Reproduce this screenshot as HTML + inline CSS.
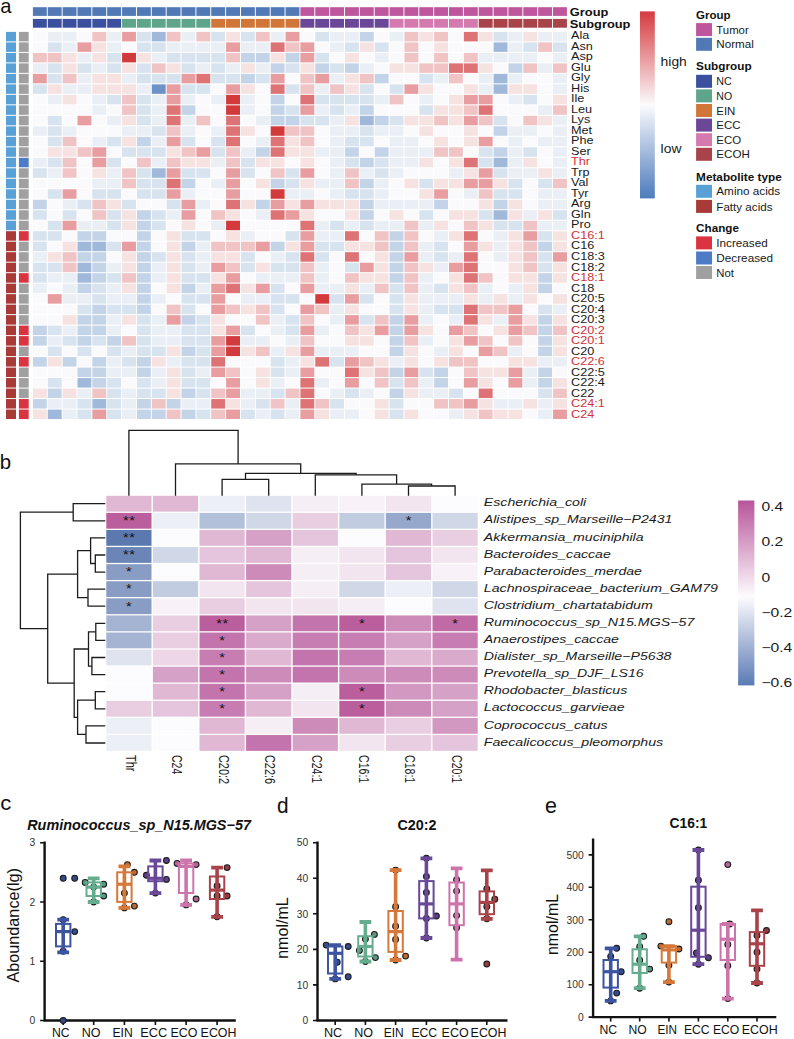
<!DOCTYPE html>
<html><head><meta charset="utf-8"><style>
html,body{margin:0;padding:0;background:#fff;}
svg{display:block;}
text{font-family:"Liberation Sans", sans-serif;}
</style></head><body>
<svg width="794" height="1039" viewBox="0 0 794 1039">
<rect width="794" height="1039" fill="#ffffff"/>
<text transform="translate(0.30,12.50) scale(0.96,1)" font-size="21.0" font-weight="normal" font-style="normal" fill="#111" text-anchor="start">a</text>
<rect x="32.90" y="7.20" width="13.90" height="8.70" fill="#5079b6" />
<rect x="32.90" y="18.90" width="13.90" height="8.80" fill="#3a4f9e" />
<rect x="47.76" y="7.20" width="13.90" height="8.70" fill="#5079b6" />
<rect x="47.76" y="18.90" width="13.90" height="8.80" fill="#3a4f9e" />
<rect x="62.62" y="7.20" width="13.90" height="8.70" fill="#5079b6" />
<rect x="62.62" y="18.90" width="13.90" height="8.80" fill="#3a4f9e" />
<rect x="77.48" y="7.20" width="13.90" height="8.70" fill="#5079b6" />
<rect x="77.48" y="18.90" width="13.90" height="8.80" fill="#3a4f9e" />
<rect x="92.34" y="7.20" width="13.90" height="8.70" fill="#5079b6" />
<rect x="92.34" y="18.90" width="13.90" height="8.80" fill="#3a4f9e" />
<rect x="107.21" y="7.20" width="13.90" height="8.70" fill="#5079b6" />
<rect x="107.21" y="18.90" width="13.90" height="8.80" fill="#3a4f9e" />
<rect x="122.07" y="7.20" width="13.90" height="8.70" fill="#5079b6" />
<rect x="122.07" y="18.90" width="13.90" height="8.80" fill="#5ea58c" />
<rect x="136.93" y="7.20" width="13.90" height="8.70" fill="#5079b6" />
<rect x="136.93" y="18.90" width="13.90" height="8.80" fill="#5ea58c" />
<rect x="151.79" y="7.20" width="13.90" height="8.70" fill="#5079b6" />
<rect x="151.79" y="18.90" width="13.90" height="8.80" fill="#5ea58c" />
<rect x="166.65" y="7.20" width="13.90" height="8.70" fill="#5079b6" />
<rect x="166.65" y="18.90" width="13.90" height="8.80" fill="#5ea58c" />
<rect x="181.51" y="7.20" width="13.90" height="8.70" fill="#5079b6" />
<rect x="181.51" y="18.90" width="13.90" height="8.80" fill="#5ea58c" />
<rect x="196.37" y="7.20" width="13.90" height="8.70" fill="#5079b6" />
<rect x="196.37" y="18.90" width="13.90" height="8.80" fill="#5ea58c" />
<rect x="211.23" y="7.20" width="13.90" height="8.70" fill="#5079b6" />
<rect x="211.23" y="18.90" width="13.90" height="8.80" fill="#d27538" />
<rect x="226.09" y="7.20" width="13.90" height="8.70" fill="#5079b6" />
<rect x="226.09" y="18.90" width="13.90" height="8.80" fill="#d27538" />
<rect x="240.95" y="7.20" width="13.90" height="8.70" fill="#5079b6" />
<rect x="240.95" y="18.90" width="13.90" height="8.80" fill="#d27538" />
<rect x="255.82" y="7.20" width="13.90" height="8.70" fill="#5079b6" />
<rect x="255.82" y="18.90" width="13.90" height="8.80" fill="#d27538" />
<rect x="270.68" y="7.20" width="13.90" height="8.70" fill="#5079b6" />
<rect x="270.68" y="18.90" width="13.90" height="8.80" fill="#d27538" />
<rect x="285.54" y="7.20" width="13.90" height="8.70" fill="#5079b6" />
<rect x="285.54" y="18.90" width="13.90" height="8.80" fill="#d27538" />
<rect x="300.40" y="7.20" width="13.90" height="8.70" fill="#bd569c" />
<rect x="300.40" y="18.90" width="13.90" height="8.80" fill="#6a4797" />
<rect x="315.26" y="7.20" width="13.90" height="8.70" fill="#bd569c" />
<rect x="315.26" y="18.90" width="13.90" height="8.80" fill="#6a4797" />
<rect x="330.12" y="7.20" width="13.90" height="8.70" fill="#bd569c" />
<rect x="330.12" y="18.90" width="13.90" height="8.80" fill="#6a4797" />
<rect x="344.98" y="7.20" width="13.90" height="8.70" fill="#bd569c" />
<rect x="344.98" y="18.90" width="13.90" height="8.80" fill="#6a4797" />
<rect x="359.84" y="7.20" width="13.90" height="8.70" fill="#bd569c" />
<rect x="359.84" y="18.90" width="13.90" height="8.80" fill="#6a4797" />
<rect x="374.70" y="7.20" width="13.90" height="8.70" fill="#bd569c" />
<rect x="374.70" y="18.90" width="13.90" height="8.80" fill="#6a4797" />
<rect x="389.56" y="7.20" width="13.90" height="8.70" fill="#bd569c" />
<rect x="389.56" y="18.90" width="13.90" height="8.80" fill="#d47aae" />
<rect x="404.43" y="7.20" width="13.90" height="8.70" fill="#bd569c" />
<rect x="404.43" y="18.90" width="13.90" height="8.80" fill="#d47aae" />
<rect x="419.29" y="7.20" width="13.90" height="8.70" fill="#bd569c" />
<rect x="419.29" y="18.90" width="13.90" height="8.80" fill="#d47aae" />
<rect x="434.15" y="7.20" width="13.90" height="8.70" fill="#bd569c" />
<rect x="434.15" y="18.90" width="13.90" height="8.80" fill="#d47aae" />
<rect x="449.01" y="7.20" width="13.90" height="8.70" fill="#bd569c" />
<rect x="449.01" y="18.90" width="13.90" height="8.80" fill="#d47aae" />
<rect x="463.87" y="7.20" width="13.90" height="8.70" fill="#bd569c" />
<rect x="463.87" y="18.90" width="13.90" height="8.80" fill="#d47aae" />
<rect x="478.73" y="7.20" width="13.90" height="8.70" fill="#bd569c" />
<rect x="478.73" y="18.90" width="13.90" height="8.80" fill="#a8434a" />
<rect x="493.59" y="7.20" width="13.90" height="8.70" fill="#bd569c" />
<rect x="493.59" y="18.90" width="13.90" height="8.80" fill="#a8434a" />
<rect x="508.45" y="7.20" width="13.90" height="8.70" fill="#bd569c" />
<rect x="508.45" y="18.90" width="13.90" height="8.80" fill="#a8434a" />
<rect x="523.31" y="7.20" width="13.90" height="8.70" fill="#bd569c" />
<rect x="523.31" y="18.90" width="13.90" height="8.80" fill="#a8434a" />
<rect x="538.17" y="7.20" width="13.90" height="8.70" fill="#bd569c" />
<rect x="538.17" y="18.90" width="13.90" height="8.80" fill="#a8434a" />
<rect x="553.03" y="7.20" width="13.90" height="8.70" fill="#bd569c" />
<rect x="553.03" y="18.90" width="13.90" height="8.80" fill="#a8434a" />
<rect x="32.90" y="31.90" width="13.90" height="9.50" fill="#fafafc" />
<rect x="47.76" y="31.90" width="13.90" height="9.50" fill="#eaeff6" />
<rect x="62.62" y="31.90" width="13.90" height="9.50" fill="#eaeff6" />
<rect x="77.48" y="31.90" width="13.90" height="9.50" fill="#fafafc" />
<rect x="92.34" y="31.90" width="13.90" height="9.50" fill="#f0c4c5" />
<rect x="107.21" y="31.90" width="13.90" height="9.50" fill="#eaeff6" />
<rect x="122.07" y="31.90" width="13.90" height="9.50" fill="#e89ea0" />
<rect x="136.93" y="31.90" width="13.90" height="9.50" fill="#d8e3f0" />
<rect x="151.79" y="31.90" width="13.90" height="9.50" fill="#a0b9db" />
<rect x="166.65" y="31.90" width="13.90" height="9.50" fill="#f0c4c5" />
<rect x="181.51" y="31.90" width="13.90" height="9.50" fill="#eaeff6" />
<rect x="196.37" y="31.90" width="13.90" height="9.50" fill="#f0c4c5" />
<rect x="211.23" y="31.90" width="13.90" height="9.50" fill="#d8e3f0" />
<rect x="226.09" y="31.90" width="13.90" height="9.50" fill="#f7e2e2" />
<rect x="240.95" y="31.90" width="13.90" height="9.50" fill="#d8e3f0" />
<rect x="255.82" y="31.90" width="13.90" height="9.50" fill="#f0c4c5" />
<rect x="270.68" y="31.90" width="13.90" height="9.50" fill="#eaeff6" />
<rect x="285.54" y="31.90" width="13.90" height="9.50" fill="#e89ea0" />
<rect x="300.40" y="31.90" width="13.90" height="9.50" fill="#fafafc" />
<rect x="315.26" y="31.90" width="13.90" height="9.50" fill="#d8e3f0" />
<rect x="330.12" y="31.90" width="13.90" height="9.50" fill="#eaeff6" />
<rect x="344.98" y="31.90" width="13.90" height="9.50" fill="#eaeff6" />
<rect x="359.84" y="31.90" width="13.90" height="9.50" fill="#c4d4e8" />
<rect x="374.70" y="31.90" width="13.90" height="9.50" fill="#fafafc" />
<rect x="389.56" y="31.90" width="13.90" height="9.50" fill="#eaeff6" />
<rect x="404.43" y="31.90" width="13.90" height="9.50" fill="#f0c4c5" />
<rect x="419.29" y="31.90" width="13.90" height="9.50" fill="#f7e2e2" />
<rect x="434.15" y="31.90" width="13.90" height="9.50" fill="#f0c4c5" />
<rect x="449.01" y="31.90" width="13.90" height="9.50" fill="#fafafc" />
<rect x="463.87" y="31.90" width="13.90" height="9.50" fill="#de7376" />
<rect x="478.73" y="31.90" width="13.90" height="9.50" fill="#f7e2e2" />
<rect x="493.59" y="31.90" width="13.90" height="9.50" fill="#d8e3f0" />
<rect x="508.45" y="31.90" width="13.90" height="9.50" fill="#eaeff6" />
<rect x="523.31" y="31.90" width="13.90" height="9.50" fill="#f7e2e2" />
<rect x="538.17" y="31.90" width="13.90" height="9.50" fill="#eaeff6" />
<rect x="553.03" y="31.90" width="13.90" height="9.50" fill="#eaeff6" />
<rect x="6.00" y="31.90" width="10.00" height="9.50" fill="#58a0d6" />
<rect x="18.90" y="31.90" width="9.80" height="9.50" fill="#a0a0a0" />
<rect x="32.90" y="42.39" width="13.90" height="9.50" fill="#fafafc" />
<rect x="47.76" y="42.39" width="13.90" height="9.50" fill="#d8e3f0" />
<rect x="62.62" y="42.39" width="13.90" height="9.50" fill="#eaeff6" />
<rect x="77.48" y="42.39" width="13.90" height="9.50" fill="#e89ea0" />
<rect x="92.34" y="42.39" width="13.90" height="9.50" fill="#f7e2e2" />
<rect x="107.21" y="42.39" width="13.90" height="9.50" fill="#eaeff6" />
<rect x="122.07" y="42.39" width="13.90" height="9.50" fill="#fafafc" />
<rect x="136.93" y="42.39" width="13.90" height="9.50" fill="#d8e3f0" />
<rect x="151.79" y="42.39" width="13.90" height="9.50" fill="#d8e3f0" />
<rect x="166.65" y="42.39" width="13.90" height="9.50" fill="#eaeff6" />
<rect x="181.51" y="42.39" width="13.90" height="9.50" fill="#eaeff6" />
<rect x="196.37" y="42.39" width="13.90" height="9.50" fill="#eaeff6" />
<rect x="211.23" y="42.39" width="13.90" height="9.50" fill="#eaeff6" />
<rect x="226.09" y="42.39" width="13.90" height="9.50" fill="#e89ea0" />
<rect x="240.95" y="42.39" width="13.90" height="9.50" fill="#eaeff6" />
<rect x="255.82" y="42.39" width="13.90" height="9.50" fill="#eaeff6" />
<rect x="270.68" y="42.39" width="13.90" height="9.50" fill="#de7376" />
<rect x="285.54" y="42.39" width="13.90" height="9.50" fill="#f0c4c5" />
<rect x="300.40" y="42.39" width="13.90" height="9.50" fill="#e89ea0" />
<rect x="315.26" y="42.39" width="13.90" height="9.50" fill="#fafafc" />
<rect x="330.12" y="42.39" width="13.90" height="9.50" fill="#eaeff6" />
<rect x="344.98" y="42.39" width="13.90" height="9.50" fill="#d8e3f0" />
<rect x="359.84" y="42.39" width="13.90" height="9.50" fill="#f7e2e2" />
<rect x="374.70" y="42.39" width="13.90" height="9.50" fill="#d8e3f0" />
<rect x="389.56" y="42.39" width="13.90" height="9.50" fill="#fafafc" />
<rect x="404.43" y="42.39" width="13.90" height="9.50" fill="#f0c4c5" />
<rect x="419.29" y="42.39" width="13.90" height="9.50" fill="#fafafc" />
<rect x="434.15" y="42.39" width="13.90" height="9.50" fill="#f7e2e2" />
<rect x="449.01" y="42.39" width="13.90" height="9.50" fill="#fafafc" />
<rect x="463.87" y="42.39" width="13.90" height="9.50" fill="#fafafc" />
<rect x="478.73" y="42.39" width="13.90" height="9.50" fill="#fafafc" />
<rect x="493.59" y="42.39" width="13.90" height="9.50" fill="#a0b9db" />
<rect x="508.45" y="42.39" width="13.90" height="9.50" fill="#eaeff6" />
<rect x="523.31" y="42.39" width="13.90" height="9.50" fill="#d8e3f0" />
<rect x="538.17" y="42.39" width="13.90" height="9.50" fill="#f0c4c5" />
<rect x="553.03" y="42.39" width="13.90" height="9.50" fill="#d8e3f0" />
<rect x="6.00" y="42.39" width="10.00" height="9.50" fill="#58a0d6" />
<rect x="18.90" y="42.39" width="9.80" height="9.50" fill="#a0a0a0" />
<rect x="32.90" y="52.88" width="13.90" height="9.50" fill="#f0c4c5" />
<rect x="47.76" y="52.88" width="13.90" height="9.50" fill="#f0c4c5" />
<rect x="62.62" y="52.88" width="13.90" height="9.50" fill="#f7e2e2" />
<rect x="77.48" y="52.88" width="13.90" height="9.50" fill="#eaeff6" />
<rect x="92.34" y="52.88" width="13.90" height="9.50" fill="#f7e2e2" />
<rect x="107.21" y="52.88" width="13.90" height="9.50" fill="#d8e3f0" />
<rect x="122.07" y="52.88" width="13.90" height="9.50" fill="#d23a3c" />
<rect x="136.93" y="52.88" width="13.90" height="9.50" fill="#f7e2e2" />
<rect x="151.79" y="52.88" width="13.90" height="9.50" fill="#eaeff6" />
<rect x="166.65" y="52.88" width="13.90" height="9.50" fill="#d8e3f0" />
<rect x="181.51" y="52.88" width="13.90" height="9.50" fill="#d8e3f0" />
<rect x="196.37" y="52.88" width="13.90" height="9.50" fill="#d8e3f0" />
<rect x="211.23" y="52.88" width="13.90" height="9.50" fill="#d8e3f0" />
<rect x="226.09" y="52.88" width="13.90" height="9.50" fill="#f0c4c5" />
<rect x="240.95" y="52.88" width="13.90" height="9.50" fill="#c4d4e8" />
<rect x="255.82" y="52.88" width="13.90" height="9.50" fill="#c4d4e8" />
<rect x="270.68" y="52.88" width="13.90" height="9.50" fill="#f7e2e2" />
<rect x="285.54" y="52.88" width="13.90" height="9.50" fill="#c4d4e8" />
<rect x="300.40" y="52.88" width="13.90" height="9.50" fill="#e89ea0" />
<rect x="315.26" y="52.88" width="13.90" height="9.50" fill="#d8e3f0" />
<rect x="330.12" y="52.88" width="13.90" height="9.50" fill="#fafafc" />
<rect x="344.98" y="52.88" width="13.90" height="9.50" fill="#f7e2e2" />
<rect x="359.84" y="52.88" width="13.90" height="9.50" fill="#fafafc" />
<rect x="374.70" y="52.88" width="13.90" height="9.50" fill="#eaeff6" />
<rect x="389.56" y="52.88" width="13.90" height="9.50" fill="#fafafc" />
<rect x="404.43" y="52.88" width="13.90" height="9.50" fill="#f0c4c5" />
<rect x="419.29" y="52.88" width="13.90" height="9.50" fill="#fafafc" />
<rect x="434.15" y="52.88" width="13.90" height="9.50" fill="#f0c4c5" />
<rect x="449.01" y="52.88" width="13.90" height="9.50" fill="#fafafc" />
<rect x="463.87" y="52.88" width="13.90" height="9.50" fill="#f0c4c5" />
<rect x="478.73" y="52.88" width="13.90" height="9.50" fill="#eaeff6" />
<rect x="493.59" y="52.88" width="13.90" height="9.50" fill="#eaeff6" />
<rect x="508.45" y="52.88" width="13.90" height="9.50" fill="#eaeff6" />
<rect x="523.31" y="52.88" width="13.90" height="9.50" fill="#eaeff6" />
<rect x="538.17" y="52.88" width="13.90" height="9.50" fill="#fafafc" />
<rect x="553.03" y="52.88" width="13.90" height="9.50" fill="#eaeff6" />
<rect x="6.00" y="52.88" width="10.00" height="9.50" fill="#58a0d6" />
<rect x="18.90" y="52.88" width="9.80" height="9.50" fill="#a0a0a0" />
<rect x="32.90" y="63.37" width="13.90" height="9.50" fill="#eaeff6" />
<rect x="47.76" y="63.37" width="13.90" height="9.50" fill="#d8e3f0" />
<rect x="62.62" y="63.37" width="13.90" height="9.50" fill="#f7e2e2" />
<rect x="77.48" y="63.37" width="13.90" height="9.50" fill="#d8e3f0" />
<rect x="92.34" y="63.37" width="13.90" height="9.50" fill="#eaeff6" />
<rect x="107.21" y="63.37" width="13.90" height="9.50" fill="#d8e3f0" />
<rect x="122.07" y="63.37" width="13.90" height="9.50" fill="#f7e2e2" />
<rect x="136.93" y="63.37" width="13.90" height="9.50" fill="#d8e3f0" />
<rect x="151.79" y="63.37" width="13.90" height="9.50" fill="#f0c4c5" />
<rect x="166.65" y="63.37" width="13.90" height="9.50" fill="#f7e2e2" />
<rect x="181.51" y="63.37" width="13.90" height="9.50" fill="#d8e3f0" />
<rect x="196.37" y="63.37" width="13.90" height="9.50" fill="#eaeff6" />
<rect x="211.23" y="63.37" width="13.90" height="9.50" fill="#d8e3f0" />
<rect x="226.09" y="63.37" width="13.90" height="9.50" fill="#eaeff6" />
<rect x="240.95" y="63.37" width="13.90" height="9.50" fill="#f7e2e2" />
<rect x="255.82" y="63.37" width="13.90" height="9.50" fill="#eaeff6" />
<rect x="270.68" y="63.37" width="13.90" height="9.50" fill="#c4d4e8" />
<rect x="285.54" y="63.37" width="13.90" height="9.50" fill="#d8e3f0" />
<rect x="300.40" y="63.37" width="13.90" height="9.50" fill="#f7e2e2" />
<rect x="315.26" y="63.37" width="13.90" height="9.50" fill="#c4d4e8" />
<rect x="330.12" y="63.37" width="13.90" height="9.50" fill="#d8e3f0" />
<rect x="344.98" y="63.37" width="13.90" height="9.50" fill="#c4d4e8" />
<rect x="359.84" y="63.37" width="13.90" height="9.50" fill="#eaeff6" />
<rect x="374.70" y="63.37" width="13.90" height="9.50" fill="#fafafc" />
<rect x="389.56" y="63.37" width="13.90" height="9.50" fill="#f7e2e2" />
<rect x="404.43" y="63.37" width="13.90" height="9.50" fill="#f7e2e2" />
<rect x="419.29" y="63.37" width="13.90" height="9.50" fill="#f0c4c5" />
<rect x="434.15" y="63.37" width="13.90" height="9.50" fill="#f0c4c5" />
<rect x="449.01" y="63.37" width="13.90" height="9.50" fill="#de7376" />
<rect x="463.87" y="63.37" width="13.90" height="9.50" fill="#de7376" />
<rect x="478.73" y="63.37" width="13.90" height="9.50" fill="#f7e2e2" />
<rect x="493.59" y="63.37" width="13.90" height="9.50" fill="#fafafc" />
<rect x="508.45" y="63.37" width="13.90" height="9.50" fill="#c4d4e8" />
<rect x="523.31" y="63.37" width="13.90" height="9.50" fill="#f0c4c5" />
<rect x="538.17" y="63.37" width="13.90" height="9.50" fill="#eaeff6" />
<rect x="553.03" y="63.37" width="13.90" height="9.50" fill="#f0c4c5" />
<rect x="6.00" y="63.37" width="10.00" height="9.50" fill="#58a0d6" />
<rect x="18.90" y="63.37" width="9.80" height="9.50" fill="#a0a0a0" />
<rect x="32.90" y="73.86" width="13.90" height="9.50" fill="#e89ea0" />
<rect x="47.76" y="73.86" width="13.90" height="9.50" fill="#d8e3f0" />
<rect x="62.62" y="73.86" width="13.90" height="9.50" fill="#f0c4c5" />
<rect x="77.48" y="73.86" width="13.90" height="9.50" fill="#eaeff6" />
<rect x="92.34" y="73.86" width="13.90" height="9.50" fill="#f7e2e2" />
<rect x="107.21" y="73.86" width="13.90" height="9.50" fill="#f7e2e2" />
<rect x="122.07" y="73.86" width="13.90" height="9.50" fill="#eaeff6" />
<rect x="136.93" y="73.86" width="13.90" height="9.50" fill="#d8e3f0" />
<rect x="151.79" y="73.86" width="13.90" height="9.50" fill="#d8e3f0" />
<rect x="166.65" y="73.86" width="13.90" height="9.50" fill="#d8e3f0" />
<rect x="181.51" y="73.86" width="13.90" height="9.50" fill="#e89ea0" />
<rect x="196.37" y="73.86" width="13.90" height="9.50" fill="#de7376" />
<rect x="211.23" y="73.86" width="13.90" height="9.50" fill="#d8e3f0" />
<rect x="226.09" y="73.86" width="13.90" height="9.50" fill="#d8e3f0" />
<rect x="240.95" y="73.86" width="13.90" height="9.50" fill="#c4d4e8" />
<rect x="255.82" y="73.86" width="13.90" height="9.50" fill="#d8e3f0" />
<rect x="270.68" y="73.86" width="13.90" height="9.50" fill="#e89ea0" />
<rect x="285.54" y="73.86" width="13.90" height="9.50" fill="#fafafc" />
<rect x="300.40" y="73.86" width="13.90" height="9.50" fill="#f0c4c5" />
<rect x="315.26" y="73.86" width="13.90" height="9.50" fill="#e89ea0" />
<rect x="330.12" y="73.86" width="13.90" height="9.50" fill="#eaeff6" />
<rect x="344.98" y="73.86" width="13.90" height="9.50" fill="#f7e2e2" />
<rect x="359.84" y="73.86" width="13.90" height="9.50" fill="#f0c4c5" />
<rect x="374.70" y="73.86" width="13.90" height="9.50" fill="#c4d4e8" />
<rect x="389.56" y="73.86" width="13.90" height="9.50" fill="#fafafc" />
<rect x="404.43" y="73.86" width="13.90" height="9.50" fill="#fafafc" />
<rect x="419.29" y="73.86" width="13.90" height="9.50" fill="#d8e3f0" />
<rect x="434.15" y="73.86" width="13.90" height="9.50" fill="#eaeff6" />
<rect x="449.01" y="73.86" width="13.90" height="9.50" fill="#f0c4c5" />
<rect x="463.87" y="73.86" width="13.90" height="9.50" fill="#fafafc" />
<rect x="478.73" y="73.86" width="13.90" height="9.50" fill="#eaeff6" />
<rect x="493.59" y="73.86" width="13.90" height="9.50" fill="#a0b9db" />
<rect x="508.45" y="73.86" width="13.90" height="9.50" fill="#eaeff6" />
<rect x="523.31" y="73.86" width="13.90" height="9.50" fill="#fafafc" />
<rect x="538.17" y="73.86" width="13.90" height="9.50" fill="#fafafc" />
<rect x="553.03" y="73.86" width="13.90" height="9.50" fill="#eaeff6" />
<rect x="6.00" y="73.86" width="10.00" height="9.50" fill="#58a0d6" />
<rect x="18.90" y="73.86" width="9.80" height="9.50" fill="#a0a0a0" />
<rect x="32.90" y="84.35" width="13.90" height="9.50" fill="#d8e3f0" />
<rect x="47.76" y="84.35" width="13.90" height="9.50" fill="#f7e2e2" />
<rect x="62.62" y="84.35" width="13.90" height="9.50" fill="#eaeff6" />
<rect x="77.48" y="84.35" width="13.90" height="9.50" fill="#eaeff6" />
<rect x="92.34" y="84.35" width="13.90" height="9.50" fill="#f7e2e2" />
<rect x="107.21" y="84.35" width="13.90" height="9.50" fill="#f7e2e2" />
<rect x="122.07" y="84.35" width="13.90" height="9.50" fill="#f7e2e2" />
<rect x="136.93" y="84.35" width="13.90" height="9.50" fill="#eaeff6" />
<rect x="151.79" y="84.35" width="13.90" height="9.50" fill="#6c92c8" />
<rect x="166.65" y="84.35" width="13.90" height="9.50" fill="#e89ea0" />
<rect x="181.51" y="84.35" width="13.90" height="9.50" fill="#d8e3f0" />
<rect x="196.37" y="84.35" width="13.90" height="9.50" fill="#d8e3f0" />
<rect x="211.23" y="84.35" width="13.90" height="9.50" fill="#fafafc" />
<rect x="226.09" y="84.35" width="13.90" height="9.50" fill="#e89ea0" />
<rect x="240.95" y="84.35" width="13.90" height="9.50" fill="#f7e2e2" />
<rect x="255.82" y="84.35" width="13.90" height="9.50" fill="#fafafc" />
<rect x="270.68" y="84.35" width="13.90" height="9.50" fill="#de7376" />
<rect x="285.54" y="84.35" width="13.90" height="9.50" fill="#d8e3f0" />
<rect x="300.40" y="84.35" width="13.90" height="9.50" fill="#f0c4c5" />
<rect x="315.26" y="84.35" width="13.90" height="9.50" fill="#eaeff6" />
<rect x="330.12" y="84.35" width="13.90" height="9.50" fill="#f0c4c5" />
<rect x="344.98" y="84.35" width="13.90" height="9.50" fill="#f7e2e2" />
<rect x="359.84" y="84.35" width="13.90" height="9.50" fill="#d8e3f0" />
<rect x="374.70" y="84.35" width="13.90" height="9.50" fill="#fafafc" />
<rect x="389.56" y="84.35" width="13.90" height="9.50" fill="#d8e3f0" />
<rect x="404.43" y="84.35" width="13.90" height="9.50" fill="#e89ea0" />
<rect x="419.29" y="84.35" width="13.90" height="9.50" fill="#f7e2e2" />
<rect x="434.15" y="84.35" width="13.90" height="9.50" fill="#fafafc" />
<rect x="449.01" y="84.35" width="13.90" height="9.50" fill="#fafafc" />
<rect x="463.87" y="84.35" width="13.90" height="9.50" fill="#f7e2e2" />
<rect x="478.73" y="84.35" width="13.90" height="9.50" fill="#eaeff6" />
<rect x="493.59" y="84.35" width="13.90" height="9.50" fill="#a0b9db" />
<rect x="508.45" y="84.35" width="13.90" height="9.50" fill="#f7e2e2" />
<rect x="523.31" y="84.35" width="13.90" height="9.50" fill="#f7e2e2" />
<rect x="538.17" y="84.35" width="13.90" height="9.50" fill="#fafafc" />
<rect x="553.03" y="84.35" width="13.90" height="9.50" fill="#eaeff6" />
<rect x="6.00" y="84.35" width="10.00" height="9.50" fill="#58a0d6" />
<rect x="18.90" y="84.35" width="9.80" height="9.50" fill="#a0a0a0" />
<rect x="32.90" y="94.84" width="13.90" height="9.50" fill="#fafafc" />
<rect x="47.76" y="94.84" width="13.90" height="9.50" fill="#eaeff6" />
<rect x="62.62" y="94.84" width="13.90" height="9.50" fill="#f7e2e2" />
<rect x="77.48" y="94.84" width="13.90" height="9.50" fill="#fafafc" />
<rect x="92.34" y="94.84" width="13.90" height="9.50" fill="#eaeff6" />
<rect x="107.21" y="94.84" width="13.90" height="9.50" fill="#d8e3f0" />
<rect x="122.07" y="94.84" width="13.90" height="9.50" fill="#f0c4c5" />
<rect x="136.93" y="94.84" width="13.90" height="9.50" fill="#d8e3f0" />
<rect x="151.79" y="94.84" width="13.90" height="9.50" fill="#eaeff6" />
<rect x="166.65" y="94.84" width="13.90" height="9.50" fill="#e89ea0" />
<rect x="181.51" y="94.84" width="13.90" height="9.50" fill="#eaeff6" />
<rect x="196.37" y="94.84" width="13.90" height="9.50" fill="#fafafc" />
<rect x="211.23" y="94.84" width="13.90" height="9.50" fill="#eaeff6" />
<rect x="226.09" y="94.84" width="13.90" height="9.50" fill="#d23a3c" />
<rect x="240.95" y="94.84" width="13.90" height="9.50" fill="#eaeff6" />
<rect x="255.82" y="94.84" width="13.90" height="9.50" fill="#fafafc" />
<rect x="270.68" y="94.84" width="13.90" height="9.50" fill="#c4d4e8" />
<rect x="285.54" y="94.84" width="13.90" height="9.50" fill="#fafafc" />
<rect x="300.40" y="94.84" width="13.90" height="9.50" fill="#de7376" />
<rect x="315.26" y="94.84" width="13.90" height="9.50" fill="#d8e3f0" />
<rect x="330.12" y="94.84" width="13.90" height="9.50" fill="#d8e3f0" />
<rect x="344.98" y="94.84" width="13.90" height="9.50" fill="#d8e3f0" />
<rect x="359.84" y="94.84" width="13.90" height="9.50" fill="#d8e3f0" />
<rect x="374.70" y="94.84" width="13.90" height="9.50" fill="#eaeff6" />
<rect x="389.56" y="94.84" width="13.90" height="9.50" fill="#f0c4c5" />
<rect x="404.43" y="94.84" width="13.90" height="9.50" fill="#fafafc" />
<rect x="419.29" y="94.84" width="13.90" height="9.50" fill="#eaeff6" />
<rect x="434.15" y="94.84" width="13.90" height="9.50" fill="#fafafc" />
<rect x="449.01" y="94.84" width="13.90" height="9.50" fill="#f7e2e2" />
<rect x="463.87" y="94.84" width="13.90" height="9.50" fill="#e89ea0" />
<rect x="478.73" y="94.84" width="13.90" height="9.50" fill="#e89ea0" />
<rect x="493.59" y="94.84" width="13.90" height="9.50" fill="#fafafc" />
<rect x="508.45" y="94.84" width="13.90" height="9.50" fill="#eaeff6" />
<rect x="523.31" y="94.84" width="13.90" height="9.50" fill="#d8e3f0" />
<rect x="538.17" y="94.84" width="13.90" height="9.50" fill="#fafafc" />
<rect x="553.03" y="94.84" width="13.90" height="9.50" fill="#f7e2e2" />
<rect x="6.00" y="94.84" width="10.00" height="9.50" fill="#58a0d6" />
<rect x="18.90" y="94.84" width="9.80" height="9.50" fill="#a0a0a0" />
<rect x="32.90" y="105.33" width="13.90" height="9.50" fill="#fafafc" />
<rect x="47.76" y="105.33" width="13.90" height="9.50" fill="#fafafc" />
<rect x="62.62" y="105.33" width="13.90" height="9.50" fill="#fafafc" />
<rect x="77.48" y="105.33" width="13.90" height="9.50" fill="#fafafc" />
<rect x="92.34" y="105.33" width="13.90" height="9.50" fill="#eaeff6" />
<rect x="107.21" y="105.33" width="13.90" height="9.50" fill="#fafafc" />
<rect x="122.07" y="105.33" width="13.90" height="9.50" fill="#f0c4c5" />
<rect x="136.93" y="105.33" width="13.90" height="9.50" fill="#d8e3f0" />
<rect x="151.79" y="105.33" width="13.90" height="9.50" fill="#eaeff6" />
<rect x="166.65" y="105.33" width="13.90" height="9.50" fill="#de7376" />
<rect x="181.51" y="105.33" width="13.90" height="9.50" fill="#c4d4e8" />
<rect x="196.37" y="105.33" width="13.90" height="9.50" fill="#fafafc" />
<rect x="211.23" y="105.33" width="13.90" height="9.50" fill="#fafafc" />
<rect x="226.09" y="105.33" width="13.90" height="9.50" fill="#d23a3c" />
<rect x="240.95" y="105.33" width="13.90" height="9.50" fill="#eaeff6" />
<rect x="255.82" y="105.33" width="13.90" height="9.50" fill="#fafafc" />
<rect x="270.68" y="105.33" width="13.90" height="9.50" fill="#c4d4e8" />
<rect x="285.54" y="105.33" width="13.90" height="9.50" fill="#d8e3f0" />
<rect x="300.40" y="105.33" width="13.90" height="9.50" fill="#e89ea0" />
<rect x="315.26" y="105.33" width="13.90" height="9.50" fill="#eaeff6" />
<rect x="330.12" y="105.33" width="13.90" height="9.50" fill="#d8e3f0" />
<rect x="344.98" y="105.33" width="13.90" height="9.50" fill="#eaeff6" />
<rect x="359.84" y="105.33" width="13.90" height="9.50" fill="#c4d4e8" />
<rect x="374.70" y="105.33" width="13.90" height="9.50" fill="#fafafc" />
<rect x="389.56" y="105.33" width="13.90" height="9.50" fill="#fafafc" />
<rect x="404.43" y="105.33" width="13.90" height="9.50" fill="#fafafc" />
<rect x="419.29" y="105.33" width="13.90" height="9.50" fill="#d8e3f0" />
<rect x="434.15" y="105.33" width="13.90" height="9.50" fill="#f7e2e2" />
<rect x="449.01" y="105.33" width="13.90" height="9.50" fill="#f7e2e2" />
<rect x="463.87" y="105.33" width="13.90" height="9.50" fill="#f0c4c5" />
<rect x="478.73" y="105.33" width="13.90" height="9.50" fill="#de7376" />
<rect x="493.59" y="105.33" width="13.90" height="9.50" fill="#fafafc" />
<rect x="508.45" y="105.33" width="13.90" height="9.50" fill="#fafafc" />
<rect x="523.31" y="105.33" width="13.90" height="9.50" fill="#fafafc" />
<rect x="538.17" y="105.33" width="13.90" height="9.50" fill="#eaeff6" />
<rect x="553.03" y="105.33" width="13.90" height="9.50" fill="#f0c4c5" />
<rect x="6.00" y="105.33" width="10.00" height="9.50" fill="#58a0d6" />
<rect x="18.90" y="105.33" width="9.80" height="9.50" fill="#a0a0a0" />
<rect x="32.90" y="115.82" width="13.90" height="9.50" fill="#fafafc" />
<rect x="47.76" y="115.82" width="13.90" height="9.50" fill="#d8e3f0" />
<rect x="62.62" y="115.82" width="13.90" height="9.50" fill="#fafafc" />
<rect x="77.48" y="115.82" width="13.90" height="9.50" fill="#e89ea0" />
<rect x="92.34" y="115.82" width="13.90" height="9.50" fill="#fafafc" />
<rect x="107.21" y="115.82" width="13.90" height="9.50" fill="#eaeff6" />
<rect x="122.07" y="115.82" width="13.90" height="9.50" fill="#f7e2e2" />
<rect x="136.93" y="115.82" width="13.90" height="9.50" fill="#d8e3f0" />
<rect x="151.79" y="115.82" width="13.90" height="9.50" fill="#eaeff6" />
<rect x="166.65" y="115.82" width="13.90" height="9.50" fill="#de7376" />
<rect x="181.51" y="115.82" width="13.90" height="9.50" fill="#eaeff6" />
<rect x="196.37" y="115.82" width="13.90" height="9.50" fill="#f0c4c5" />
<rect x="211.23" y="115.82" width="13.90" height="9.50" fill="#fafafc" />
<rect x="226.09" y="115.82" width="13.90" height="9.50" fill="#de7376" />
<rect x="240.95" y="115.82" width="13.90" height="9.50" fill="#fafafc" />
<rect x="255.82" y="115.82" width="13.90" height="9.50" fill="#eaeff6" />
<rect x="270.68" y="115.82" width="13.90" height="9.50" fill="#c4d4e8" />
<rect x="285.54" y="115.82" width="13.90" height="9.50" fill="#c4d4e8" />
<rect x="300.40" y="115.82" width="13.90" height="9.50" fill="#d8e3f0" />
<rect x="315.26" y="115.82" width="13.90" height="9.50" fill="#d8e3f0" />
<rect x="330.12" y="115.82" width="13.90" height="9.50" fill="#eaeff6" />
<rect x="344.98" y="115.82" width="13.90" height="9.50" fill="#f7e2e2" />
<rect x="359.84" y="115.82" width="13.90" height="9.50" fill="#a0b9db" />
<rect x="374.70" y="115.82" width="13.90" height="9.50" fill="#c4d4e8" />
<rect x="389.56" y="115.82" width="13.90" height="9.50" fill="#d8e3f0" />
<rect x="404.43" y="115.82" width="13.90" height="9.50" fill="#f7e2e2" />
<rect x="419.29" y="115.82" width="13.90" height="9.50" fill="#f7e2e2" />
<rect x="434.15" y="115.82" width="13.90" height="9.50" fill="#f0c4c5" />
<rect x="449.01" y="115.82" width="13.90" height="9.50" fill="#f7e2e2" />
<rect x="463.87" y="115.82" width="13.90" height="9.50" fill="#e89ea0" />
<rect x="478.73" y="115.82" width="13.90" height="9.50" fill="#f0c4c5" />
<rect x="493.59" y="115.82" width="13.90" height="9.50" fill="#d8e3f0" />
<rect x="508.45" y="115.82" width="13.90" height="9.50" fill="#fafafc" />
<rect x="523.31" y="115.82" width="13.90" height="9.50" fill="#f0c4c5" />
<rect x="538.17" y="115.82" width="13.90" height="9.50" fill="#f7e2e2" />
<rect x="553.03" y="115.82" width="13.90" height="9.50" fill="#eaeff6" />
<rect x="6.00" y="115.82" width="10.00" height="9.50" fill="#58a0d6" />
<rect x="18.90" y="115.82" width="9.80" height="9.50" fill="#a0a0a0" />
<rect x="32.90" y="126.31" width="13.90" height="9.50" fill="#eaeff6" />
<rect x="47.76" y="126.31" width="13.90" height="9.50" fill="#d8e3f0" />
<rect x="62.62" y="126.31" width="13.90" height="9.50" fill="#eaeff6" />
<rect x="77.48" y="126.31" width="13.90" height="9.50" fill="#fafafc" />
<rect x="92.34" y="126.31" width="13.90" height="9.50" fill="#fafafc" />
<rect x="107.21" y="126.31" width="13.90" height="9.50" fill="#fafafc" />
<rect x="122.07" y="126.31" width="13.90" height="9.50" fill="#eaeff6" />
<rect x="136.93" y="126.31" width="13.90" height="9.50" fill="#eaeff6" />
<rect x="151.79" y="126.31" width="13.90" height="9.50" fill="#d8e3f0" />
<rect x="166.65" y="126.31" width="13.90" height="9.50" fill="#f0c4c5" />
<rect x="181.51" y="126.31" width="13.90" height="9.50" fill="#eaeff6" />
<rect x="196.37" y="126.31" width="13.90" height="9.50" fill="#fafafc" />
<rect x="211.23" y="126.31" width="13.90" height="9.50" fill="#eaeff6" />
<rect x="226.09" y="126.31" width="13.90" height="9.50" fill="#de7376" />
<rect x="240.95" y="126.31" width="13.90" height="9.50" fill="#f7e2e2" />
<rect x="255.82" y="126.31" width="13.90" height="9.50" fill="#fafafc" />
<rect x="270.68" y="126.31" width="13.90" height="9.50" fill="#d23a3c" />
<rect x="285.54" y="126.31" width="13.90" height="9.50" fill="#f0c4c5" />
<rect x="300.40" y="126.31" width="13.90" height="9.50" fill="#f0c4c5" />
<rect x="315.26" y="126.31" width="13.90" height="9.50" fill="#fafafc" />
<rect x="330.12" y="126.31" width="13.90" height="9.50" fill="#eaeff6" />
<rect x="344.98" y="126.31" width="13.90" height="9.50" fill="#eaeff6" />
<rect x="359.84" y="126.31" width="13.90" height="9.50" fill="#d8e3f0" />
<rect x="374.70" y="126.31" width="13.90" height="9.50" fill="#eaeff6" />
<rect x="389.56" y="126.31" width="13.90" height="9.50" fill="#eaeff6" />
<rect x="404.43" y="126.31" width="13.90" height="9.50" fill="#fafafc" />
<rect x="419.29" y="126.31" width="13.90" height="9.50" fill="#f7e2e2" />
<rect x="434.15" y="126.31" width="13.90" height="9.50" fill="#fafafc" />
<rect x="449.01" y="126.31" width="13.90" height="9.50" fill="#fafafc" />
<rect x="463.87" y="126.31" width="13.90" height="9.50" fill="#f7e2e2" />
<rect x="478.73" y="126.31" width="13.90" height="9.50" fill="#fafafc" />
<rect x="493.59" y="126.31" width="13.90" height="9.50" fill="#c4d4e8" />
<rect x="508.45" y="126.31" width="13.90" height="9.50" fill="#eaeff6" />
<rect x="523.31" y="126.31" width="13.90" height="9.50" fill="#eaeff6" />
<rect x="538.17" y="126.31" width="13.90" height="9.50" fill="#fafafc" />
<rect x="553.03" y="126.31" width="13.90" height="9.50" fill="#eaeff6" />
<rect x="6.00" y="126.31" width="10.00" height="9.50" fill="#58a0d6" />
<rect x="18.90" y="126.31" width="9.80" height="9.50" fill="#a0a0a0" />
<rect x="32.90" y="136.80" width="13.90" height="9.50" fill="#fafafc" />
<rect x="47.76" y="136.80" width="13.90" height="9.50" fill="#d8e3f0" />
<rect x="62.62" y="136.80" width="13.90" height="9.50" fill="#f0c4c5" />
<rect x="77.48" y="136.80" width="13.90" height="9.50" fill="#fafafc" />
<rect x="92.34" y="136.80" width="13.90" height="9.50" fill="#eaeff6" />
<rect x="107.21" y="136.80" width="13.90" height="9.50" fill="#d8e3f0" />
<rect x="122.07" y="136.80" width="13.90" height="9.50" fill="#f7e2e2" />
<rect x="136.93" y="136.80" width="13.90" height="9.50" fill="#c4d4e8" />
<rect x="151.79" y="136.80" width="13.90" height="9.50" fill="#eaeff6" />
<rect x="166.65" y="136.80" width="13.90" height="9.50" fill="#e89ea0" />
<rect x="181.51" y="136.80" width="13.90" height="9.50" fill="#d8e3f0" />
<rect x="196.37" y="136.80" width="13.90" height="9.50" fill="#fafafc" />
<rect x="211.23" y="136.80" width="13.90" height="9.50" fill="#d8e3f0" />
<rect x="226.09" y="136.80" width="13.90" height="9.50" fill="#de7376" />
<rect x="240.95" y="136.80" width="13.90" height="9.50" fill="#fafafc" />
<rect x="255.82" y="136.80" width="13.90" height="9.50" fill="#eaeff6" />
<rect x="270.68" y="136.80" width="13.90" height="9.50" fill="#de7376" />
<rect x="285.54" y="136.80" width="13.90" height="9.50" fill="#f7e2e2" />
<rect x="300.40" y="136.80" width="13.90" height="9.50" fill="#f0c4c5" />
<rect x="315.26" y="136.80" width="13.90" height="9.50" fill="#fafafc" />
<rect x="330.12" y="136.80" width="13.90" height="9.50" fill="#eaeff6" />
<rect x="344.98" y="136.80" width="13.90" height="9.50" fill="#d8e3f0" />
<rect x="359.84" y="136.80" width="13.90" height="9.50" fill="#d8e3f0" />
<rect x="374.70" y="136.80" width="13.90" height="9.50" fill="#fafafc" />
<rect x="389.56" y="136.80" width="13.90" height="9.50" fill="#eaeff6" />
<rect x="404.43" y="136.80" width="13.90" height="9.50" fill="#eaeff6" />
<rect x="419.29" y="136.80" width="13.90" height="9.50" fill="#fafafc" />
<rect x="434.15" y="136.80" width="13.90" height="9.50" fill="#f7e2e2" />
<rect x="449.01" y="136.80" width="13.90" height="9.50" fill="#fafafc" />
<rect x="463.87" y="136.80" width="13.90" height="9.50" fill="#f7e2e2" />
<rect x="478.73" y="136.80" width="13.90" height="9.50" fill="#e89ea0" />
<rect x="493.59" y="136.80" width="13.90" height="9.50" fill="#fafafc" />
<rect x="508.45" y="136.80" width="13.90" height="9.50" fill="#eaeff6" />
<rect x="523.31" y="136.80" width="13.90" height="9.50" fill="#fafafc" />
<rect x="538.17" y="136.80" width="13.90" height="9.50" fill="#eaeff6" />
<rect x="553.03" y="136.80" width="13.90" height="9.50" fill="#eaeff6" />
<rect x="6.00" y="136.80" width="10.00" height="9.50" fill="#58a0d6" />
<rect x="18.90" y="136.80" width="9.80" height="9.50" fill="#a0a0a0" />
<rect x="32.90" y="147.29" width="13.90" height="9.50" fill="#fafafc" />
<rect x="47.76" y="147.29" width="13.90" height="9.50" fill="#f7e2e2" />
<rect x="62.62" y="147.29" width="13.90" height="9.50" fill="#f7e2e2" />
<rect x="77.48" y="147.29" width="13.90" height="9.50" fill="#f0c4c5" />
<rect x="92.34" y="147.29" width="13.90" height="9.50" fill="#e89ea0" />
<rect x="107.21" y="147.29" width="13.90" height="9.50" fill="#fafafc" />
<rect x="122.07" y="147.29" width="13.90" height="9.50" fill="#d8e3f0" />
<rect x="136.93" y="147.29" width="13.90" height="9.50" fill="#d8e3f0" />
<rect x="151.79" y="147.29" width="13.90" height="9.50" fill="#d8e3f0" />
<rect x="166.65" y="147.29" width="13.90" height="9.50" fill="#f7e2e2" />
<rect x="181.51" y="147.29" width="13.90" height="9.50" fill="#f0c4c5" />
<rect x="196.37" y="147.29" width="13.90" height="9.50" fill="#e89ea0" />
<rect x="211.23" y="147.29" width="13.90" height="9.50" fill="#d8e3f0" />
<rect x="226.09" y="147.29" width="13.90" height="9.50" fill="#f0c4c5" />
<rect x="240.95" y="147.29" width="13.90" height="9.50" fill="#eaeff6" />
<rect x="255.82" y="147.29" width="13.90" height="9.50" fill="#c4d4e8" />
<rect x="270.68" y="147.29" width="13.90" height="9.50" fill="#de7376" />
<rect x="285.54" y="147.29" width="13.90" height="9.50" fill="#f7e2e2" />
<rect x="300.40" y="147.29" width="13.90" height="9.50" fill="#f7e2e2" />
<rect x="315.26" y="147.29" width="13.90" height="9.50" fill="#eaeff6" />
<rect x="330.12" y="147.29" width="13.90" height="9.50" fill="#eaeff6" />
<rect x="344.98" y="147.29" width="13.90" height="9.50" fill="#c4d4e8" />
<rect x="359.84" y="147.29" width="13.90" height="9.50" fill="#fafafc" />
<rect x="374.70" y="147.29" width="13.90" height="9.50" fill="#c4d4e8" />
<rect x="389.56" y="147.29" width="13.90" height="9.50" fill="#eaeff6" />
<rect x="404.43" y="147.29" width="13.90" height="9.50" fill="#eaeff6" />
<rect x="419.29" y="147.29" width="13.90" height="9.50" fill="#eaeff6" />
<rect x="434.15" y="147.29" width="13.90" height="9.50" fill="#f0c4c5" />
<rect x="449.01" y="147.29" width="13.90" height="9.50" fill="#f0c4c5" />
<rect x="463.87" y="147.29" width="13.90" height="9.50" fill="#fafafc" />
<rect x="478.73" y="147.29" width="13.90" height="9.50" fill="#d8e3f0" />
<rect x="493.59" y="147.29" width="13.90" height="9.50" fill="#c4d4e8" />
<rect x="508.45" y="147.29" width="13.90" height="9.50" fill="#eaeff6" />
<rect x="523.31" y="147.29" width="13.90" height="9.50" fill="#d8e3f0" />
<rect x="538.17" y="147.29" width="13.90" height="9.50" fill="#fafafc" />
<rect x="553.03" y="147.29" width="13.90" height="9.50" fill="#eaeff6" />
<rect x="6.00" y="147.29" width="10.00" height="9.50" fill="#58a0d6" />
<rect x="18.90" y="147.29" width="9.80" height="9.50" fill="#a0a0a0" />
<rect x="32.90" y="157.78" width="13.90" height="9.50" fill="#eaeff6" />
<rect x="47.76" y="157.78" width="13.90" height="9.50" fill="#d8e3f0" />
<rect x="62.62" y="157.78" width="13.90" height="9.50" fill="#f0c4c5" />
<rect x="77.48" y="157.78" width="13.90" height="9.50" fill="#fafafc" />
<rect x="92.34" y="157.78" width="13.90" height="9.50" fill="#e89ea0" />
<rect x="107.21" y="157.78" width="13.90" height="9.50" fill="#d8e3f0" />
<rect x="122.07" y="157.78" width="13.90" height="9.50" fill="#fafafc" />
<rect x="136.93" y="157.78" width="13.90" height="9.50" fill="#f0c4c5" />
<rect x="151.79" y="157.78" width="13.90" height="9.50" fill="#eaeff6" />
<rect x="166.65" y="157.78" width="13.90" height="9.50" fill="#f0c4c5" />
<rect x="181.51" y="157.78" width="13.90" height="9.50" fill="#f7e2e2" />
<rect x="196.37" y="157.78" width="13.90" height="9.50" fill="#f7e2e2" />
<rect x="211.23" y="157.78" width="13.90" height="9.50" fill="#eaeff6" />
<rect x="226.09" y="157.78" width="13.90" height="9.50" fill="#f0c4c5" />
<rect x="240.95" y="157.78" width="13.90" height="9.50" fill="#d8e3f0" />
<rect x="255.82" y="157.78" width="13.90" height="9.50" fill="#f7e2e2" />
<rect x="270.68" y="157.78" width="13.90" height="9.50" fill="#f7e2e2" />
<rect x="285.54" y="157.78" width="13.90" height="9.50" fill="#fafafc" />
<rect x="300.40" y="157.78" width="13.90" height="9.50" fill="#f7e2e2" />
<rect x="315.26" y="157.78" width="13.90" height="9.50" fill="#fafafc" />
<rect x="330.12" y="157.78" width="13.90" height="9.50" fill="#eaeff6" />
<rect x="344.98" y="157.78" width="13.90" height="9.50" fill="#d8e3f0" />
<rect x="359.84" y="157.78" width="13.90" height="9.50" fill="#c4d4e8" />
<rect x="374.70" y="157.78" width="13.90" height="9.50" fill="#d8e3f0" />
<rect x="389.56" y="157.78" width="13.90" height="9.50" fill="#eaeff6" />
<rect x="404.43" y="157.78" width="13.90" height="9.50" fill="#eaeff6" />
<rect x="419.29" y="157.78" width="13.90" height="9.50" fill="#f7e2e2" />
<rect x="434.15" y="157.78" width="13.90" height="9.50" fill="#fafafc" />
<rect x="449.01" y="157.78" width="13.90" height="9.50" fill="#f7e2e2" />
<rect x="463.87" y="157.78" width="13.90" height="9.50" fill="#de7376" />
<rect x="478.73" y="157.78" width="13.90" height="9.50" fill="#d8e3f0" />
<rect x="493.59" y="157.78" width="13.90" height="9.50" fill="#a0b9db" />
<rect x="508.45" y="157.78" width="13.90" height="9.50" fill="#eaeff6" />
<rect x="523.31" y="157.78" width="13.90" height="9.50" fill="#f7e2e2" />
<rect x="538.17" y="157.78" width="13.90" height="9.50" fill="#fafafc" />
<rect x="553.03" y="157.78" width="13.90" height="9.50" fill="#eaeff6" />
<rect x="6.00" y="157.78" width="10.00" height="9.50" fill="#58a0d6" />
<rect x="18.90" y="157.78" width="9.80" height="9.50" fill="#4e7bc6" />
<rect x="32.90" y="168.27" width="13.90" height="9.50" fill="#d8e3f0" />
<rect x="47.76" y="168.27" width="13.90" height="9.50" fill="#eaeff6" />
<rect x="62.62" y="168.27" width="13.90" height="9.50" fill="#f0c4c5" />
<rect x="77.48" y="168.27" width="13.90" height="9.50" fill="#fafafc" />
<rect x="92.34" y="168.27" width="13.90" height="9.50" fill="#f7e2e2" />
<rect x="107.21" y="168.27" width="13.90" height="9.50" fill="#eaeff6" />
<rect x="122.07" y="168.27" width="13.90" height="9.50" fill="#f0c4c5" />
<rect x="136.93" y="168.27" width="13.90" height="9.50" fill="#d8e3f0" />
<rect x="151.79" y="168.27" width="13.90" height="9.50" fill="#a0b9db" />
<rect x="166.65" y="168.27" width="13.90" height="9.50" fill="#e89ea0" />
<rect x="181.51" y="168.27" width="13.90" height="9.50" fill="#d8e3f0" />
<rect x="196.37" y="168.27" width="13.90" height="9.50" fill="#d8e3f0" />
<rect x="211.23" y="168.27" width="13.90" height="9.50" fill="#fafafc" />
<rect x="226.09" y="168.27" width="13.90" height="9.50" fill="#e89ea0" />
<rect x="240.95" y="168.27" width="13.90" height="9.50" fill="#d8e3f0" />
<rect x="255.82" y="168.27" width="13.90" height="9.50" fill="#fafafc" />
<rect x="270.68" y="168.27" width="13.90" height="9.50" fill="#f0c4c5" />
<rect x="285.54" y="168.27" width="13.90" height="9.50" fill="#d8e3f0" />
<rect x="300.40" y="168.27" width="13.90" height="9.50" fill="#e89ea0" />
<rect x="315.26" y="168.27" width="13.90" height="9.50" fill="#fafafc" />
<rect x="330.12" y="168.27" width="13.90" height="9.50" fill="#eaeff6" />
<rect x="344.98" y="168.27" width="13.90" height="9.50" fill="#f0c4c5" />
<rect x="359.84" y="168.27" width="13.90" height="9.50" fill="#eaeff6" />
<rect x="374.70" y="168.27" width="13.90" height="9.50" fill="#d8e3f0" />
<rect x="389.56" y="168.27" width="13.90" height="9.50" fill="#eaeff6" />
<rect x="404.43" y="168.27" width="13.90" height="9.50" fill="#fafafc" />
<rect x="419.29" y="168.27" width="13.90" height="9.50" fill="#fafafc" />
<rect x="434.15" y="168.27" width="13.90" height="9.50" fill="#fafafc" />
<rect x="449.01" y="168.27" width="13.90" height="9.50" fill="#eaeff6" />
<rect x="463.87" y="168.27" width="13.90" height="9.50" fill="#f7e2e2" />
<rect x="478.73" y="168.27" width="13.90" height="9.50" fill="#e89ea0" />
<rect x="493.59" y="168.27" width="13.90" height="9.50" fill="#d8e3f0" />
<rect x="508.45" y="168.27" width="13.90" height="9.50" fill="#eaeff6" />
<rect x="523.31" y="168.27" width="13.90" height="9.50" fill="#eaeff6" />
<rect x="538.17" y="168.27" width="13.90" height="9.50" fill="#f7e2e2" />
<rect x="553.03" y="168.27" width="13.90" height="9.50" fill="#eaeff6" />
<rect x="6.00" y="168.27" width="10.00" height="9.50" fill="#58a0d6" />
<rect x="18.90" y="168.27" width="9.80" height="9.50" fill="#a0a0a0" />
<rect x="32.90" y="178.76" width="13.90" height="9.50" fill="#fafafc" />
<rect x="47.76" y="178.76" width="13.90" height="9.50" fill="#fafafc" />
<rect x="62.62" y="178.76" width="13.90" height="9.50" fill="#fafafc" />
<rect x="77.48" y="178.76" width="13.90" height="9.50" fill="#fafafc" />
<rect x="92.34" y="178.76" width="13.90" height="9.50" fill="#eaeff6" />
<rect x="107.21" y="178.76" width="13.90" height="9.50" fill="#eaeff6" />
<rect x="122.07" y="178.76" width="13.90" height="9.50" fill="#f0c4c5" />
<rect x="136.93" y="178.76" width="13.90" height="9.50" fill="#d8e3f0" />
<rect x="151.79" y="178.76" width="13.90" height="9.50" fill="#d8e3f0" />
<rect x="166.65" y="178.76" width="13.90" height="9.50" fill="#de7376" />
<rect x="181.51" y="178.76" width="13.90" height="9.50" fill="#c4d4e8" />
<rect x="196.37" y="178.76" width="13.90" height="9.50" fill="#fafafc" />
<rect x="211.23" y="178.76" width="13.90" height="9.50" fill="#eaeff6" />
<rect x="226.09" y="178.76" width="13.90" height="9.50" fill="#e89ea0" />
<rect x="240.95" y="178.76" width="13.90" height="9.50" fill="#fafafc" />
<rect x="255.82" y="178.76" width="13.90" height="9.50" fill="#f7e2e2" />
<rect x="270.68" y="178.76" width="13.90" height="9.50" fill="#c4d4e8" />
<rect x="285.54" y="178.76" width="13.90" height="9.50" fill="#d8e3f0" />
<rect x="300.40" y="178.76" width="13.90" height="9.50" fill="#f7e2e2" />
<rect x="315.26" y="178.76" width="13.90" height="9.50" fill="#eaeff6" />
<rect x="330.12" y="178.76" width="13.90" height="9.50" fill="#eaeff6" />
<rect x="344.98" y="178.76" width="13.90" height="9.50" fill="#f0c4c5" />
<rect x="359.84" y="178.76" width="13.90" height="9.50" fill="#c4d4e8" />
<rect x="374.70" y="178.76" width="13.90" height="9.50" fill="#eaeff6" />
<rect x="389.56" y="178.76" width="13.90" height="9.50" fill="#fafafc" />
<rect x="404.43" y="178.76" width="13.90" height="9.50" fill="#f7e2e2" />
<rect x="419.29" y="178.76" width="13.90" height="9.50" fill="#d8e3f0" />
<rect x="434.15" y="178.76" width="13.90" height="9.50" fill="#f7e2e2" />
<rect x="449.01" y="178.76" width="13.90" height="9.50" fill="#f7e2e2" />
<rect x="463.87" y="178.76" width="13.90" height="9.50" fill="#e89ea0" />
<rect x="478.73" y="178.76" width="13.90" height="9.50" fill="#e89ea0" />
<rect x="493.59" y="178.76" width="13.90" height="9.50" fill="#f7e2e2" />
<rect x="508.45" y="178.76" width="13.90" height="9.50" fill="#d8e3f0" />
<rect x="523.31" y="178.76" width="13.90" height="9.50" fill="#fafafc" />
<rect x="538.17" y="178.76" width="13.90" height="9.50" fill="#d8e3f0" />
<rect x="553.03" y="178.76" width="13.90" height="9.50" fill="#f0c4c5" />
<rect x="6.00" y="178.76" width="10.00" height="9.50" fill="#58a0d6" />
<rect x="18.90" y="178.76" width="9.80" height="9.50" fill="#a0a0a0" />
<rect x="32.90" y="189.25" width="13.90" height="9.50" fill="#fafafc" />
<rect x="47.76" y="189.25" width="13.90" height="9.50" fill="#d8e3f0" />
<rect x="62.62" y="189.25" width="13.90" height="9.50" fill="#e89ea0" />
<rect x="77.48" y="189.25" width="13.90" height="9.50" fill="#fafafc" />
<rect x="92.34" y="189.25" width="13.90" height="9.50" fill="#d8e3f0" />
<rect x="107.21" y="189.25" width="13.90" height="9.50" fill="#d8e3f0" />
<rect x="122.07" y="189.25" width="13.90" height="9.50" fill="#fafafc" />
<rect x="136.93" y="189.25" width="13.90" height="9.50" fill="#d8e3f0" />
<rect x="151.79" y="189.25" width="13.90" height="9.50" fill="#d8e3f0" />
<rect x="166.65" y="189.25" width="13.90" height="9.50" fill="#e89ea0" />
<rect x="181.51" y="189.25" width="13.90" height="9.50" fill="#eaeff6" />
<rect x="196.37" y="189.25" width="13.90" height="9.50" fill="#fafafc" />
<rect x="211.23" y="189.25" width="13.90" height="9.50" fill="#fafafc" />
<rect x="226.09" y="189.25" width="13.90" height="9.50" fill="#e89ea0" />
<rect x="240.95" y="189.25" width="13.90" height="9.50" fill="#fafafc" />
<rect x="255.82" y="189.25" width="13.90" height="9.50" fill="#fafafc" />
<rect x="270.68" y="189.25" width="13.90" height="9.50" fill="#d23a3c" />
<rect x="285.54" y="189.25" width="13.90" height="9.50" fill="#eaeff6" />
<rect x="300.40" y="189.25" width="13.90" height="9.50" fill="#eaeff6" />
<rect x="315.26" y="189.25" width="13.90" height="9.50" fill="#fafafc" />
<rect x="330.12" y="189.25" width="13.90" height="9.50" fill="#eaeff6" />
<rect x="344.98" y="189.25" width="13.90" height="9.50" fill="#d8e3f0" />
<rect x="359.84" y="189.25" width="13.90" height="9.50" fill="#d8e3f0" />
<rect x="374.70" y="189.25" width="13.90" height="9.50" fill="#eaeff6" />
<rect x="389.56" y="189.25" width="13.90" height="9.50" fill="#fafafc" />
<rect x="404.43" y="189.25" width="13.90" height="9.50" fill="#fafafc" />
<rect x="419.29" y="189.25" width="13.90" height="9.50" fill="#f7e2e2" />
<rect x="434.15" y="189.25" width="13.90" height="9.50" fill="#e89ea0" />
<rect x="449.01" y="189.25" width="13.90" height="9.50" fill="#fafafc" />
<rect x="463.87" y="189.25" width="13.90" height="9.50" fill="#eaeff6" />
<rect x="478.73" y="189.25" width="13.90" height="9.50" fill="#f0c4c5" />
<rect x="493.59" y="189.25" width="13.90" height="9.50" fill="#d8e3f0" />
<rect x="508.45" y="189.25" width="13.90" height="9.50" fill="#d8e3f0" />
<rect x="523.31" y="189.25" width="13.90" height="9.50" fill="#fafafc" />
<rect x="538.17" y="189.25" width="13.90" height="9.50" fill="#eaeff6" />
<rect x="553.03" y="189.25" width="13.90" height="9.50" fill="#eaeff6" />
<rect x="6.00" y="189.25" width="10.00" height="9.50" fill="#58a0d6" />
<rect x="18.90" y="189.25" width="9.80" height="9.50" fill="#a0a0a0" />
<rect x="32.90" y="199.74" width="13.90" height="9.50" fill="#c4d4e8" />
<rect x="47.76" y="199.74" width="13.90" height="9.50" fill="#fafafc" />
<rect x="62.62" y="199.74" width="13.90" height="9.50" fill="#eaeff6" />
<rect x="77.48" y="199.74" width="13.90" height="9.50" fill="#d8e3f0" />
<rect x="92.34" y="199.74" width="13.90" height="9.50" fill="#f0c4c5" />
<rect x="107.21" y="199.74" width="13.90" height="9.50" fill="#f7e2e2" />
<rect x="122.07" y="199.74" width="13.90" height="9.50" fill="#d8e3f0" />
<rect x="136.93" y="199.74" width="13.90" height="9.50" fill="#fafafc" />
<rect x="151.79" y="199.74" width="13.90" height="9.50" fill="#fafafc" />
<rect x="166.65" y="199.74" width="13.90" height="9.50" fill="#d8e3f0" />
<rect x="181.51" y="199.74" width="13.90" height="9.50" fill="#e89ea0" />
<rect x="196.37" y="199.74" width="13.90" height="9.50" fill="#eaeff6" />
<rect x="211.23" y="199.74" width="13.90" height="9.50" fill="#fafafc" />
<rect x="226.09" y="199.74" width="13.90" height="9.50" fill="#de7376" />
<rect x="240.95" y="199.74" width="13.90" height="9.50" fill="#f7e2e2" />
<rect x="255.82" y="199.74" width="13.90" height="9.50" fill="#c4d4e8" />
<rect x="270.68" y="199.74" width="13.90" height="9.50" fill="#e89ea0" />
<rect x="285.54" y="199.74" width="13.90" height="9.50" fill="#f7e2e2" />
<rect x="300.40" y="199.74" width="13.90" height="9.50" fill="#e89ea0" />
<rect x="315.26" y="199.74" width="13.90" height="9.50" fill="#f7e2e2" />
<rect x="330.12" y="199.74" width="13.90" height="9.50" fill="#f7e2e2" />
<rect x="344.98" y="199.74" width="13.90" height="9.50" fill="#f7e2e2" />
<rect x="359.84" y="199.74" width="13.90" height="9.50" fill="#c4d4e8" />
<rect x="374.70" y="199.74" width="13.90" height="9.50" fill="#eaeff6" />
<rect x="389.56" y="199.74" width="13.90" height="9.50" fill="#eaeff6" />
<rect x="404.43" y="199.74" width="13.90" height="9.50" fill="#eaeff6" />
<rect x="419.29" y="199.74" width="13.90" height="9.50" fill="#eaeff6" />
<rect x="434.15" y="199.74" width="13.90" height="9.50" fill="#c4d4e8" />
<rect x="449.01" y="199.74" width="13.90" height="9.50" fill="#fafafc" />
<rect x="463.87" y="199.74" width="13.90" height="9.50" fill="#fafafc" />
<rect x="478.73" y="199.74" width="13.90" height="9.50" fill="#f7e2e2" />
<rect x="493.59" y="199.74" width="13.90" height="9.50" fill="#c4d4e8" />
<rect x="508.45" y="199.74" width="13.90" height="9.50" fill="#f7e2e2" />
<rect x="523.31" y="199.74" width="13.90" height="9.50" fill="#fafafc" />
<rect x="538.17" y="199.74" width="13.90" height="9.50" fill="#eaeff6" />
<rect x="553.03" y="199.74" width="13.90" height="9.50" fill="#eaeff6" />
<rect x="6.00" y="199.74" width="10.00" height="9.50" fill="#58a0d6" />
<rect x="18.90" y="199.74" width="9.80" height="9.50" fill="#a0a0a0" />
<rect x="32.90" y="210.23" width="13.90" height="9.50" fill="#d8e3f0" />
<rect x="47.76" y="210.23" width="13.90" height="9.50" fill="#fafafc" />
<rect x="62.62" y="210.23" width="13.90" height="9.50" fill="#d8e3f0" />
<rect x="77.48" y="210.23" width="13.90" height="9.50" fill="#fafafc" />
<rect x="92.34" y="210.23" width="13.90" height="9.50" fill="#f0c4c5" />
<rect x="107.21" y="210.23" width="13.90" height="9.50" fill="#d8e3f0" />
<rect x="122.07" y="210.23" width="13.90" height="9.50" fill="#f7e2e2" />
<rect x="136.93" y="210.23" width="13.90" height="9.50" fill="#c4d4e8" />
<rect x="151.79" y="210.23" width="13.90" height="9.50" fill="#d8e3f0" />
<rect x="166.65" y="210.23" width="13.90" height="9.50" fill="#eaeff6" />
<rect x="181.51" y="210.23" width="13.90" height="9.50" fill="#e89ea0" />
<rect x="196.37" y="210.23" width="13.90" height="9.50" fill="#fafafc" />
<rect x="211.23" y="210.23" width="13.90" height="9.50" fill="#f0c4c5" />
<rect x="226.09" y="210.23" width="13.90" height="9.50" fill="#f7e2e2" />
<rect x="240.95" y="210.23" width="13.90" height="9.50" fill="#fafafc" />
<rect x="255.82" y="210.23" width="13.90" height="9.50" fill="#eaeff6" />
<rect x="270.68" y="210.23" width="13.90" height="9.50" fill="#de7376" />
<rect x="285.54" y="210.23" width="13.90" height="9.50" fill="#e89ea0" />
<rect x="300.40" y="210.23" width="13.90" height="9.50" fill="#f7e2e2" />
<rect x="315.26" y="210.23" width="13.90" height="9.50" fill="#fafafc" />
<rect x="330.12" y="210.23" width="13.90" height="9.50" fill="#fafafc" />
<rect x="344.98" y="210.23" width="13.90" height="9.50" fill="#f7e2e2" />
<rect x="359.84" y="210.23" width="13.90" height="9.50" fill="#c4d4e8" />
<rect x="374.70" y="210.23" width="13.90" height="9.50" fill="#fafafc" />
<rect x="389.56" y="210.23" width="13.90" height="9.50" fill="#f7e2e2" />
<rect x="404.43" y="210.23" width="13.90" height="9.50" fill="#fafafc" />
<rect x="419.29" y="210.23" width="13.90" height="9.50" fill="#d8e3f0" />
<rect x="434.15" y="210.23" width="13.90" height="9.50" fill="#fafafc" />
<rect x="449.01" y="210.23" width="13.90" height="9.50" fill="#f7e2e2" />
<rect x="463.87" y="210.23" width="13.90" height="9.50" fill="#f7e2e2" />
<rect x="478.73" y="210.23" width="13.90" height="9.50" fill="#d8e3f0" />
<rect x="493.59" y="210.23" width="13.90" height="9.50" fill="#a0b9db" />
<rect x="508.45" y="210.23" width="13.90" height="9.50" fill="#f7e2e2" />
<rect x="523.31" y="210.23" width="13.90" height="9.50" fill="#eaeff6" />
<rect x="538.17" y="210.23" width="13.90" height="9.50" fill="#f7e2e2" />
<rect x="553.03" y="210.23" width="13.90" height="9.50" fill="#d8e3f0" />
<rect x="6.00" y="210.23" width="10.00" height="9.50" fill="#58a0d6" />
<rect x="18.90" y="210.23" width="9.80" height="9.50" fill="#a0a0a0" />
<rect x="32.90" y="220.72" width="13.90" height="9.50" fill="#fafafc" />
<rect x="47.76" y="220.72" width="13.90" height="9.50" fill="#d8e3f0" />
<rect x="62.62" y="220.72" width="13.90" height="9.50" fill="#e89ea0" />
<rect x="77.48" y="220.72" width="13.90" height="9.50" fill="#eaeff6" />
<rect x="92.34" y="220.72" width="13.90" height="9.50" fill="#eaeff6" />
<rect x="107.21" y="220.72" width="13.90" height="9.50" fill="#d8e3f0" />
<rect x="122.07" y="220.72" width="13.90" height="9.50" fill="#f7e2e2" />
<rect x="136.93" y="220.72" width="13.90" height="9.50" fill="#c4d4e8" />
<rect x="151.79" y="220.72" width="13.90" height="9.50" fill="#d8e3f0" />
<rect x="166.65" y="220.72" width="13.90" height="9.50" fill="#fafafc" />
<rect x="181.51" y="220.72" width="13.90" height="9.50" fill="#f7e2e2" />
<rect x="196.37" y="220.72" width="13.90" height="9.50" fill="#fafafc" />
<rect x="211.23" y="220.72" width="13.90" height="9.50" fill="#eaeff6" />
<rect x="226.09" y="220.72" width="13.90" height="9.50" fill="#d23a3c" />
<rect x="240.95" y="220.72" width="13.90" height="9.50" fill="#fafafc" />
<rect x="255.82" y="220.72" width="13.90" height="9.50" fill="#fafafc" />
<rect x="270.68" y="220.72" width="13.90" height="9.50" fill="#fafafc" />
<rect x="285.54" y="220.72" width="13.90" height="9.50" fill="#fafafc" />
<rect x="300.40" y="220.72" width="13.90" height="9.50" fill="#de7376" />
<rect x="315.26" y="220.72" width="13.90" height="9.50" fill="#eaeff6" />
<rect x="330.12" y="220.72" width="13.90" height="9.50" fill="#d8e3f0" />
<rect x="344.98" y="220.72" width="13.90" height="9.50" fill="#eaeff6" />
<rect x="359.84" y="220.72" width="13.90" height="9.50" fill="#d8e3f0" />
<rect x="374.70" y="220.72" width="13.90" height="9.50" fill="#eaeff6" />
<rect x="389.56" y="220.72" width="13.90" height="9.50" fill="#eaeff6" />
<rect x="404.43" y="220.72" width="13.90" height="9.50" fill="#f0c4c5" />
<rect x="419.29" y="220.72" width="13.90" height="9.50" fill="#eaeff6" />
<rect x="434.15" y="220.72" width="13.90" height="9.50" fill="#f7e2e2" />
<rect x="449.01" y="220.72" width="13.90" height="9.50" fill="#fafafc" />
<rect x="463.87" y="220.72" width="13.90" height="9.50" fill="#f0c4c5" />
<rect x="478.73" y="220.72" width="13.90" height="9.50" fill="#f7e2e2" />
<rect x="493.59" y="220.72" width="13.90" height="9.50" fill="#d8e3f0" />
<rect x="508.45" y="220.72" width="13.90" height="9.50" fill="#d8e3f0" />
<rect x="523.31" y="220.72" width="13.90" height="9.50" fill="#f0c4c5" />
<rect x="538.17" y="220.72" width="13.90" height="9.50" fill="#eaeff6" />
<rect x="553.03" y="220.72" width="13.90" height="9.50" fill="#eaeff6" />
<rect x="6.00" y="220.72" width="10.00" height="9.50" fill="#58a0d6" />
<rect x="18.90" y="220.72" width="9.80" height="9.50" fill="#a0a0a0" />
<rect x="32.90" y="231.21" width="13.90" height="9.50" fill="#d8e3f0" />
<rect x="47.76" y="231.21" width="13.90" height="9.50" fill="#d8e3f0" />
<rect x="62.62" y="231.21" width="13.90" height="9.50" fill="#fafafc" />
<rect x="77.48" y="231.21" width="13.90" height="9.50" fill="#c4d4e8" />
<rect x="92.34" y="231.21" width="13.90" height="9.50" fill="#c4d4e8" />
<rect x="107.21" y="231.21" width="13.90" height="9.50" fill="#fafafc" />
<rect x="122.07" y="231.21" width="13.90" height="9.50" fill="#fafafc" />
<rect x="136.93" y="231.21" width="13.90" height="9.50" fill="#c4d4e8" />
<rect x="151.79" y="231.21" width="13.90" height="9.50" fill="#fafafc" />
<rect x="166.65" y="231.21" width="13.90" height="9.50" fill="#f7e2e2" />
<rect x="181.51" y="231.21" width="13.90" height="9.50" fill="#d8e3f0" />
<rect x="196.37" y="231.21" width="13.90" height="9.50" fill="#d8e3f0" />
<rect x="211.23" y="231.21" width="13.90" height="9.50" fill="#fafafc" />
<rect x="226.09" y="231.21" width="13.90" height="9.50" fill="#f7e2e2" />
<rect x="240.95" y="231.21" width="13.90" height="9.50" fill="#eaeff6" />
<rect x="255.82" y="231.21" width="13.90" height="9.50" fill="#fafafc" />
<rect x="270.68" y="231.21" width="13.90" height="9.50" fill="#fafafc" />
<rect x="285.54" y="231.21" width="13.90" height="9.50" fill="#d8e3f0" />
<rect x="300.40" y="231.21" width="13.90" height="9.50" fill="#e89ea0" />
<rect x="315.26" y="231.21" width="13.90" height="9.50" fill="#eaeff6" />
<rect x="330.12" y="231.21" width="13.90" height="9.50" fill="#eaeff6" />
<rect x="344.98" y="231.21" width="13.90" height="9.50" fill="#de7376" />
<rect x="359.84" y="231.21" width="13.90" height="9.50" fill="#fafafc" />
<rect x="374.70" y="231.21" width="13.90" height="9.50" fill="#f0c4c5" />
<rect x="389.56" y="231.21" width="13.90" height="9.50" fill="#c4d4e8" />
<rect x="404.43" y="231.21" width="13.90" height="9.50" fill="#f0c4c5" />
<rect x="419.29" y="231.21" width="13.90" height="9.50" fill="#fafafc" />
<rect x="434.15" y="231.21" width="13.90" height="9.50" fill="#eaeff6" />
<rect x="449.01" y="231.21" width="13.90" height="9.50" fill="#f7e2e2" />
<rect x="463.87" y="231.21" width="13.90" height="9.50" fill="#de7376" />
<rect x="478.73" y="231.21" width="13.90" height="9.50" fill="#fafafc" />
<rect x="493.59" y="231.21" width="13.90" height="9.50" fill="#eaeff6" />
<rect x="508.45" y="231.21" width="13.90" height="9.50" fill="#f7e2e2" />
<rect x="523.31" y="231.21" width="13.90" height="9.50" fill="#e89ea0" />
<rect x="538.17" y="231.21" width="13.90" height="9.50" fill="#d8e3f0" />
<rect x="553.03" y="231.21" width="13.90" height="9.50" fill="#f7e2e2" />
<rect x="6.00" y="231.21" width="10.00" height="9.50" fill="#a83a38" />
<rect x="18.90" y="231.21" width="9.80" height="9.50" fill="#d9343f" />
<rect x="32.90" y="241.70" width="13.90" height="9.50" fill="#d8e3f0" />
<rect x="47.76" y="241.70" width="13.90" height="9.50" fill="#fafafc" />
<rect x="62.62" y="241.70" width="13.90" height="9.50" fill="#f7e2e2" />
<rect x="77.48" y="241.70" width="13.90" height="9.50" fill="#a0b9db" />
<rect x="92.34" y="241.70" width="13.90" height="9.50" fill="#a0b9db" />
<rect x="107.21" y="241.70" width="13.90" height="9.50" fill="#d8e3f0" />
<rect x="122.07" y="241.70" width="13.90" height="9.50" fill="#e89ea0" />
<rect x="136.93" y="241.70" width="13.90" height="9.50" fill="#c4d4e8" />
<rect x="151.79" y="241.70" width="13.90" height="9.50" fill="#fafafc" />
<rect x="166.65" y="241.70" width="13.90" height="9.50" fill="#f7e2e2" />
<rect x="181.51" y="241.70" width="13.90" height="9.50" fill="#c4d4e8" />
<rect x="196.37" y="241.70" width="13.90" height="9.50" fill="#eaeff6" />
<rect x="211.23" y="241.70" width="13.90" height="9.50" fill="#f0c4c5" />
<rect x="226.09" y="241.70" width="13.90" height="9.50" fill="#f0c4c5" />
<rect x="240.95" y="241.70" width="13.90" height="9.50" fill="#f0c4c5" />
<rect x="255.82" y="241.70" width="13.90" height="9.50" fill="#e89ea0" />
<rect x="270.68" y="241.70" width="13.90" height="9.50" fill="#c4d4e8" />
<rect x="285.54" y="241.70" width="13.90" height="9.50" fill="#f7e2e2" />
<rect x="300.40" y="241.70" width="13.90" height="9.50" fill="#e89ea0" />
<rect x="315.26" y="241.70" width="13.90" height="9.50" fill="#d8e3f0" />
<rect x="330.12" y="241.70" width="13.90" height="9.50" fill="#d8e3f0" />
<rect x="344.98" y="241.70" width="13.90" height="9.50" fill="#f7e2e2" />
<rect x="359.84" y="241.70" width="13.90" height="9.50" fill="#f7e2e2" />
<rect x="374.70" y="241.70" width="13.90" height="9.50" fill="#f0c4c5" />
<rect x="389.56" y="241.70" width="13.90" height="9.50" fill="#c4d4e8" />
<rect x="404.43" y="241.70" width="13.90" height="9.50" fill="#f0c4c5" />
<rect x="419.29" y="241.70" width="13.90" height="9.50" fill="#eaeff6" />
<rect x="434.15" y="241.70" width="13.90" height="9.50" fill="#d8e3f0" />
<rect x="449.01" y="241.70" width="13.90" height="9.50" fill="#fafafc" />
<rect x="463.87" y="241.70" width="13.90" height="9.50" fill="#e89ea0" />
<rect x="478.73" y="241.70" width="13.90" height="9.50" fill="#f7e2e2" />
<rect x="493.59" y="241.70" width="13.90" height="9.50" fill="#eaeff6" />
<rect x="508.45" y="241.70" width="13.90" height="9.50" fill="#f7e2e2" />
<rect x="523.31" y="241.70" width="13.90" height="9.50" fill="#f0c4c5" />
<rect x="538.17" y="241.70" width="13.90" height="9.50" fill="#c4d4e8" />
<rect x="553.03" y="241.70" width="13.90" height="9.50" fill="#f7e2e2" />
<rect x="6.00" y="241.70" width="10.00" height="9.50" fill="#a83a38" />
<rect x="18.90" y="241.70" width="9.80" height="9.50" fill="#a0a0a0" />
<rect x="32.90" y="252.19" width="13.90" height="9.50" fill="#eaeff6" />
<rect x="47.76" y="252.19" width="13.90" height="9.50" fill="#f7e2e2" />
<rect x="62.62" y="252.19" width="13.90" height="9.50" fill="#f0c4c5" />
<rect x="77.48" y="252.19" width="13.90" height="9.50" fill="#c4d4e8" />
<rect x="92.34" y="252.19" width="13.90" height="9.50" fill="#c4d4e8" />
<rect x="107.21" y="252.19" width="13.90" height="9.50" fill="#fafafc" />
<rect x="122.07" y="252.19" width="13.90" height="9.50" fill="#f7e2e2" />
<rect x="136.93" y="252.19" width="13.90" height="9.50" fill="#c4d4e8" />
<rect x="151.79" y="252.19" width="13.90" height="9.50" fill="#d8e3f0" />
<rect x="166.65" y="252.19" width="13.90" height="9.50" fill="#f7e2e2" />
<rect x="181.51" y="252.19" width="13.90" height="9.50" fill="#d8e3f0" />
<rect x="196.37" y="252.19" width="13.90" height="9.50" fill="#eaeff6" />
<rect x="211.23" y="252.19" width="13.90" height="9.50" fill="#f7e2e2" />
<rect x="226.09" y="252.19" width="13.90" height="9.50" fill="#f7e2e2" />
<rect x="240.95" y="252.19" width="13.90" height="9.50" fill="#d8e3f0" />
<rect x="255.82" y="252.19" width="13.90" height="9.50" fill="#fafafc" />
<rect x="270.68" y="252.19" width="13.90" height="9.50" fill="#eaeff6" />
<rect x="285.54" y="252.19" width="13.90" height="9.50" fill="#d8e3f0" />
<rect x="300.40" y="252.19" width="13.90" height="9.50" fill="#de7376" />
<rect x="315.26" y="252.19" width="13.90" height="9.50" fill="#d8e3f0" />
<rect x="330.12" y="252.19" width="13.90" height="9.50" fill="#fafafc" />
<rect x="344.98" y="252.19" width="13.90" height="9.50" fill="#de7376" />
<rect x="359.84" y="252.19" width="13.90" height="9.50" fill="#fafafc" />
<rect x="374.70" y="252.19" width="13.90" height="9.50" fill="#f7e2e2" />
<rect x="389.56" y="252.19" width="13.90" height="9.50" fill="#c4d4e8" />
<rect x="404.43" y="252.19" width="13.90" height="9.50" fill="#e89ea0" />
<rect x="419.29" y="252.19" width="13.90" height="9.50" fill="#eaeff6" />
<rect x="434.15" y="252.19" width="13.90" height="9.50" fill="#d8e3f0" />
<rect x="449.01" y="252.19" width="13.90" height="9.50" fill="#eaeff6" />
<rect x="463.87" y="252.19" width="13.90" height="9.50" fill="#de7376" />
<rect x="478.73" y="252.19" width="13.90" height="9.50" fill="#fafafc" />
<rect x="493.59" y="252.19" width="13.90" height="9.50" fill="#eaeff6" />
<rect x="508.45" y="252.19" width="13.90" height="9.50" fill="#f7e2e2" />
<rect x="523.31" y="252.19" width="13.90" height="9.50" fill="#f0c4c5" />
<rect x="538.17" y="252.19" width="13.90" height="9.50" fill="#d8e3f0" />
<rect x="553.03" y="252.19" width="13.90" height="9.50" fill="#e89ea0" />
<rect x="6.00" y="252.19" width="10.00" height="9.50" fill="#a83a38" />
<rect x="18.90" y="252.19" width="9.80" height="9.50" fill="#a0a0a0" />
<rect x="32.90" y="262.68" width="13.90" height="9.50" fill="#d8e3f0" />
<rect x="47.76" y="262.68" width="13.90" height="9.50" fill="#d8e3f0" />
<rect x="62.62" y="262.68" width="13.90" height="9.50" fill="#f0c4c5" />
<rect x="77.48" y="262.68" width="13.90" height="9.50" fill="#a0b9db" />
<rect x="92.34" y="262.68" width="13.90" height="9.50" fill="#c4d4e8" />
<rect x="107.21" y="262.68" width="13.90" height="9.50" fill="#eaeff6" />
<rect x="122.07" y="262.68" width="13.90" height="9.50" fill="#f7e2e2" />
<rect x="136.93" y="262.68" width="13.90" height="9.50" fill="#c4d4e8" />
<rect x="151.79" y="262.68" width="13.90" height="9.50" fill="#eaeff6" />
<rect x="166.65" y="262.68" width="13.90" height="9.50" fill="#f7e2e2" />
<rect x="181.51" y="262.68" width="13.90" height="9.50" fill="#d8e3f0" />
<rect x="196.37" y="262.68" width="13.90" height="9.50" fill="#eaeff6" />
<rect x="211.23" y="262.68" width="13.90" height="9.50" fill="#e89ea0" />
<rect x="226.09" y="262.68" width="13.90" height="9.50" fill="#f0c4c5" />
<rect x="240.95" y="262.68" width="13.90" height="9.50" fill="#d8e3f0" />
<rect x="255.82" y="262.68" width="13.90" height="9.50" fill="#f7e2e2" />
<rect x="270.68" y="262.68" width="13.90" height="9.50" fill="#d8e3f0" />
<rect x="285.54" y="262.68" width="13.90" height="9.50" fill="#d8e3f0" />
<rect x="300.40" y="262.68" width="13.90" height="9.50" fill="#f0c4c5" />
<rect x="315.26" y="262.68" width="13.90" height="9.50" fill="#eaeff6" />
<rect x="330.12" y="262.68" width="13.90" height="9.50" fill="#fafafc" />
<rect x="344.98" y="262.68" width="13.90" height="9.50" fill="#d8e3f0" />
<rect x="359.84" y="262.68" width="13.90" height="9.50" fill="#e89ea0" />
<rect x="374.70" y="262.68" width="13.90" height="9.50" fill="#f7e2e2" />
<rect x="389.56" y="262.68" width="13.90" height="9.50" fill="#c4d4e8" />
<rect x="404.43" y="262.68" width="13.90" height="9.50" fill="#f0c4c5" />
<rect x="419.29" y="262.68" width="13.90" height="9.50" fill="#f7e2e2" />
<rect x="434.15" y="262.68" width="13.90" height="9.50" fill="#eaeff6" />
<rect x="449.01" y="262.68" width="13.90" height="9.50" fill="#e89ea0" />
<rect x="463.87" y="262.68" width="13.90" height="9.50" fill="#de7376" />
<rect x="478.73" y="262.68" width="13.90" height="9.50" fill="#fafafc" />
<rect x="493.59" y="262.68" width="13.90" height="9.50" fill="#fafafc" />
<rect x="508.45" y="262.68" width="13.90" height="9.50" fill="#f7e2e2" />
<rect x="523.31" y="262.68" width="13.90" height="9.50" fill="#f0c4c5" />
<rect x="538.17" y="262.68" width="13.90" height="9.50" fill="#d8e3f0" />
<rect x="553.03" y="262.68" width="13.90" height="9.50" fill="#f7e2e2" />
<rect x="6.00" y="262.68" width="10.00" height="9.50" fill="#a83a38" />
<rect x="18.90" y="262.68" width="9.80" height="9.50" fill="#a0a0a0" />
<rect x="32.90" y="273.17" width="13.90" height="9.50" fill="#d8e3f0" />
<rect x="47.76" y="273.17" width="13.90" height="9.50" fill="#eaeff6" />
<rect x="62.62" y="273.17" width="13.90" height="9.50" fill="#eaeff6" />
<rect x="77.48" y="273.17" width="13.90" height="9.50" fill="#a0b9db" />
<rect x="92.34" y="273.17" width="13.90" height="9.50" fill="#c4d4e8" />
<rect x="107.21" y="273.17" width="13.90" height="9.50" fill="#d8e3f0" />
<rect x="122.07" y="273.17" width="13.90" height="9.50" fill="#f0c4c5" />
<rect x="136.93" y="273.17" width="13.90" height="9.50" fill="#c4d4e8" />
<rect x="151.79" y="273.17" width="13.90" height="9.50" fill="#eaeff6" />
<rect x="166.65" y="273.17" width="13.90" height="9.50" fill="#f7e2e2" />
<rect x="181.51" y="273.17" width="13.90" height="9.50" fill="#d8e3f0" />
<rect x="196.37" y="273.17" width="13.90" height="9.50" fill="#d8e3f0" />
<rect x="211.23" y="273.17" width="13.90" height="9.50" fill="#f7e2e2" />
<rect x="226.09" y="273.17" width="13.90" height="9.50" fill="#e89ea0" />
<rect x="240.95" y="273.17" width="13.90" height="9.50" fill="#fafafc" />
<rect x="255.82" y="273.17" width="13.90" height="9.50" fill="#eaeff6" />
<rect x="270.68" y="273.17" width="13.90" height="9.50" fill="#eaeff6" />
<rect x="285.54" y="273.17" width="13.90" height="9.50" fill="#eaeff6" />
<rect x="300.40" y="273.17" width="13.90" height="9.50" fill="#f0c4c5" />
<rect x="315.26" y="273.17" width="13.90" height="9.50" fill="#eaeff6" />
<rect x="330.12" y="273.17" width="13.90" height="9.50" fill="#fafafc" />
<rect x="344.98" y="273.17" width="13.90" height="9.50" fill="#f0c4c5" />
<rect x="359.84" y="273.17" width="13.90" height="9.50" fill="#f7e2e2" />
<rect x="374.70" y="273.17" width="13.90" height="9.50" fill="#f7e2e2" />
<rect x="389.56" y="273.17" width="13.90" height="9.50" fill="#c4d4e8" />
<rect x="404.43" y="273.17" width="13.90" height="9.50" fill="#f0c4c5" />
<rect x="419.29" y="273.17" width="13.90" height="9.50" fill="#eaeff6" />
<rect x="434.15" y="273.17" width="13.90" height="9.50" fill="#fafafc" />
<rect x="449.01" y="273.17" width="13.90" height="9.50" fill="#f7e2e2" />
<rect x="463.87" y="273.17" width="13.90" height="9.50" fill="#de7376" />
<rect x="478.73" y="273.17" width="13.90" height="9.50" fill="#f0c4c5" />
<rect x="493.59" y="273.17" width="13.90" height="9.50" fill="#fafafc" />
<rect x="508.45" y="273.17" width="13.90" height="9.50" fill="#f7e2e2" />
<rect x="523.31" y="273.17" width="13.90" height="9.50" fill="#f7e2e2" />
<rect x="538.17" y="273.17" width="13.90" height="9.50" fill="#c4d4e8" />
<rect x="553.03" y="273.17" width="13.90" height="9.50" fill="#f7e2e2" />
<rect x="6.00" y="273.17" width="10.00" height="9.50" fill="#a83a38" />
<rect x="18.90" y="273.17" width="9.80" height="9.50" fill="#d9343f" />
<rect x="32.90" y="283.66" width="13.90" height="9.50" fill="#eaeff6" />
<rect x="47.76" y="283.66" width="13.90" height="9.50" fill="#fafafc" />
<rect x="62.62" y="283.66" width="13.90" height="9.50" fill="#eaeff6" />
<rect x="77.48" y="283.66" width="13.90" height="9.50" fill="#c4d4e8" />
<rect x="92.34" y="283.66" width="13.90" height="9.50" fill="#d8e3f0" />
<rect x="107.21" y="283.66" width="13.90" height="9.50" fill="#eaeff6" />
<rect x="122.07" y="283.66" width="13.90" height="9.50" fill="#f7e2e2" />
<rect x="136.93" y="283.66" width="13.90" height="9.50" fill="#c4d4e8" />
<rect x="151.79" y="283.66" width="13.90" height="9.50" fill="#fafafc" />
<rect x="166.65" y="283.66" width="13.90" height="9.50" fill="#f7e2e2" />
<rect x="181.51" y="283.66" width="13.90" height="9.50" fill="#c4d4e8" />
<rect x="196.37" y="283.66" width="13.90" height="9.50" fill="#eaeff6" />
<rect x="211.23" y="283.66" width="13.90" height="9.50" fill="#e89ea0" />
<rect x="226.09" y="283.66" width="13.90" height="9.50" fill="#de7376" />
<rect x="240.95" y="283.66" width="13.90" height="9.50" fill="#f7e2e2" />
<rect x="255.82" y="283.66" width="13.90" height="9.50" fill="#e89ea0" />
<rect x="270.68" y="283.66" width="13.90" height="9.50" fill="#d8e3f0" />
<rect x="285.54" y="283.66" width="13.90" height="9.50" fill="#fafafc" />
<rect x="300.40" y="283.66" width="13.90" height="9.50" fill="#e89ea0" />
<rect x="315.26" y="283.66" width="13.90" height="9.50" fill="#eaeff6" />
<rect x="330.12" y="283.66" width="13.90" height="9.50" fill="#eaeff6" />
<rect x="344.98" y="283.66" width="13.90" height="9.50" fill="#f7e2e2" />
<rect x="359.84" y="283.66" width="13.90" height="9.50" fill="#eaeff6" />
<rect x="374.70" y="283.66" width="13.90" height="9.50" fill="#f0c4c5" />
<rect x="389.56" y="283.66" width="13.90" height="9.50" fill="#d8e3f0" />
<rect x="404.43" y="283.66" width="13.90" height="9.50" fill="#f0c4c5" />
<rect x="419.29" y="283.66" width="13.90" height="9.50" fill="#eaeff6" />
<rect x="434.15" y="283.66" width="13.90" height="9.50" fill="#d8e3f0" />
<rect x="449.01" y="283.66" width="13.90" height="9.50" fill="#f7e2e2" />
<rect x="463.87" y="283.66" width="13.90" height="9.50" fill="#f0c4c5" />
<rect x="478.73" y="283.66" width="13.90" height="9.50" fill="#eaeff6" />
<rect x="493.59" y="283.66" width="13.90" height="9.50" fill="#fafafc" />
<rect x="508.45" y="283.66" width="13.90" height="9.50" fill="#eaeff6" />
<rect x="523.31" y="283.66" width="13.90" height="9.50" fill="#f7e2e2" />
<rect x="538.17" y="283.66" width="13.90" height="9.50" fill="#c4d4e8" />
<rect x="553.03" y="283.66" width="13.90" height="9.50" fill="#fafafc" />
<rect x="6.00" y="283.66" width="10.00" height="9.50" fill="#a83a38" />
<rect x="18.90" y="283.66" width="9.80" height="9.50" fill="#a0a0a0" />
<rect x="32.90" y="294.15" width="13.90" height="9.50" fill="#fafafc" />
<rect x="47.76" y="294.15" width="13.90" height="9.50" fill="#e89ea0" />
<rect x="62.62" y="294.15" width="13.90" height="9.50" fill="#eaeff6" />
<rect x="77.48" y="294.15" width="13.90" height="9.50" fill="#eaeff6" />
<rect x="92.34" y="294.15" width="13.90" height="9.50" fill="#d8e3f0" />
<rect x="107.21" y="294.15" width="13.90" height="9.50" fill="#eaeff6" />
<rect x="122.07" y="294.15" width="13.90" height="9.50" fill="#eaeff6" />
<rect x="136.93" y="294.15" width="13.90" height="9.50" fill="#c4d4e8" />
<rect x="151.79" y="294.15" width="13.90" height="9.50" fill="#eaeff6" />
<rect x="166.65" y="294.15" width="13.90" height="9.50" fill="#fafafc" />
<rect x="181.51" y="294.15" width="13.90" height="9.50" fill="#d8e3f0" />
<rect x="196.37" y="294.15" width="13.90" height="9.50" fill="#d8e3f0" />
<rect x="211.23" y="294.15" width="13.90" height="9.50" fill="#e89ea0" />
<rect x="226.09" y="294.15" width="13.90" height="9.50" fill="#fafafc" />
<rect x="240.95" y="294.15" width="13.90" height="9.50" fill="#eaeff6" />
<rect x="255.82" y="294.15" width="13.90" height="9.50" fill="#eaeff6" />
<rect x="270.68" y="294.15" width="13.90" height="9.50" fill="#d8e3f0" />
<rect x="285.54" y="294.15" width="13.90" height="9.50" fill="#d8e3f0" />
<rect x="300.40" y="294.15" width="13.90" height="9.50" fill="#fafafc" />
<rect x="315.26" y="294.15" width="13.90" height="9.50" fill="#d23a3c" />
<rect x="330.12" y="294.15" width="13.90" height="9.50" fill="#d8e3f0" />
<rect x="344.98" y="294.15" width="13.90" height="9.50" fill="#e89ea0" />
<rect x="359.84" y="294.15" width="13.90" height="9.50" fill="#d8e3f0" />
<rect x="374.70" y="294.15" width="13.90" height="9.50" fill="#fafafc" />
<rect x="389.56" y="294.15" width="13.90" height="9.50" fill="#d8e3f0" />
<rect x="404.43" y="294.15" width="13.90" height="9.50" fill="#f7e2e2" />
<rect x="419.29" y="294.15" width="13.90" height="9.50" fill="#eaeff6" />
<rect x="434.15" y="294.15" width="13.90" height="9.50" fill="#eaeff6" />
<rect x="449.01" y="294.15" width="13.90" height="9.50" fill="#eaeff6" />
<rect x="463.87" y="294.15" width="13.90" height="9.50" fill="#f7e2e2" />
<rect x="478.73" y="294.15" width="13.90" height="9.50" fill="#eaeff6" />
<rect x="493.59" y="294.15" width="13.90" height="9.50" fill="#f7e2e2" />
<rect x="508.45" y="294.15" width="13.90" height="9.50" fill="#eaeff6" />
<rect x="523.31" y="294.15" width="13.90" height="9.50" fill="#f7e2e2" />
<rect x="538.17" y="294.15" width="13.90" height="9.50" fill="#fafafc" />
<rect x="553.03" y="294.15" width="13.90" height="9.50" fill="#f7e2e2" />
<rect x="6.00" y="294.15" width="10.00" height="9.50" fill="#a83a38" />
<rect x="18.90" y="294.15" width="9.80" height="9.50" fill="#a0a0a0" />
<rect x="32.90" y="304.64" width="13.90" height="9.50" fill="#fafafc" />
<rect x="47.76" y="304.64" width="13.90" height="9.50" fill="#fafafc" />
<rect x="62.62" y="304.64" width="13.90" height="9.50" fill="#fafafc" />
<rect x="77.48" y="304.64" width="13.90" height="9.50" fill="#d8e3f0" />
<rect x="92.34" y="304.64" width="13.90" height="9.50" fill="#c4d4e8" />
<rect x="107.21" y="304.64" width="13.90" height="9.50" fill="#d8e3f0" />
<rect x="122.07" y="304.64" width="13.90" height="9.50" fill="#d8e3f0" />
<rect x="136.93" y="304.64" width="13.90" height="9.50" fill="#c4d4e8" />
<rect x="151.79" y="304.64" width="13.90" height="9.50" fill="#fafafc" />
<rect x="166.65" y="304.64" width="13.90" height="9.50" fill="#f0c4c5" />
<rect x="181.51" y="304.64" width="13.90" height="9.50" fill="#d8e3f0" />
<rect x="196.37" y="304.64" width="13.90" height="9.50" fill="#fafafc" />
<rect x="211.23" y="304.64" width="13.90" height="9.50" fill="#e89ea0" />
<rect x="226.09" y="304.64" width="13.90" height="9.50" fill="#f0c4c5" />
<rect x="240.95" y="304.64" width="13.90" height="9.50" fill="#f7e2e2" />
<rect x="255.82" y="304.64" width="13.90" height="9.50" fill="#f0c4c5" />
<rect x="270.68" y="304.64" width="13.90" height="9.50" fill="#d8e3f0" />
<rect x="285.54" y="304.64" width="13.90" height="9.50" fill="#fafafc" />
<rect x="300.40" y="304.64" width="13.90" height="9.50" fill="#e89ea0" />
<rect x="315.26" y="304.64" width="13.90" height="9.50" fill="#f0c4c5" />
<rect x="330.12" y="304.64" width="13.90" height="9.50" fill="#eaeff6" />
<rect x="344.98" y="304.64" width="13.90" height="9.50" fill="#f7e2e2" />
<rect x="359.84" y="304.64" width="13.90" height="9.50" fill="#fafafc" />
<rect x="374.70" y="304.64" width="13.90" height="9.50" fill="#fafafc" />
<rect x="389.56" y="304.64" width="13.90" height="9.50" fill="#d8e3f0" />
<rect x="404.43" y="304.64" width="13.90" height="9.50" fill="#f7e2e2" />
<rect x="419.29" y="304.64" width="13.90" height="9.50" fill="#eaeff6" />
<rect x="434.15" y="304.64" width="13.90" height="9.50" fill="#d8e3f0" />
<rect x="449.01" y="304.64" width="13.90" height="9.50" fill="#d8e3f0" />
<rect x="463.87" y="304.64" width="13.90" height="9.50" fill="#de7376" />
<rect x="478.73" y="304.64" width="13.90" height="9.50" fill="#f0c4c5" />
<rect x="493.59" y="304.64" width="13.90" height="9.50" fill="#f0c4c5" />
<rect x="508.45" y="304.64" width="13.90" height="9.50" fill="#e89ea0" />
<rect x="523.31" y="304.64" width="13.90" height="9.50" fill="#fafafc" />
<rect x="538.17" y="304.64" width="13.90" height="9.50" fill="#d8e3f0" />
<rect x="553.03" y="304.64" width="13.90" height="9.50" fill="#eaeff6" />
<rect x="6.00" y="304.64" width="10.00" height="9.50" fill="#a83a38" />
<rect x="18.90" y="304.64" width="9.80" height="9.50" fill="#a0a0a0" />
<rect x="32.90" y="315.13" width="13.90" height="9.50" fill="#fafafc" />
<rect x="47.76" y="315.13" width="13.90" height="9.50" fill="#fafafc" />
<rect x="62.62" y="315.13" width="13.90" height="9.50" fill="#f7e2e2" />
<rect x="77.48" y="315.13" width="13.90" height="9.50" fill="#c4d4e8" />
<rect x="92.34" y="315.13" width="13.90" height="9.50" fill="#c4d4e8" />
<rect x="107.21" y="315.13" width="13.90" height="9.50" fill="#eaeff6" />
<rect x="122.07" y="315.13" width="13.90" height="9.50" fill="#f7e2e2" />
<rect x="136.93" y="315.13" width="13.90" height="9.50" fill="#d8e3f0" />
<rect x="151.79" y="315.13" width="13.90" height="9.50" fill="#eaeff6" />
<rect x="166.65" y="315.13" width="13.90" height="9.50" fill="#e89ea0" />
<rect x="181.51" y="315.13" width="13.90" height="9.50" fill="#c4d4e8" />
<rect x="196.37" y="315.13" width="13.90" height="9.50" fill="#d8e3f0" />
<rect x="211.23" y="315.13" width="13.90" height="9.50" fill="#f7e2e2" />
<rect x="226.09" y="315.13" width="13.90" height="9.50" fill="#fafafc" />
<rect x="240.95" y="315.13" width="13.90" height="9.50" fill="#fafafc" />
<rect x="255.82" y="315.13" width="13.90" height="9.50" fill="#f0c4c5" />
<rect x="270.68" y="315.13" width="13.90" height="9.50" fill="#eaeff6" />
<rect x="285.54" y="315.13" width="13.90" height="9.50" fill="#d8e3f0" />
<rect x="300.40" y="315.13" width="13.90" height="9.50" fill="#f0c4c5" />
<rect x="315.26" y="315.13" width="13.90" height="9.50" fill="#fafafc" />
<rect x="330.12" y="315.13" width="13.90" height="9.50" fill="#eaeff6" />
<rect x="344.98" y="315.13" width="13.90" height="9.50" fill="#e89ea0" />
<rect x="359.84" y="315.13" width="13.90" height="9.50" fill="#d8e3f0" />
<rect x="374.70" y="315.13" width="13.90" height="9.50" fill="#f0c4c5" />
<rect x="389.56" y="315.13" width="13.90" height="9.50" fill="#c4d4e8" />
<rect x="404.43" y="315.13" width="13.90" height="9.50" fill="#e89ea0" />
<rect x="419.29" y="315.13" width="13.90" height="9.50" fill="#eaeff6" />
<rect x="434.15" y="315.13" width="13.90" height="9.50" fill="#fafafc" />
<rect x="449.01" y="315.13" width="13.90" height="9.50" fill="#eaeff6" />
<rect x="463.87" y="315.13" width="13.90" height="9.50" fill="#de7376" />
<rect x="478.73" y="315.13" width="13.90" height="9.50" fill="#f7e2e2" />
<rect x="493.59" y="315.13" width="13.90" height="9.50" fill="#eaeff6" />
<rect x="508.45" y="315.13" width="13.90" height="9.50" fill="#e89ea0" />
<rect x="523.31" y="315.13" width="13.90" height="9.50" fill="#f7e2e2" />
<rect x="538.17" y="315.13" width="13.90" height="9.50" fill="#c4d4e8" />
<rect x="553.03" y="315.13" width="13.90" height="9.50" fill="#f7e2e2" />
<rect x="6.00" y="315.13" width="10.00" height="9.50" fill="#a83a38" />
<rect x="18.90" y="315.13" width="9.80" height="9.50" fill="#a0a0a0" />
<rect x="32.90" y="325.62" width="13.90" height="9.50" fill="#c4d4e8" />
<rect x="47.76" y="325.62" width="13.90" height="9.50" fill="#d8e3f0" />
<rect x="62.62" y="325.62" width="13.90" height="9.50" fill="#eaeff6" />
<rect x="77.48" y="325.62" width="13.90" height="9.50" fill="#c4d4e8" />
<rect x="92.34" y="325.62" width="13.90" height="9.50" fill="#c4d4e8" />
<rect x="107.21" y="325.62" width="13.90" height="9.50" fill="#eaeff6" />
<rect x="122.07" y="325.62" width="13.90" height="9.50" fill="#fafafc" />
<rect x="136.93" y="325.62" width="13.90" height="9.50" fill="#d8e3f0" />
<rect x="151.79" y="325.62" width="13.90" height="9.50" fill="#eaeff6" />
<rect x="166.65" y="325.62" width="13.90" height="9.50" fill="#eaeff6" />
<rect x="181.51" y="325.62" width="13.90" height="9.50" fill="#d8e3f0" />
<rect x="196.37" y="325.62" width="13.90" height="9.50" fill="#d8e3f0" />
<rect x="211.23" y="325.62" width="13.90" height="9.50" fill="#f7e2e2" />
<rect x="226.09" y="325.62" width="13.90" height="9.50" fill="#e89ea0" />
<rect x="240.95" y="325.62" width="13.90" height="9.50" fill="#d8e3f0" />
<rect x="255.82" y="325.62" width="13.90" height="9.50" fill="#fafafc" />
<rect x="270.68" y="325.62" width="13.90" height="9.50" fill="#eaeff6" />
<rect x="285.54" y="325.62" width="13.90" height="9.50" fill="#d8e3f0" />
<rect x="300.40" y="325.62" width="13.90" height="9.50" fill="#e89ea0" />
<rect x="315.26" y="325.62" width="13.90" height="9.50" fill="#eaeff6" />
<rect x="330.12" y="325.62" width="13.90" height="9.50" fill="#fafafc" />
<rect x="344.98" y="325.62" width="13.90" height="9.50" fill="#f0c4c5" />
<rect x="359.84" y="325.62" width="13.90" height="9.50" fill="#f7e2e2" />
<rect x="374.70" y="325.62" width="13.90" height="9.50" fill="#e89ea0" />
<rect x="389.56" y="325.62" width="13.90" height="9.50" fill="#c4d4e8" />
<rect x="404.43" y="325.62" width="13.90" height="9.50" fill="#e89ea0" />
<rect x="419.29" y="325.62" width="13.90" height="9.50" fill="#f7e2e2" />
<rect x="434.15" y="325.62" width="13.90" height="9.50" fill="#fafafc" />
<rect x="449.01" y="325.62" width="13.90" height="9.50" fill="#e89ea0" />
<rect x="463.87" y="325.62" width="13.90" height="9.50" fill="#f0c4c5" />
<rect x="478.73" y="325.62" width="13.90" height="9.50" fill="#fafafc" />
<rect x="493.59" y="325.62" width="13.90" height="9.50" fill="#f7e2e2" />
<rect x="508.45" y="325.62" width="13.90" height="9.50" fill="#e89ea0" />
<rect x="523.31" y="325.62" width="13.90" height="9.50" fill="#f0c4c5" />
<rect x="538.17" y="325.62" width="13.90" height="9.50" fill="#c4d4e8" />
<rect x="553.03" y="325.62" width="13.90" height="9.50" fill="#f0c4c5" />
<rect x="6.00" y="325.62" width="10.00" height="9.50" fill="#a83a38" />
<rect x="18.90" y="325.62" width="9.80" height="9.50" fill="#d9343f" />
<rect x="32.90" y="336.11" width="13.90" height="9.50" fill="#c4d4e8" />
<rect x="47.76" y="336.11" width="13.90" height="9.50" fill="#eaeff6" />
<rect x="62.62" y="336.11" width="13.90" height="9.50" fill="#d8e3f0" />
<rect x="77.48" y="336.11" width="13.90" height="9.50" fill="#c4d4e8" />
<rect x="92.34" y="336.11" width="13.90" height="9.50" fill="#d8e3f0" />
<rect x="107.21" y="336.11" width="13.90" height="9.50" fill="#c4d4e8" />
<rect x="122.07" y="336.11" width="13.90" height="9.50" fill="#f0c4c5" />
<rect x="136.93" y="336.11" width="13.90" height="9.50" fill="#d8e3f0" />
<rect x="151.79" y="336.11" width="13.90" height="9.50" fill="#eaeff6" />
<rect x="166.65" y="336.11" width="13.90" height="9.50" fill="#eaeff6" />
<rect x="181.51" y="336.11" width="13.90" height="9.50" fill="#d8e3f0" />
<rect x="196.37" y="336.11" width="13.90" height="9.50" fill="#d8e3f0" />
<rect x="211.23" y="336.11" width="13.90" height="9.50" fill="#e89ea0" />
<rect x="226.09" y="336.11" width="13.90" height="9.50" fill="#d23a3c" />
<rect x="240.95" y="336.11" width="13.90" height="9.50" fill="#eaeff6" />
<rect x="255.82" y="336.11" width="13.90" height="9.50" fill="#eaeff6" />
<rect x="270.68" y="336.11" width="13.90" height="9.50" fill="#fafafc" />
<rect x="285.54" y="336.11" width="13.90" height="9.50" fill="#eaeff6" />
<rect x="300.40" y="336.11" width="13.90" height="9.50" fill="#f0c4c5" />
<rect x="315.26" y="336.11" width="13.90" height="9.50" fill="#fafafc" />
<rect x="330.12" y="336.11" width="13.90" height="9.50" fill="#fafafc" />
<rect x="344.98" y="336.11" width="13.90" height="9.50" fill="#f7e2e2" />
<rect x="359.84" y="336.11" width="13.90" height="9.50" fill="#f7e2e2" />
<rect x="374.70" y="336.11" width="13.90" height="9.50" fill="#fafafc" />
<rect x="389.56" y="336.11" width="13.90" height="9.50" fill="#c4d4e8" />
<rect x="404.43" y="336.11" width="13.90" height="9.50" fill="#f0c4c5" />
<rect x="419.29" y="336.11" width="13.90" height="9.50" fill="#eaeff6" />
<rect x="434.15" y="336.11" width="13.90" height="9.50" fill="#fafafc" />
<rect x="449.01" y="336.11" width="13.90" height="9.50" fill="#f7e2e2" />
<rect x="463.87" y="336.11" width="13.90" height="9.50" fill="#e89ea0" />
<rect x="478.73" y="336.11" width="13.90" height="9.50" fill="#f0c4c5" />
<rect x="493.59" y="336.11" width="13.90" height="9.50" fill="#fafafc" />
<rect x="508.45" y="336.11" width="13.90" height="9.50" fill="#f0c4c5" />
<rect x="523.31" y="336.11" width="13.90" height="9.50" fill="#fafafc" />
<rect x="538.17" y="336.11" width="13.90" height="9.50" fill="#c4d4e8" />
<rect x="553.03" y="336.11" width="13.90" height="9.50" fill="#f7e2e2" />
<rect x="6.00" y="336.11" width="10.00" height="9.50" fill="#a83a38" />
<rect x="18.90" y="336.11" width="9.80" height="9.50" fill="#d9343f" />
<rect x="32.90" y="346.60" width="13.90" height="9.50" fill="#fafafc" />
<rect x="47.76" y="346.60" width="13.90" height="9.50" fill="#d8e3f0" />
<rect x="62.62" y="346.60" width="13.90" height="9.50" fill="#fafafc" />
<rect x="77.48" y="346.60" width="13.90" height="9.50" fill="#d8e3f0" />
<rect x="92.34" y="346.60" width="13.90" height="9.50" fill="#fafafc" />
<rect x="107.21" y="346.60" width="13.90" height="9.50" fill="#d8e3f0" />
<rect x="122.07" y="346.60" width="13.90" height="9.50" fill="#eaeff6" />
<rect x="136.93" y="346.60" width="13.90" height="9.50" fill="#d8e3f0" />
<rect x="151.79" y="346.60" width="13.90" height="9.50" fill="#d8e3f0" />
<rect x="166.65" y="346.60" width="13.90" height="9.50" fill="#f7e2e2" />
<rect x="181.51" y="346.60" width="13.90" height="9.50" fill="#c4d4e8" />
<rect x="196.37" y="346.60" width="13.90" height="9.50" fill="#d8e3f0" />
<rect x="211.23" y="346.60" width="13.90" height="9.50" fill="#e89ea0" />
<rect x="226.09" y="346.60" width="13.90" height="9.50" fill="#d23a3c" />
<rect x="240.95" y="346.60" width="13.90" height="9.50" fill="#f7e2e2" />
<rect x="255.82" y="346.60" width="13.90" height="9.50" fill="#f0c4c5" />
<rect x="270.68" y="346.60" width="13.90" height="9.50" fill="#eaeff6" />
<rect x="285.54" y="346.60" width="13.90" height="9.50" fill="#f7e2e2" />
<rect x="300.40" y="346.60" width="13.90" height="9.50" fill="#e89ea0" />
<rect x="315.26" y="346.60" width="13.90" height="9.50" fill="#eaeff6" />
<rect x="330.12" y="346.60" width="13.90" height="9.50" fill="#eaeff6" />
<rect x="344.98" y="346.60" width="13.90" height="9.50" fill="#eaeff6" />
<rect x="359.84" y="346.60" width="13.90" height="9.50" fill="#fafafc" />
<rect x="374.70" y="346.60" width="13.90" height="9.50" fill="#fafafc" />
<rect x="389.56" y="346.60" width="13.90" height="9.50" fill="#c4d4e8" />
<rect x="404.43" y="346.60" width="13.90" height="9.50" fill="#f7e2e2" />
<rect x="419.29" y="346.60" width="13.90" height="9.50" fill="#fafafc" />
<rect x="434.15" y="346.60" width="13.90" height="9.50" fill="#eaeff6" />
<rect x="449.01" y="346.60" width="13.90" height="9.50" fill="#f7e2e2" />
<rect x="463.87" y="346.60" width="13.90" height="9.50" fill="#fafafc" />
<rect x="478.73" y="346.60" width="13.90" height="9.50" fill="#e89ea0" />
<rect x="493.59" y="346.60" width="13.90" height="9.50" fill="#f0c4c5" />
<rect x="508.45" y="346.60" width="13.90" height="9.50" fill="#eaeff6" />
<rect x="523.31" y="346.60" width="13.90" height="9.50" fill="#fafafc" />
<rect x="538.17" y="346.60" width="13.90" height="9.50" fill="#c4d4e8" />
<rect x="553.03" y="346.60" width="13.90" height="9.50" fill="#f7e2e2" />
<rect x="6.00" y="346.60" width="10.00" height="9.50" fill="#a83a38" />
<rect x="18.90" y="346.60" width="9.80" height="9.50" fill="#a0a0a0" />
<rect x="32.90" y="357.09" width="13.90" height="9.50" fill="#c4d4e8" />
<rect x="47.76" y="357.09" width="13.90" height="9.50" fill="#f7e2e2" />
<rect x="62.62" y="357.09" width="13.90" height="9.50" fill="#c4d4e8" />
<rect x="77.48" y="357.09" width="13.90" height="9.50" fill="#fafafc" />
<rect x="92.34" y="357.09" width="13.90" height="9.50" fill="#c4d4e8" />
<rect x="107.21" y="357.09" width="13.90" height="9.50" fill="#eaeff6" />
<rect x="122.07" y="357.09" width="13.90" height="9.50" fill="#d8e3f0" />
<rect x="136.93" y="357.09" width="13.90" height="9.50" fill="#c4d4e8" />
<rect x="151.79" y="357.09" width="13.90" height="9.50" fill="#f7e2e2" />
<rect x="166.65" y="357.09" width="13.90" height="9.50" fill="#eaeff6" />
<rect x="181.51" y="357.09" width="13.90" height="9.50" fill="#d8e3f0" />
<rect x="196.37" y="357.09" width="13.90" height="9.50" fill="#d8e3f0" />
<rect x="211.23" y="357.09" width="13.90" height="9.50" fill="#de7376" />
<rect x="226.09" y="357.09" width="13.90" height="9.50" fill="#fafafc" />
<rect x="240.95" y="357.09" width="13.90" height="9.50" fill="#fafafc" />
<rect x="255.82" y="357.09" width="13.90" height="9.50" fill="#fafafc" />
<rect x="270.68" y="357.09" width="13.90" height="9.50" fill="#d8e3f0" />
<rect x="285.54" y="357.09" width="13.90" height="9.50" fill="#eaeff6" />
<rect x="300.40" y="357.09" width="13.90" height="9.50" fill="#f7e2e2" />
<rect x="315.26" y="357.09" width="13.90" height="9.50" fill="#de7376" />
<rect x="330.12" y="357.09" width="13.90" height="9.50" fill="#d8e3f0" />
<rect x="344.98" y="357.09" width="13.90" height="9.50" fill="#e89ea0" />
<rect x="359.84" y="357.09" width="13.90" height="9.50" fill="#f0c4c5" />
<rect x="374.70" y="357.09" width="13.90" height="9.50" fill="#f7e2e2" />
<rect x="389.56" y="357.09" width="13.90" height="9.50" fill="#eaeff6" />
<rect x="404.43" y="357.09" width="13.90" height="9.50" fill="#f7e2e2" />
<rect x="419.29" y="357.09" width="13.90" height="9.50" fill="#fafafc" />
<rect x="434.15" y="357.09" width="13.90" height="9.50" fill="#f7e2e2" />
<rect x="449.01" y="357.09" width="13.90" height="9.50" fill="#f0c4c5" />
<rect x="463.87" y="357.09" width="13.90" height="9.50" fill="#f0c4c5" />
<rect x="478.73" y="357.09" width="13.90" height="9.50" fill="#fafafc" />
<rect x="493.59" y="357.09" width="13.90" height="9.50" fill="#fafafc" />
<rect x="508.45" y="357.09" width="13.90" height="9.50" fill="#f7e2e2" />
<rect x="523.31" y="357.09" width="13.90" height="9.50" fill="#f7e2e2" />
<rect x="538.17" y="357.09" width="13.90" height="9.50" fill="#eaeff6" />
<rect x="553.03" y="357.09" width="13.90" height="9.50" fill="#eaeff6" />
<rect x="6.00" y="357.09" width="10.00" height="9.50" fill="#a83a38" />
<rect x="18.90" y="357.09" width="9.80" height="9.50" fill="#d9343f" />
<rect x="32.90" y="367.58" width="13.90" height="9.50" fill="#fafafc" />
<rect x="47.76" y="367.58" width="13.90" height="9.50" fill="#fafafc" />
<rect x="62.62" y="367.58" width="13.90" height="9.50" fill="#fafafc" />
<rect x="77.48" y="367.58" width="13.90" height="9.50" fill="#c4d4e8" />
<rect x="92.34" y="367.58" width="13.90" height="9.50" fill="#c4d4e8" />
<rect x="107.21" y="367.58" width="13.90" height="9.50" fill="#eaeff6" />
<rect x="122.07" y="367.58" width="13.90" height="9.50" fill="#eaeff6" />
<rect x="136.93" y="367.58" width="13.90" height="9.50" fill="#c4d4e8" />
<rect x="151.79" y="367.58" width="13.90" height="9.50" fill="#eaeff6" />
<rect x="166.65" y="367.58" width="13.90" height="9.50" fill="#f7e2e2" />
<rect x="181.51" y="367.58" width="13.90" height="9.50" fill="#d8e3f0" />
<rect x="196.37" y="367.58" width="13.90" height="9.50" fill="#eaeff6" />
<rect x="211.23" y="367.58" width="13.90" height="9.50" fill="#e89ea0" />
<rect x="226.09" y="367.58" width="13.90" height="9.50" fill="#f0c4c5" />
<rect x="240.95" y="367.58" width="13.90" height="9.50" fill="#fafafc" />
<rect x="255.82" y="367.58" width="13.90" height="9.50" fill="#f7e2e2" />
<rect x="270.68" y="367.58" width="13.90" height="9.50" fill="#d8e3f0" />
<rect x="285.54" y="367.58" width="13.90" height="9.50" fill="#eaeff6" />
<rect x="300.40" y="367.58" width="13.90" height="9.50" fill="#e89ea0" />
<rect x="315.26" y="367.58" width="13.90" height="9.50" fill="#fafafc" />
<rect x="330.12" y="367.58" width="13.90" height="9.50" fill="#fafafc" />
<rect x="344.98" y="367.58" width="13.90" height="9.50" fill="#de7376" />
<rect x="359.84" y="367.58" width="13.90" height="9.50" fill="#f7e2e2" />
<rect x="374.70" y="367.58" width="13.90" height="9.50" fill="#f0c4c5" />
<rect x="389.56" y="367.58" width="13.90" height="9.50" fill="#c4d4e8" />
<rect x="404.43" y="367.58" width="13.90" height="9.50" fill="#e89ea0" />
<rect x="419.29" y="367.58" width="13.90" height="9.50" fill="#d8e3f0" />
<rect x="434.15" y="367.58" width="13.90" height="9.50" fill="#c4d4e8" />
<rect x="449.01" y="367.58" width="13.90" height="9.50" fill="#fafafc" />
<rect x="463.87" y="367.58" width="13.90" height="9.50" fill="#f0c4c5" />
<rect x="478.73" y="367.58" width="13.90" height="9.50" fill="#f7e2e2" />
<rect x="493.59" y="367.58" width="13.90" height="9.50" fill="#f7e2e2" />
<rect x="508.45" y="367.58" width="13.90" height="9.50" fill="#e89ea0" />
<rect x="523.31" y="367.58" width="13.90" height="9.50" fill="#eaeff6" />
<rect x="538.17" y="367.58" width="13.90" height="9.50" fill="#c4d4e8" />
<rect x="553.03" y="367.58" width="13.90" height="9.50" fill="#fafafc" />
<rect x="6.00" y="367.58" width="10.00" height="9.50" fill="#a83a38" />
<rect x="18.90" y="367.58" width="9.80" height="9.50" fill="#a0a0a0" />
<rect x="32.90" y="378.07" width="13.90" height="9.50" fill="#fafafc" />
<rect x="47.76" y="378.07" width="13.90" height="9.50" fill="#d8e3f0" />
<rect x="62.62" y="378.07" width="13.90" height="9.50" fill="#fafafc" />
<rect x="77.48" y="378.07" width="13.90" height="9.50" fill="#a0b9db" />
<rect x="92.34" y="378.07" width="13.90" height="9.50" fill="#c4d4e8" />
<rect x="107.21" y="378.07" width="13.90" height="9.50" fill="#d8e3f0" />
<rect x="122.07" y="378.07" width="13.90" height="9.50" fill="#fafafc" />
<rect x="136.93" y="378.07" width="13.90" height="9.50" fill="#d8e3f0" />
<rect x="151.79" y="378.07" width="13.90" height="9.50" fill="#eaeff6" />
<rect x="166.65" y="378.07" width="13.90" height="9.50" fill="#f7e2e2" />
<rect x="181.51" y="378.07" width="13.90" height="9.50" fill="#d8e3f0" />
<rect x="196.37" y="378.07" width="13.90" height="9.50" fill="#d8e3f0" />
<rect x="211.23" y="378.07" width="13.90" height="9.50" fill="#fafafc" />
<rect x="226.09" y="378.07" width="13.90" height="9.50" fill="#e89ea0" />
<rect x="240.95" y="378.07" width="13.90" height="9.50" fill="#fafafc" />
<rect x="255.82" y="378.07" width="13.90" height="9.50" fill="#f7e2e2" />
<rect x="270.68" y="378.07" width="13.90" height="9.50" fill="#eaeff6" />
<rect x="285.54" y="378.07" width="13.90" height="9.50" fill="#fafafc" />
<rect x="300.40" y="378.07" width="13.90" height="9.50" fill="#de7376" />
<rect x="315.26" y="378.07" width="13.90" height="9.50" fill="#eaeff6" />
<rect x="330.12" y="378.07" width="13.90" height="9.50" fill="#fafafc" />
<rect x="344.98" y="378.07" width="13.90" height="9.50" fill="#e89ea0" />
<rect x="359.84" y="378.07" width="13.90" height="9.50" fill="#fafafc" />
<rect x="374.70" y="378.07" width="13.90" height="9.50" fill="#f0c4c5" />
<rect x="389.56" y="378.07" width="13.90" height="9.50" fill="#d8e3f0" />
<rect x="404.43" y="378.07" width="13.90" height="9.50" fill="#f0c4c5" />
<rect x="419.29" y="378.07" width="13.90" height="9.50" fill="#eaeff6" />
<rect x="434.15" y="378.07" width="13.90" height="9.50" fill="#c4d4e8" />
<rect x="449.01" y="378.07" width="13.90" height="9.50" fill="#fafafc" />
<rect x="463.87" y="378.07" width="13.90" height="9.50" fill="#e89ea0" />
<rect x="478.73" y="378.07" width="13.90" height="9.50" fill="#f7e2e2" />
<rect x="493.59" y="378.07" width="13.90" height="9.50" fill="#fafafc" />
<rect x="508.45" y="378.07" width="13.90" height="9.50" fill="#e89ea0" />
<rect x="523.31" y="378.07" width="13.90" height="9.50" fill="#eaeff6" />
<rect x="538.17" y="378.07" width="13.90" height="9.50" fill="#c4d4e8" />
<rect x="553.03" y="378.07" width="13.90" height="9.50" fill="#f7e2e2" />
<rect x="6.00" y="378.07" width="10.00" height="9.50" fill="#a83a38" />
<rect x="18.90" y="378.07" width="9.80" height="9.50" fill="#a0a0a0" />
<rect x="32.90" y="388.56" width="13.90" height="9.50" fill="#f7e2e2" />
<rect x="47.76" y="388.56" width="13.90" height="9.50" fill="#c4d4e8" />
<rect x="62.62" y="388.56" width="13.90" height="9.50" fill="#f7e2e2" />
<rect x="77.48" y="388.56" width="13.90" height="9.50" fill="#eaeff6" />
<rect x="92.34" y="388.56" width="13.90" height="9.50" fill="#f0c4c5" />
<rect x="107.21" y="388.56" width="13.90" height="9.50" fill="#d8e3f0" />
<rect x="122.07" y="388.56" width="13.90" height="9.50" fill="#eaeff6" />
<rect x="136.93" y="388.56" width="13.90" height="9.50" fill="#d8e3f0" />
<rect x="151.79" y="388.56" width="13.90" height="9.50" fill="#d8e3f0" />
<rect x="166.65" y="388.56" width="13.90" height="9.50" fill="#f7e2e2" />
<rect x="181.51" y="388.56" width="13.90" height="9.50" fill="#c4d4e8" />
<rect x="196.37" y="388.56" width="13.90" height="9.50" fill="#d8e3f0" />
<rect x="211.23" y="388.56" width="13.90" height="9.50" fill="#f0c4c5" />
<rect x="226.09" y="388.56" width="13.90" height="9.50" fill="#e89ea0" />
<rect x="240.95" y="388.56" width="13.90" height="9.50" fill="#eaeff6" />
<rect x="255.82" y="388.56" width="13.90" height="9.50" fill="#eaeff6" />
<rect x="270.68" y="388.56" width="13.90" height="9.50" fill="#d8e3f0" />
<rect x="285.54" y="388.56" width="13.90" height="9.50" fill="#f0c4c5" />
<rect x="300.40" y="388.56" width="13.90" height="9.50" fill="#de7376" />
<rect x="315.26" y="388.56" width="13.90" height="9.50" fill="#fafafc" />
<rect x="330.12" y="388.56" width="13.90" height="9.50" fill="#eaeff6" />
<rect x="344.98" y="388.56" width="13.90" height="9.50" fill="#d8e3f0" />
<rect x="359.84" y="388.56" width="13.90" height="9.50" fill="#eaeff6" />
<rect x="374.70" y="388.56" width="13.90" height="9.50" fill="#fafafc" />
<rect x="389.56" y="388.56" width="13.90" height="9.50" fill="#c4d4e8" />
<rect x="404.43" y="388.56" width="13.90" height="9.50" fill="#f7e2e2" />
<rect x="419.29" y="388.56" width="13.90" height="9.50" fill="#eaeff6" />
<rect x="434.15" y="388.56" width="13.90" height="9.50" fill="#eaeff6" />
<rect x="449.01" y="388.56" width="13.90" height="9.50" fill="#d8e3f0" />
<rect x="463.87" y="388.56" width="13.90" height="9.50" fill="#fafafc" />
<rect x="478.73" y="388.56" width="13.90" height="9.50" fill="#de7376" />
<rect x="493.59" y="388.56" width="13.90" height="9.50" fill="#fafafc" />
<rect x="508.45" y="388.56" width="13.90" height="9.50" fill="#fafafc" />
<rect x="523.31" y="388.56" width="13.90" height="9.50" fill="#fafafc" />
<rect x="538.17" y="388.56" width="13.90" height="9.50" fill="#d8e3f0" />
<rect x="553.03" y="388.56" width="13.90" height="9.50" fill="#f0c4c5" />
<rect x="6.00" y="388.56" width="10.00" height="9.50" fill="#a83a38" />
<rect x="18.90" y="388.56" width="9.80" height="9.50" fill="#a0a0a0" />
<rect x="32.90" y="399.05" width="13.90" height="9.50" fill="#c4d4e8" />
<rect x="47.76" y="399.05" width="13.90" height="9.50" fill="#eaeff6" />
<rect x="62.62" y="399.05" width="13.90" height="9.50" fill="#eaeff6" />
<rect x="77.48" y="399.05" width="13.90" height="9.50" fill="#d8e3f0" />
<rect x="92.34" y="399.05" width="13.90" height="9.50" fill="#a0b9db" />
<rect x="107.21" y="399.05" width="13.90" height="9.50" fill="#d8e3f0" />
<rect x="122.07" y="399.05" width="13.90" height="9.50" fill="#eaeff6" />
<rect x="136.93" y="399.05" width="13.90" height="9.50" fill="#c4d4e8" />
<rect x="151.79" y="399.05" width="13.90" height="9.50" fill="#f0c4c5" />
<rect x="166.65" y="399.05" width="13.90" height="9.50" fill="#c4d4e8" />
<rect x="181.51" y="399.05" width="13.90" height="9.50" fill="#eaeff6" />
<rect x="196.37" y="399.05" width="13.90" height="9.50" fill="#eaeff6" />
<rect x="211.23" y="399.05" width="13.90" height="9.50" fill="#de7376" />
<rect x="226.09" y="399.05" width="13.90" height="9.50" fill="#f7e2e2" />
<rect x="240.95" y="399.05" width="13.90" height="9.50" fill="#eaeff6" />
<rect x="255.82" y="399.05" width="13.90" height="9.50" fill="#d8e3f0" />
<rect x="270.68" y="399.05" width="13.90" height="9.50" fill="#f0c4c5" />
<rect x="285.54" y="399.05" width="13.90" height="9.50" fill="#eaeff6" />
<rect x="300.40" y="399.05" width="13.90" height="9.50" fill="#de7376" />
<rect x="315.26" y="399.05" width="13.90" height="9.50" fill="#f0c4c5" />
<rect x="330.12" y="399.05" width="13.90" height="9.50" fill="#d8e3f0" />
<rect x="344.98" y="399.05" width="13.90" height="9.50" fill="#fafafc" />
<rect x="359.84" y="399.05" width="13.90" height="9.50" fill="#fafafc" />
<rect x="374.70" y="399.05" width="13.90" height="9.50" fill="#f7e2e2" />
<rect x="389.56" y="399.05" width="13.90" height="9.50" fill="#d8e3f0" />
<rect x="404.43" y="399.05" width="13.90" height="9.50" fill="#fafafc" />
<rect x="419.29" y="399.05" width="13.90" height="9.50" fill="#fafafc" />
<rect x="434.15" y="399.05" width="13.90" height="9.50" fill="#f0c4c5" />
<rect x="449.01" y="399.05" width="13.90" height="9.50" fill="#f0c4c5" />
<rect x="463.87" y="399.05" width="13.90" height="9.50" fill="#e89ea0" />
<rect x="478.73" y="399.05" width="13.90" height="9.50" fill="#f7e2e2" />
<rect x="493.59" y="399.05" width="13.90" height="9.50" fill="#eaeff6" />
<rect x="508.45" y="399.05" width="13.90" height="9.50" fill="#eaeff6" />
<rect x="523.31" y="399.05" width="13.90" height="9.50" fill="#f7e2e2" />
<rect x="538.17" y="399.05" width="13.90" height="9.50" fill="#eaeff6" />
<rect x="553.03" y="399.05" width="13.90" height="9.50" fill="#f7e2e2" />
<rect x="6.00" y="399.05" width="10.00" height="9.50" fill="#a83a38" />
<rect x="18.90" y="399.05" width="9.80" height="9.50" fill="#d9343f" />
<rect x="32.90" y="409.54" width="13.90" height="9.50" fill="#f7e2e2" />
<rect x="47.76" y="409.54" width="13.90" height="9.50" fill="#a0b9db" />
<rect x="62.62" y="409.54" width="13.90" height="9.50" fill="#eaeff6" />
<rect x="77.48" y="409.54" width="13.90" height="9.50" fill="#d8e3f0" />
<rect x="92.34" y="409.54" width="13.90" height="9.50" fill="#e89ea0" />
<rect x="107.21" y="409.54" width="13.90" height="9.50" fill="#d8e3f0" />
<rect x="122.07" y="409.54" width="13.90" height="9.50" fill="#eaeff6" />
<rect x="136.93" y="409.54" width="13.90" height="9.50" fill="#c4d4e8" />
<rect x="151.79" y="409.54" width="13.90" height="9.50" fill="#c4d4e8" />
<rect x="166.65" y="409.54" width="13.90" height="9.50" fill="#f0c4c5" />
<rect x="181.51" y="409.54" width="13.90" height="9.50" fill="#c4d4e8" />
<rect x="196.37" y="409.54" width="13.90" height="9.50" fill="#d8e3f0" />
<rect x="211.23" y="409.54" width="13.90" height="9.50" fill="#f0c4c5" />
<rect x="226.09" y="409.54" width="13.90" height="9.50" fill="#e89ea0" />
<rect x="240.95" y="409.54" width="13.90" height="9.50" fill="#d8e3f0" />
<rect x="255.82" y="409.54" width="13.90" height="9.50" fill="#eaeff6" />
<rect x="270.68" y="409.54" width="13.90" height="9.50" fill="#d8e3f0" />
<rect x="285.54" y="409.54" width="13.90" height="9.50" fill="#eaeff6" />
<rect x="300.40" y="409.54" width="13.90" height="9.50" fill="#e89ea0" />
<rect x="315.26" y="409.54" width="13.90" height="9.50" fill="#f7e2e2" />
<rect x="330.12" y="409.54" width="13.90" height="9.50" fill="#eaeff6" />
<rect x="344.98" y="409.54" width="13.90" height="9.50" fill="#eaeff6" />
<rect x="359.84" y="409.54" width="13.90" height="9.50" fill="#fafafc" />
<rect x="374.70" y="409.54" width="13.90" height="9.50" fill="#f7e2e2" />
<rect x="389.56" y="409.54" width="13.90" height="9.50" fill="#d8e3f0" />
<rect x="404.43" y="409.54" width="13.90" height="9.50" fill="#f7e2e2" />
<rect x="419.29" y="409.54" width="13.90" height="9.50" fill="#fafafc" />
<rect x="434.15" y="409.54" width="13.90" height="9.50" fill="#fafafc" />
<rect x="449.01" y="409.54" width="13.90" height="9.50" fill="#eaeff6" />
<rect x="463.87" y="409.54" width="13.90" height="9.50" fill="#f7e2e2" />
<rect x="478.73" y="409.54" width="13.90" height="9.50" fill="#f0c4c5" />
<rect x="493.59" y="409.54" width="13.90" height="9.50" fill="#f7e2e2" />
<rect x="508.45" y="409.54" width="13.90" height="9.50" fill="#f7e2e2" />
<rect x="523.31" y="409.54" width="13.90" height="9.50" fill="#fafafc" />
<rect x="538.17" y="409.54" width="13.90" height="9.50" fill="#eaeff6" />
<rect x="553.03" y="409.54" width="13.90" height="9.50" fill="#e89ea0" />
<rect x="6.00" y="409.54" width="10.00" height="9.50" fill="#a83a38" />
<rect x="18.90" y="409.54" width="9.80" height="9.50" fill="#d9343f" />
<text transform="translate(571.00,39.20) scale(1.13,1)" font-size="11.2" font-weight="normal" font-style="normal" fill="#1a1a1a" text-anchor="start">Ala</text>
<text transform="translate(571.00,49.71) scale(1.13,1)" font-size="11.2" font-weight="normal" font-style="normal" fill="#1a1a1a" text-anchor="start">Asn</text>
<text transform="translate(571.00,60.23) scale(1.13,1)" font-size="11.2" font-weight="normal" font-style="normal" fill="#1a1a1a" text-anchor="start">Asp</text>
<text transform="translate(571.00,70.74) scale(1.13,1)" font-size="11.2" font-weight="normal" font-style="normal" fill="#1a1a1a" text-anchor="start">Glu</text>
<text transform="translate(571.00,81.26) scale(1.13,1)" font-size="11.2" font-weight="normal" font-style="normal" fill="#1a1a1a" text-anchor="start">Gly</text>
<text transform="translate(571.00,91.77) scale(1.13,1)" font-size="11.2" font-weight="normal" font-style="normal" fill="#1a1a1a" text-anchor="start">His</text>
<text transform="translate(571.00,102.28) scale(1.13,1)" font-size="11.2" font-weight="normal" font-style="normal" fill="#1a1a1a" text-anchor="start">Ile</text>
<text transform="translate(571.00,112.80) scale(1.13,1)" font-size="11.2" font-weight="normal" font-style="normal" fill="#1a1a1a" text-anchor="start">Leu</text>
<text transform="translate(571.00,123.31) scale(1.13,1)" font-size="11.2" font-weight="normal" font-style="normal" fill="#1a1a1a" text-anchor="start">Lys</text>
<text transform="translate(571.00,133.83) scale(1.13,1)" font-size="11.2" font-weight="normal" font-style="normal" fill="#1a1a1a" text-anchor="start">Met</text>
<text transform="translate(571.00,144.34) scale(1.13,1)" font-size="11.2" font-weight="normal" font-style="normal" fill="#1a1a1a" text-anchor="start">Phe</text>
<text transform="translate(571.00,154.85) scale(1.13,1)" font-size="11.2" font-weight="normal" font-style="normal" fill="#1a1a1a" text-anchor="start">Ser</text>
<text transform="translate(571.00,165.37) scale(1.13,1)" font-size="11.2" font-weight="normal" font-style="normal" fill="#d23238" text-anchor="start">Thr</text>
<text transform="translate(571.00,175.88) scale(1.13,1)" font-size="11.2" font-weight="normal" font-style="normal" fill="#1a1a1a" text-anchor="start">Trp</text>
<text transform="translate(571.00,186.40) scale(1.13,1)" font-size="11.2" font-weight="normal" font-style="normal" fill="#1a1a1a" text-anchor="start">Val</text>
<text transform="translate(571.00,196.91) scale(1.13,1)" font-size="11.2" font-weight="normal" font-style="normal" fill="#1a1a1a" text-anchor="start">Tyr</text>
<text transform="translate(571.00,207.42) scale(1.13,1)" font-size="11.2" font-weight="normal" font-style="normal" fill="#1a1a1a" text-anchor="start">Arg</text>
<text transform="translate(571.00,217.94) scale(1.13,1)" font-size="11.2" font-weight="normal" font-style="normal" fill="#1a1a1a" text-anchor="start">Gln</text>
<text transform="translate(571.00,228.45) scale(1.13,1)" font-size="11.2" font-weight="normal" font-style="normal" fill="#1a1a1a" text-anchor="start">Pro</text>
<text transform="translate(571.00,238.97) scale(1.13,1)" font-size="11.2" font-weight="normal" font-style="normal" fill="#d23238" text-anchor="start">C16:1</text>
<text transform="translate(571.00,249.48) scale(1.13,1)" font-size="11.2" font-weight="normal" font-style="normal" fill="#1a1a1a" text-anchor="start">C16</text>
<text transform="translate(571.00,259.99) scale(1.13,1)" font-size="11.2" font-weight="normal" font-style="normal" fill="#1a1a1a" text-anchor="start">C18:3</text>
<text transform="translate(571.00,270.51) scale(1.13,1)" font-size="11.2" font-weight="normal" font-style="normal" fill="#1a1a1a" text-anchor="start">C18:2</text>
<text transform="translate(571.00,281.02) scale(1.13,1)" font-size="11.2" font-weight="normal" font-style="normal" fill="#d23238" text-anchor="start">C18:1</text>
<text transform="translate(571.00,291.54) scale(1.13,1)" font-size="11.2" font-weight="normal" font-style="normal" fill="#1a1a1a" text-anchor="start">C18</text>
<text transform="translate(571.00,302.05) scale(1.13,1)" font-size="11.2" font-weight="normal" font-style="normal" fill="#1a1a1a" text-anchor="start">C20:5</text>
<text transform="translate(571.00,312.56) scale(1.13,1)" font-size="11.2" font-weight="normal" font-style="normal" fill="#1a1a1a" text-anchor="start">C20:4</text>
<text transform="translate(571.00,323.08) scale(1.13,1)" font-size="11.2" font-weight="normal" font-style="normal" fill="#1a1a1a" text-anchor="start">C20:3</text>
<text transform="translate(571.00,333.59) scale(1.13,1)" font-size="11.2" font-weight="normal" font-style="normal" fill="#d23238" text-anchor="start">C20:2</text>
<text transform="translate(571.00,344.11) scale(1.13,1)" font-size="11.2" font-weight="normal" font-style="normal" fill="#d23238" text-anchor="start">C20:1</text>
<text transform="translate(571.00,354.62) scale(1.13,1)" font-size="11.2" font-weight="normal" font-style="normal" fill="#1a1a1a" text-anchor="start">C20</text>
<text transform="translate(571.00,365.13) scale(1.13,1)" font-size="11.2" font-weight="normal" font-style="normal" fill="#d23238" text-anchor="start">C22:6</text>
<text transform="translate(571.00,375.65) scale(1.13,1)" font-size="11.2" font-weight="normal" font-style="normal" fill="#1a1a1a" text-anchor="start">C22:5</text>
<text transform="translate(571.00,386.16) scale(1.13,1)" font-size="11.2" font-weight="normal" font-style="normal" fill="#1a1a1a" text-anchor="start">C22:4</text>
<text transform="translate(571.00,396.68) scale(1.13,1)" font-size="11.2" font-weight="normal" font-style="normal" fill="#1a1a1a" text-anchor="start">C22</text>
<text transform="translate(571.00,407.19) scale(1.13,1)" font-size="11.2" font-weight="normal" font-style="normal" fill="#d23238" text-anchor="start">C24:1</text>
<text transform="translate(571.00,417.70) scale(1.13,1)" font-size="11.2" font-weight="normal" font-style="normal" fill="#d23238" text-anchor="start">C24</text>
<text transform="translate(569.80,15.60) scale(1.18,1)" font-size="10.9" font-weight="bold" font-style="normal" fill="#111" text-anchor="start">Group</text>
<text transform="translate(569.80,28.00) scale(1.18,1)" font-size="10.9" font-weight="bold" font-style="normal" fill="#111" text-anchor="start">Subgroup</text>
<defs><linearGradient id="ga" x1="0" y1="0" x2="0" y2="1"><stop offset="0" stop-color="#d63a3f"/><stop offset="0.5" stop-color="#fbfbfd"/><stop offset="1" stop-color="#4c7bbd"/></linearGradient><linearGradient id="gb" x1="0" y1="0" x2="0" y2="1"><stop offset="0" stop-color="#b8549a"/><stop offset="0.52" stop-color="#fdfcfd"/><stop offset="1" stop-color="#5a7ab5"/></linearGradient></defs>
<rect x="640.00" y="11.40" width="14.80" height="187.00" fill="url(#ga)" />
<text transform="translate(660.60,65.70) scale(1.12,1)" font-size="12.4" font-weight="normal" font-style="normal" fill="#1a1a1a" text-anchor="start">high</text>
<text transform="translate(660.60,153.40) scale(1.12,1)" font-size="12.4" font-weight="normal" font-style="normal" fill="#1a1a1a" text-anchor="start">low</text>
<text transform="translate(696.10,18.60)" font-size="10.0" font-weight="bold" font-style="normal" fill="#111" text-anchor="start" textLength="34.5" lengthAdjust="spacingAndGlyphs">Group</text>
<rect x="696.10" y="23.10" width="15.90" height="13.00" fill="#bd569c" />
<text transform="translate(716.30,33.70)" font-size="10.6" font-weight="normal" font-style="normal" fill="#1a1a1a" text-anchor="start" textLength="32.4" lengthAdjust="spacingAndGlyphs">Tumor</text>
<rect x="696.10" y="37.80" width="15.90" height="13.00" fill="#5079b6" />
<text transform="translate(716.30,48.40)" font-size="10.6" font-weight="normal" font-style="normal" fill="#1a1a1a" text-anchor="start" textLength="37.5" lengthAdjust="spacingAndGlyphs">Normal</text>
<text transform="translate(696.10,70.20)" font-size="10.0" font-weight="bold" font-style="normal" fill="#111" text-anchor="start" textLength="55.5" lengthAdjust="spacingAndGlyphs">Subgroup</text>
<rect x="696.10" y="74.80" width="15.90" height="13.00" fill="#3a4f9e" />
<text transform="translate(716.30,85.40)" font-size="10.6" font-weight="normal" font-style="normal" fill="#1a1a1a" text-anchor="start" textLength="15.5" lengthAdjust="spacingAndGlyphs">NC</text>
<rect x="696.10" y="89.40" width="15.90" height="13.00" fill="#5ea58c" />
<text transform="translate(716.30,100.00)" font-size="10.6" font-weight="normal" font-style="normal" fill="#1a1a1a" text-anchor="start" textLength="15.8" lengthAdjust="spacingAndGlyphs">NO</text>
<rect x="696.10" y="104.00" width="15.90" height="13.00" fill="#d27538" />
<text transform="translate(716.30,114.60)" font-size="10.6" font-weight="normal" font-style="normal" fill="#1a1a1a" text-anchor="start" textLength="19.0" lengthAdjust="spacingAndGlyphs">EIN</text>
<rect x="696.10" y="118.60" width="15.90" height="13.00" fill="#6a4797" />
<text transform="translate(716.30,129.20)" font-size="10.6" font-weight="normal" font-style="normal" fill="#1a1a1a" text-anchor="start" textLength="24.2" lengthAdjust="spacingAndGlyphs">ECC</text>
<rect x="696.10" y="133.20" width="15.90" height="13.00" fill="#d47aae" />
<text transform="translate(716.30,143.80)" font-size="10.6" font-weight="normal" font-style="normal" fill="#1a1a1a" text-anchor="start" textLength="24.8" lengthAdjust="spacingAndGlyphs">ECO</text>
<rect x="696.10" y="147.80" width="15.90" height="13.00" fill="#a8434a" />
<text transform="translate(716.30,158.40)" font-size="10.6" font-weight="normal" font-style="normal" fill="#1a1a1a" text-anchor="start" textLength="33.5" lengthAdjust="spacingAndGlyphs">ECOH</text>
<text transform="translate(696.10,180.60)" font-size="10.0" font-weight="bold" font-style="normal" fill="#111" text-anchor="start" textLength="85.7" lengthAdjust="spacingAndGlyphs">Metabolite type</text>
<rect x="696.10" y="184.80" width="15.90" height="13.00" fill="#58a0d6" />
<text transform="translate(716.30,195.40)" font-size="10.6" font-weight="normal" font-style="normal" fill="#1a1a1a" text-anchor="start" textLength="63.9" lengthAdjust="spacingAndGlyphs">Amino acids</text>
<rect x="696.10" y="199.90" width="15.90" height="13.00" fill="#a83a38" />
<text transform="translate(716.30,210.50)" font-size="10.6" font-weight="normal" font-style="normal" fill="#1a1a1a" text-anchor="start" textLength="56.2" lengthAdjust="spacingAndGlyphs">Fatty acids</text>
<text transform="translate(696.10,232.30)" font-size="10.0" font-weight="bold" font-style="normal" fill="#111" text-anchor="start" textLength="42.8" lengthAdjust="spacingAndGlyphs">Change</text>
<rect x="696.10" y="236.40" width="15.90" height="13.00" fill="#d9343f" />
<text transform="translate(716.30,247.00)" font-size="10.6" font-weight="normal" font-style="normal" fill="#1a1a1a" text-anchor="start" textLength="51.4" lengthAdjust="spacingAndGlyphs">Increased</text>
<rect x="696.10" y="251.50" width="15.90" height="13.00" fill="#4e7bc6" />
<text transform="translate(716.30,262.10)" font-size="10.6" font-weight="normal" font-style="normal" fill="#1a1a1a" text-anchor="start" textLength="56.8" lengthAdjust="spacingAndGlyphs">Decreased</text>
<rect x="696.10" y="266.00" width="15.90" height="13.00" fill="#a0a0a0" />
<text transform="translate(716.30,276.60)" font-size="10.6" font-weight="normal" font-style="normal" fill="#1a1a1a" text-anchor="start" textLength="17.6" lengthAdjust="spacingAndGlyphs">Not</text>
<text transform="translate(-0.30,469.20) scale(0.97,1)" font-size="21.0" font-weight="normal" font-style="normal" fill="#111" text-anchor="start">b</text>
<rect x="106.30" y="495.80" width="45.20" height="15.80" fill="#e0b8d4" />
<rect x="152.90" y="495.80" width="45.20" height="15.80" fill="#e0b8d4" />
<rect x="199.50" y="495.80" width="45.20" height="15.80" fill="#edeff6" />
<rect x="246.10" y="495.80" width="45.20" height="15.80" fill="#dfe3ef" />
<rect x="292.70" y="495.80" width="45.20" height="15.80" fill="#f6eef5" />
<rect x="339.30" y="495.80" width="45.20" height="15.80" fill="#f8f2f8" />
<rect x="385.90" y="495.80" width="45.20" height="15.80" fill="#f3e5ef" />
<rect x="432.50" y="495.80" width="45.20" height="15.80" fill="#fcfbfd" />
<rect x="106.30" y="512.89" width="45.20" height="15.80" fill="#ba5e9e" />
<rect x="152.90" y="512.89" width="45.20" height="15.80" fill="#edeff6" />
<rect x="199.50" y="512.89" width="45.20" height="15.80" fill="#b3c0da" />
<rect x="246.10" y="512.89" width="45.20" height="15.80" fill="#d0d8e8" />
<rect x="292.70" y="512.89" width="45.20" height="15.80" fill="#e9cee2" />
<rect x="339.30" y="512.89" width="45.20" height="15.80" fill="#c2cce1" />
<rect x="385.90" y="512.89" width="45.20" height="15.80" fill="#96a8cb" />
<rect x="432.50" y="512.89" width="45.20" height="15.80" fill="#d0d8e8" />
<rect x="106.30" y="529.98" width="45.20" height="15.80" fill="#5c79af" />
<rect x="152.90" y="529.98" width="45.20" height="15.80" fill="#fcfbfd" />
<rect x="199.50" y="529.98" width="45.20" height="15.80" fill="#e0b8d4" />
<rect x="246.10" y="529.98" width="45.20" height="15.80" fill="#d6a1c7" />
<rect x="292.70" y="529.98" width="45.20" height="15.80" fill="#e5c5dd" />
<rect x="339.30" y="529.98" width="45.20" height="15.80" fill="#fcfbfd" />
<rect x="385.90" y="529.98" width="45.20" height="15.80" fill="#e0b8d4" />
<rect x="432.50" y="529.98" width="45.20" height="15.80" fill="#e9cee2" />
<rect x="106.30" y="547.07" width="45.20" height="15.80" fill="#6b85b6" />
<rect x="152.90" y="547.07" width="45.20" height="15.80" fill="#d0d8e8" />
<rect x="199.50" y="547.07" width="45.20" height="15.80" fill="#e5c5dd" />
<rect x="246.10" y="547.07" width="45.20" height="15.80" fill="#e0b8d4" />
<rect x="292.70" y="547.07" width="45.20" height="15.80" fill="#f6eef5" />
<rect x="339.30" y="547.07" width="45.20" height="15.80" fill="#f3e5ef" />
<rect x="385.90" y="547.07" width="45.20" height="15.80" fill="#e5c5dd" />
<rect x="432.50" y="547.07" width="45.20" height="15.80" fill="#f3e5ef" />
<rect x="106.30" y="564.16" width="45.20" height="15.80" fill="#889cc4" />
<rect x="152.90" y="564.16" width="45.20" height="15.80" fill="#fcfbfd" />
<rect x="199.50" y="564.16" width="45.20" height="15.80" fill="#e0b8d4" />
<rect x="246.10" y="564.16" width="45.20" height="15.80" fill="#cd8bb9" />
<rect x="292.70" y="564.16" width="45.20" height="15.80" fill="#f6eef5" />
<rect x="339.30" y="564.16" width="45.20" height="15.80" fill="#f3e5ef" />
<rect x="385.90" y="564.16" width="45.20" height="15.80" fill="#e5c5dd" />
<rect x="432.50" y="564.16" width="45.20" height="15.80" fill="#f8f2f8" />
<rect x="106.30" y="581.25" width="45.20" height="15.80" fill="#889cc4" />
<rect x="152.90" y="581.25" width="45.20" height="15.80" fill="#c2cce1" />
<rect x="199.50" y="581.25" width="45.20" height="15.80" fill="#f3e5ef" />
<rect x="246.10" y="581.25" width="45.20" height="15.80" fill="#e5c5dd" />
<rect x="292.70" y="581.25" width="45.20" height="15.80" fill="#f6eef5" />
<rect x="339.30" y="581.25" width="45.20" height="15.80" fill="#d0d8e8" />
<rect x="385.90" y="581.25" width="45.20" height="15.80" fill="#edeff6" />
<rect x="432.50" y="581.25" width="45.20" height="15.80" fill="#d0d8e8" />
<rect x="106.30" y="598.34" width="45.20" height="15.80" fill="#889cc4" />
<rect x="152.90" y="598.34" width="45.20" height="15.80" fill="#f8f2f8" />
<rect x="199.50" y="598.34" width="45.20" height="15.80" fill="#e9cee2" />
<rect x="246.10" y="598.34" width="45.20" height="15.80" fill="#f3e5ef" />
<rect x="292.70" y="598.34" width="45.20" height="15.80" fill="#f3e5ef" />
<rect x="339.30" y="598.34" width="45.20" height="15.80" fill="#f6eef5" />
<rect x="385.90" y="598.34" width="45.20" height="15.80" fill="#fcfbfd" />
<rect x="432.50" y="598.34" width="45.20" height="15.80" fill="#dfe3ef" />
<rect x="106.30" y="615.43" width="45.20" height="15.80" fill="#a5b4d2" />
<rect x="152.90" y="615.43" width="45.20" height="15.80" fill="#e9cee2" />
<rect x="199.50" y="615.43" width="45.20" height="15.80" fill="#ba5e9e" />
<rect x="246.10" y="615.43" width="45.20" height="15.80" fill="#d6a1c7" />
<rect x="292.70" y="615.43" width="45.20" height="15.80" fill="#c374ac" />
<rect x="339.30" y="615.43" width="45.20" height="15.80" fill="#ba5e9e" />
<rect x="385.90" y="615.43" width="45.20" height="15.80" fill="#cd8bb9" />
<rect x="432.50" y="615.43" width="45.20" height="15.80" fill="#c06ba6" />
<rect x="106.30" y="632.52" width="45.20" height="15.80" fill="#a5b4d2" />
<rect x="152.90" y="632.52" width="45.20" height="15.80" fill="#e9cee2" />
<rect x="199.50" y="632.52" width="45.20" height="15.80" fill="#c374ac" />
<rect x="246.10" y="632.52" width="45.20" height="15.80" fill="#daaacc" />
<rect x="292.70" y="632.52" width="45.20" height="15.80" fill="#c77db1" />
<rect x="339.30" y="632.52" width="45.20" height="15.80" fill="#c77db1" />
<rect x="385.90" y="632.52" width="45.20" height="15.80" fill="#d6a1c7" />
<rect x="432.50" y="632.52" width="45.20" height="15.80" fill="#c77db1" />
<rect x="106.30" y="649.61" width="45.20" height="15.80" fill="#dfe3ef" />
<rect x="152.90" y="649.61" width="45.20" height="15.80" fill="#edd7e7" />
<rect x="199.50" y="649.61" width="45.20" height="15.80" fill="#c77db1" />
<rect x="246.10" y="649.61" width="45.20" height="15.80" fill="#e0b8d4" />
<rect x="292.70" y="649.61" width="45.20" height="15.80" fill="#c374ac" />
<rect x="339.30" y="649.61" width="45.20" height="15.80" fill="#c77db1" />
<rect x="385.90" y="649.61" width="45.20" height="15.80" fill="#e0b8d4" />
<rect x="432.50" y="649.61" width="45.20" height="15.80" fill="#daaacc" />
<rect x="106.30" y="666.70" width="45.20" height="15.80" fill="#fcfbfd" />
<rect x="152.90" y="666.70" width="45.20" height="15.80" fill="#d6a1c7" />
<rect x="199.50" y="666.70" width="45.20" height="15.80" fill="#c374ac" />
<rect x="246.10" y="666.70" width="45.20" height="15.80" fill="#cd8bb9" />
<rect x="292.70" y="666.70" width="45.20" height="15.80" fill="#c374ac" />
<rect x="339.30" y="666.70" width="45.20" height="15.80" fill="#cd8bb9" />
<rect x="385.90" y="666.70" width="45.20" height="15.80" fill="#cd8bb9" />
<rect x="432.50" y="666.70" width="45.20" height="15.80" fill="#cd8bb9" />
<rect x="106.30" y="683.79" width="45.20" height="15.80" fill="#fcfbfd" />
<rect x="152.90" y="683.79" width="45.20" height="15.80" fill="#e0b8d4" />
<rect x="199.50" y="683.79" width="45.20" height="15.80" fill="#c374ac" />
<rect x="246.10" y="683.79" width="45.20" height="15.80" fill="#d6a1c7" />
<rect x="292.70" y="683.79" width="45.20" height="15.80" fill="#f6eef5" />
<rect x="339.30" y="683.79" width="45.20" height="15.80" fill="#ba5e9e" />
<rect x="385.90" y="683.79" width="45.20" height="15.80" fill="#d298c2" />
<rect x="432.50" y="683.79" width="45.20" height="15.80" fill="#d6a1c7" />
<rect x="106.30" y="700.88" width="45.20" height="15.80" fill="#e9cee2" />
<rect x="152.90" y="700.88" width="45.20" height="15.80" fill="#e5c5dd" />
<rect x="199.50" y="700.88" width="45.20" height="15.80" fill="#c77db1" />
<rect x="246.10" y="700.88" width="45.20" height="15.80" fill="#e0b8d4" />
<rect x="292.70" y="700.88" width="45.20" height="15.80" fill="#f3e5ef" />
<rect x="339.30" y="700.88" width="45.20" height="15.80" fill="#ba5e9e" />
<rect x="385.90" y="700.88" width="45.20" height="15.80" fill="#cd8bb9" />
<rect x="432.50" y="700.88" width="45.20" height="15.80" fill="#d6a1c7" />
<rect x="106.30" y="717.97" width="45.20" height="15.80" fill="#edeff6" />
<rect x="152.90" y="717.97" width="45.20" height="15.80" fill="#fcfbfd" />
<rect x="199.50" y="717.97" width="45.20" height="15.80" fill="#e0b8d4" />
<rect x="246.10" y="717.97" width="45.20" height="15.80" fill="#f6eef5" />
<rect x="292.70" y="717.97" width="45.20" height="15.80" fill="#cd8bb9" />
<rect x="339.30" y="717.97" width="45.20" height="15.80" fill="#e0b8d4" />
<rect x="385.90" y="717.97" width="45.20" height="15.80" fill="#e9cee2" />
<rect x="432.50" y="717.97" width="45.20" height="15.80" fill="#d298c2" />
<rect x="106.30" y="735.06" width="45.20" height="15.80" fill="#edeff6" />
<rect x="152.90" y="735.06" width="45.20" height="15.80" fill="#fcfbfd" />
<rect x="199.50" y="735.06" width="45.20" height="15.80" fill="#e0b8d4" />
<rect x="246.10" y="735.06" width="45.20" height="15.80" fill="#c374ac" />
<rect x="292.70" y="735.06" width="45.20" height="15.80" fill="#d6a1c7" />
<rect x="339.30" y="735.06" width="45.20" height="15.80" fill="#f3e5ef" />
<rect x="385.90" y="735.06" width="45.20" height="15.80" fill="#e9cee2" />
<rect x="432.50" y="735.06" width="45.20" height="15.80" fill="#e5c5dd" />
<text transform="translate(125.80,525.09) scale(1,0.85)" font-size="14.5" fill="#111" text-anchor="middle">*</text>
<text transform="translate(132.00,525.09) scale(1,0.85)" font-size="14.5" fill="#111" text-anchor="middle">*</text>
<text transform="translate(125.80,542.18) scale(1,0.85)" font-size="14.5" fill="#111" text-anchor="middle">*</text>
<text transform="translate(132.00,542.18) scale(1,0.85)" font-size="14.5" fill="#111" text-anchor="middle">*</text>
<text transform="translate(125.80,559.27) scale(1,0.85)" font-size="14.5" fill="#111" text-anchor="middle">*</text>
<text transform="translate(132.00,559.27) scale(1,0.85)" font-size="14.5" fill="#111" text-anchor="middle">*</text>
<text transform="translate(128.90,576.36) scale(1,0.85)" font-size="14.5" fill="#111" text-anchor="middle">*</text>
<text transform="translate(128.90,593.45) scale(1,0.85)" font-size="14.5" fill="#111" text-anchor="middle">*</text>
<text transform="translate(128.90,610.54) scale(1,0.85)" font-size="14.5" fill="#111" text-anchor="middle">*</text>
<text transform="translate(408.50,525.09) scale(1,0.85)" font-size="14.5" fill="#111" text-anchor="middle">*</text>
<text transform="translate(219.00,627.63) scale(1,0.85)" font-size="14.5" fill="#111" text-anchor="middle">*</text>
<text transform="translate(225.20,627.63) scale(1,0.85)" font-size="14.5" fill="#111" text-anchor="middle">*</text>
<text transform="translate(361.90,627.63) scale(1,0.85)" font-size="14.5" fill="#111" text-anchor="middle">*</text>
<text transform="translate(455.10,627.63) scale(1,0.85)" font-size="14.5" fill="#111" text-anchor="middle">*</text>
<text transform="translate(222.10,644.72) scale(1,0.85)" font-size="14.5" fill="#111" text-anchor="middle">*</text>
<text transform="translate(222.10,661.81) scale(1,0.85)" font-size="14.5" fill="#111" text-anchor="middle">*</text>
<text transform="translate(222.10,678.90) scale(1,0.85)" font-size="14.5" fill="#111" text-anchor="middle">*</text>
<text transform="translate(222.10,695.99) scale(1,0.85)" font-size="14.5" fill="#111" text-anchor="middle">*</text>
<text transform="translate(222.10,713.08) scale(1,0.85)" font-size="14.5" fill="#111" text-anchor="middle">*</text>
<text transform="translate(361.90,695.99) scale(1,0.85)" font-size="14.5" fill="#111" text-anchor="middle">*</text>
<text transform="translate(361.90,713.08) scale(1,0.85)" font-size="14.5" fill="#111" text-anchor="middle">*</text>
<path d="M128.9 495.8V430.3H238.1V463.9 M175.5 495.8V463.9H300.7V473.4 M245.5 479.3V473.4H356.1V474.9 M222.1 495.8V479.3H268.7V495.8 M315.3 495.8V474.9H396.6V484.2 M361.9 495.8V484.2H431.6V486.0 M408.5 495.8V486.0H455.1V495.8 M105.3 503.7H73.2V520.8H105.3 M105.3 555.0H95.3V572.1H105.3 M105.3 537.9H90.6V563.5H95.3 M105.3 589.1H88.0V606.2H105.3 M90.6 550.7H77.6V597.7H88.0 M105.3 623.3H95.8V640.4H105.3 M105.3 657.5H91.9V674.6H105.3 M95.8 631.9H88.5V666.1H91.9 M105.3 691.7H95.3V708.8H105.3 M105.3 725.9H86.0V743.0H105.3 M95.3 700.2H77.6V734.4H86.0 M88.5 649.0H74.2V717.3H77.6 M77.6 574.2H47.7V683.1H74.2 M73.2 512.2H20.4V628.7H47.7" stroke="#1c1c1c" stroke-width="1.3" fill="none"/>
<text transform="translate(483.80,506.40)" font-size="11.0" font-weight="normal" font-style="italic" fill="#1a1a1a" text-anchor="start" textLength="102.4" lengthAdjust="spacingAndGlyphs">Escherichia_coli</text>
<text transform="translate(483.80,523.49)" font-size="11.0" font-weight="normal" font-style="italic" fill="#1a1a1a" text-anchor="start" textLength="188.6" lengthAdjust="spacingAndGlyphs">Alistipes_sp_Marseille−P2431</text>
<text transform="translate(483.80,540.58)" font-size="11.0" font-weight="normal" font-style="italic" fill="#1a1a1a" text-anchor="start" textLength="159.8" lengthAdjust="spacingAndGlyphs">Akkermansia_muciniphila</text>
<text transform="translate(483.80,557.67)" font-size="11.0" font-weight="normal" font-style="italic" fill="#1a1a1a" text-anchor="start" textLength="127.0" lengthAdjust="spacingAndGlyphs">Bacteroides_caccae</text>
<text transform="translate(483.80,574.76)" font-size="11.0" font-weight="normal" font-style="italic" fill="#1a1a1a" text-anchor="start" textLength="158.1" lengthAdjust="spacingAndGlyphs">Parabacteroides_merdae</text>
<text transform="translate(483.80,591.85)" font-size="11.0" font-weight="normal" font-style="italic" fill="#1a1a1a" text-anchor="start" textLength="234.1" lengthAdjust="spacingAndGlyphs">Lachnospiraceae_bacterium_GAM79</text>
<text transform="translate(483.80,608.94)" font-size="11.0" font-weight="normal" font-style="italic" fill="#1a1a1a" text-anchor="start" textLength="169.0" lengthAdjust="spacingAndGlyphs">Clostridium_chartatabidum</text>
<text transform="translate(483.80,626.03)" font-size="11.0" font-weight="normal" font-style="italic" fill="#1a1a1a" text-anchor="start" textLength="210.5" lengthAdjust="spacingAndGlyphs">Ruminococcus_sp_N15.MGS−57</text>
<text transform="translate(483.80,643.12)" font-size="11.0" font-weight="normal" font-style="italic" fill="#1a1a1a" text-anchor="start" textLength="135.2" lengthAdjust="spacingAndGlyphs">Anaerostipes_caccae</text>
<text transform="translate(483.80,660.21)" font-size="11.0" font-weight="normal" font-style="italic" fill="#1a1a1a" text-anchor="start" textLength="187.6" lengthAdjust="spacingAndGlyphs">Dialister_sp_Marseille−P5638</text>
<text transform="translate(483.80,677.30)" font-size="11.0" font-weight="normal" font-style="italic" fill="#1a1a1a" text-anchor="start" textLength="159.8" lengthAdjust="spacingAndGlyphs">Prevotella_sp_DJF_LS16</text>
<text transform="translate(483.80,694.39)" font-size="11.0" font-weight="normal" font-style="italic" fill="#1a1a1a" text-anchor="start" textLength="143.4" lengthAdjust="spacingAndGlyphs">Rhodobacter_blasticus</text>
<text transform="translate(483.80,711.48)" font-size="11.0" font-weight="normal" font-style="italic" fill="#1a1a1a" text-anchor="start" textLength="140.8" lengthAdjust="spacingAndGlyphs">Lactococcus_garvieae</text>
<text transform="translate(483.80,728.57)" font-size="11.0" font-weight="normal" font-style="italic" fill="#1a1a1a" text-anchor="start" textLength="123.8" lengthAdjust="spacingAndGlyphs">Coprococcus_catus</text>
<text transform="translate(483.80,745.66)" font-size="11.0" font-weight="normal" font-style="italic" fill="#1a1a1a" text-anchor="start" textLength="179.4" lengthAdjust="spacingAndGlyphs">Faecalicoccus_pleomorphus</text>
<text transform="translate(125.50,755.00) rotate(90)" font-size="14.0" font-weight="normal" font-style="normal" fill="#1a1a1a" text-anchor="start" textLength="16.5" lengthAdjust="spacingAndGlyphs">Thr</text>
<text transform="translate(172.10,755.00) rotate(90)" font-size="14.0" font-weight="normal" font-style="normal" fill="#1a1a1a" text-anchor="start" textLength="19.2" lengthAdjust="spacingAndGlyphs">C24</text>
<text transform="translate(218.70,755.00) rotate(90)" font-size="14.0" font-weight="normal" font-style="normal" fill="#1a1a1a" text-anchor="start" textLength="29.0" lengthAdjust="spacingAndGlyphs">C20:2</text>
<text transform="translate(265.30,755.00) rotate(90)" font-size="14.0" font-weight="normal" font-style="normal" fill="#1a1a1a" text-anchor="start" textLength="29.0" lengthAdjust="spacingAndGlyphs">C22:6</text>
<text transform="translate(311.90,755.00) rotate(90)" font-size="14.0" font-weight="normal" font-style="normal" fill="#1a1a1a" text-anchor="start" textLength="28.2" lengthAdjust="spacingAndGlyphs">C24:1</text>
<text transform="translate(358.50,755.00) rotate(90)" font-size="14.0" font-weight="normal" font-style="normal" fill="#1a1a1a" text-anchor="start" textLength="28.2" lengthAdjust="spacingAndGlyphs">C16:1</text>
<text transform="translate(405.10,755.00) rotate(90)" font-size="14.0" font-weight="normal" font-style="normal" fill="#1a1a1a" text-anchor="start" textLength="28.2" lengthAdjust="spacingAndGlyphs">C18:1</text>
<text transform="translate(451.70,755.00) rotate(90)" font-size="14.0" font-weight="normal" font-style="normal" fill="#1a1a1a" text-anchor="start" textLength="28.2" lengthAdjust="spacingAndGlyphs">C20:1</text>
<rect x="738.10" y="500.50" width="16.30" height="184.90" fill="url(#gb)" />
<text transform="translate(761.40,511.30) scale(1.26,1)" font-size="12.4" font-weight="normal" font-style="normal" fill="#1a1a1a" text-anchor="start">0.4</text>
<text transform="translate(761.40,546.46) scale(1.26,1)" font-size="12.4" font-weight="normal" font-style="normal" fill="#1a1a1a" text-anchor="start">0.2</text>
<text transform="translate(761.40,581.62) scale(1.26,1)" font-size="12.4" font-weight="normal" font-style="normal" fill="#1a1a1a" text-anchor="start">0</text>
<text transform="translate(761.40,616.78) scale(1.26,1)" font-size="12.4" font-weight="normal" font-style="normal" fill="#1a1a1a" text-anchor="start">−0.2</text>
<text transform="translate(761.40,651.94) scale(1.26,1)" font-size="12.4" font-weight="normal" font-style="normal" fill="#1a1a1a" text-anchor="start">−0.4</text>
<text transform="translate(761.40,687.10) scale(1.26,1)" font-size="12.4" font-weight="normal" font-style="normal" fill="#1a1a1a" text-anchor="start">−0.6</text>
<text transform="translate(0.30,809.90) scale(1.05,1)" font-size="21.0" font-weight="normal" font-style="normal" fill="#111" text-anchor="start">c</text>
<text transform="translate(27.20,830.00)" font-size="14.2" font-weight="bold" font-style="italic" fill="#111" text-anchor="start" textLength="223.7" lengthAdjust="spacingAndGlyphs">Ruminococcus_sp_N15.MGS−57</text>
<path d="M44.6 842.7V1020.5H234.6" stroke="#111" stroke-width="2.4" fill="none" stroke-linecap="square"/>
<path d="M40.1 1020.5H44.6 M40.1 961.2H44.6 M40.1 902.0H44.6 M40.1 842.7H44.6 M63.2 1020.5V1025.0 M93.7 1020.5V1025.0 M124.4 1020.5V1025.0 M155.4 1020.5V1025.0 M186.1 1020.5V1025.0 M217.1 1020.5V1025.0" stroke="#111" stroke-width="1.6" fill="none"/>
<circle cx="63.2" cy="878.3" r="2.9" fill="#364b8d" stroke="#1e1e1e" stroke-width="1.1"/>
<circle cx="74.7" cy="878.3" r="2.9" fill="#364b8d" stroke="#1e1e1e" stroke-width="1.1"/>
<circle cx="74.7" cy="931.6" r="2.9" fill="#364b8d" stroke="#1e1e1e" stroke-width="1.1"/>
<circle cx="63.2" cy="1020.5" r="2.9" fill="#364b8d" stroke="#1e1e1e" stroke-width="1.1"/>
<circle cx="63.2" cy="919.7" r="2.9" fill="#364b8d" stroke="#1e1e1e" stroke-width="1.1"/>
<circle cx="63.2" cy="951.2" r="2.9" fill="#364b8d" stroke="#1e1e1e" stroke-width="1.1"/>
<circle cx="85.2" cy="882.4" r="2.9" fill="#5a987f" stroke="#1e1e1e" stroke-width="1.1"/>
<circle cx="103.7" cy="884.2" r="2.9" fill="#5a987f" stroke="#1e1e1e" stroke-width="1.1"/>
<circle cx="103.7" cy="896.0" r="2.9" fill="#5a987f" stroke="#1e1e1e" stroke-width="1.1"/>
<circle cx="93.7" cy="902.0" r="2.9" fill="#5a987f" stroke="#1e1e1e" stroke-width="1.1"/>
<circle cx="93.7" cy="887.1" r="2.9" fill="#5a987f" stroke="#1e1e1e" stroke-width="1.1"/>
<circle cx="134.4" cy="872.3" r="2.9" fill="#bc6a33" stroke="#1e1e1e" stroke-width="1.1"/>
<circle cx="134.4" cy="906.1" r="2.9" fill="#bc6a33" stroke="#1e1e1e" stroke-width="1.1"/>
<circle cx="124.4" cy="893.1" r="2.9" fill="#bc6a33" stroke="#1e1e1e" stroke-width="1.1"/>
<circle cx="127.4" cy="864.6" r="2.9" fill="#bc6a33" stroke="#1e1e1e" stroke-width="1.1"/>
<circle cx="124.4" cy="907.9" r="2.9" fill="#bc6a33" stroke="#1e1e1e" stroke-width="1.1"/>
<circle cx="166.4" cy="860.5" r="2.9" fill="#5d3f86" stroke="#1e1e1e" stroke-width="1.1"/>
<circle cx="146.4" cy="875.3" r="2.9" fill="#5d3f86" stroke="#1e1e1e" stroke-width="1.1"/>
<circle cx="166.4" cy="879.4" r="2.9" fill="#5d3f86" stroke="#1e1e1e" stroke-width="1.1"/>
<circle cx="155.4" cy="893.1" r="2.9" fill="#5d3f86" stroke="#1e1e1e" stroke-width="1.1"/>
<circle cx="177.1" cy="863.4" r="2.9" fill="#b46796" stroke="#1e1e1e" stroke-width="1.1"/>
<circle cx="196.1" cy="864.6" r="2.9" fill="#b46796" stroke="#1e1e1e" stroke-width="1.1"/>
<circle cx="196.1" cy="899.0" r="2.9" fill="#b46796" stroke="#1e1e1e" stroke-width="1.1"/>
<circle cx="186.1" cy="904.9" r="2.9" fill="#b46796" stroke="#1e1e1e" stroke-width="1.1"/>
<circle cx="227.1" cy="867.6" r="2.9" fill="#943b41" stroke="#1e1e1e" stroke-width="1.1"/>
<circle cx="227.1" cy="896.0" r="2.9" fill="#943b41" stroke="#1e1e1e" stroke-width="1.1"/>
<circle cx="217.1" cy="886.0" r="2.9" fill="#943b41" stroke="#1e1e1e" stroke-width="1.1"/>
<circle cx="217.1" cy="896.0" r="2.9" fill="#943b41" stroke="#1e1e1e" stroke-width="1.1"/>
<circle cx="217.1" cy="916.8" r="2.9" fill="#943b41" stroke="#1e1e1e" stroke-width="1.1"/>
<path d="M63.2 919.7V952.3" stroke="#3d55a0" stroke-width="3.6" fill="none"/>
<path d="M57.3 919.7H69.1 M57.3 952.3H69.1" stroke="#3d55a0" stroke-width="3.8" fill="none"/>
<rect x="56.0" y="923.9" width="14.4" height="22.5" fill="none" stroke="#3d55a0" stroke-width="2.0"/>
<path d="M56.0 931.6H70.4" stroke="#3d55a0" stroke-width="3.2"/>
<path d="M93.7 878.3V902.0" stroke="#66ad90" stroke-width="3.6" fill="none"/>
<path d="M87.8 878.3H99.6 M87.8 902.0H99.6" stroke="#66ad90" stroke-width="3.8" fill="none"/>
<rect x="86.5" y="882.4" width="14.4" height="13.6" fill="none" stroke="#66ad90" stroke-width="2.0"/>
<path d="M86.5 887.1H100.9" stroke="#66ad90" stroke-width="3.2"/>
<path d="M124.4 866.4V907.9" stroke="#d6783a" stroke-width="3.6" fill="none"/>
<path d="M118.5 866.4H130.3 M118.5 907.9H130.3" stroke="#d6783a" stroke-width="3.8" fill="none"/>
<rect x="117.2" y="872.3" width="14.4" height="29.6" fill="none" stroke="#d6783a" stroke-width="2.0"/>
<path d="M117.2 884.2H131.6" stroke="#d6783a" stroke-width="3.2"/>
<path d="M155.4 860.5V893.1" stroke="#6a4898" stroke-width="3.6" fill="none"/>
<path d="M149.5 860.5H161.3 M149.5 893.1H161.3" stroke="#6a4898" stroke-width="3.8" fill="none"/>
<rect x="148.2" y="866.4" width="14.4" height="14.8" fill="none" stroke="#6a4898" stroke-width="2.0"/>
<path d="M148.2 878.3H162.6" stroke="#6a4898" stroke-width="3.2"/>
<path d="M186.1 860.5V904.9" stroke="#cd75ab" stroke-width="3.6" fill="none"/>
<path d="M180.2 860.5H192.0 M180.2 904.9H192.0" stroke="#cd75ab" stroke-width="3.8" fill="none"/>
<rect x="178.9" y="863.4" width="14.4" height="29.6" fill="none" stroke="#cd75ab" stroke-width="2.0"/>
<path d="M178.9 866.4H193.3" stroke="#cd75ab" stroke-width="3.2"/>
<path d="M217.1 867.6V916.8" stroke="#a8434a" stroke-width="3.6" fill="none"/>
<path d="M211.2 867.6H223.0 M211.2 916.8H223.0" stroke="#a8434a" stroke-width="3.8" fill="none"/>
<rect x="209.9" y="876.5" width="14.4" height="22.5" fill="none" stroke="#a8434a" stroke-width="2.0"/>
<path d="M209.9 890.1H224.3" stroke="#a8434a" stroke-width="3.2"/>
<text transform="translate(35.20,1024.20)" font-size="10.3" font-weight="normal" font-style="normal" fill="#333" text-anchor="end">0</text>
<text transform="translate(35.20,964.93)" font-size="10.3" font-weight="normal" font-style="normal" fill="#333" text-anchor="end">1</text>
<text transform="translate(35.20,905.66)" font-size="10.3" font-weight="normal" font-style="normal" fill="#333" text-anchor="end">2</text>
<text transform="translate(35.20,846.39)" font-size="10.3" font-weight="normal" font-style="normal" fill="#333" text-anchor="end">3</text>
<text transform="translate(18.80,982.50) rotate(-90)" font-size="16.3" font-weight="normal" font-style="normal" fill="#111" text-anchor="start" textLength="114.4" lengthAdjust="spacingAndGlyphs">Aboundance(lg)</text>
<text transform="translate(52.00,1037.20)" font-size="12.6" font-weight="normal" font-style="normal" fill="#111" text-anchor="start" textLength="17.700000000000003" lengthAdjust="spacingAndGlyphs">NC</text>
<text transform="translate(81.70,1037.20)" font-size="12.6" font-weight="normal" font-style="normal" fill="#111" text-anchor="start" textLength="18.800000000000004" lengthAdjust="spacingAndGlyphs">NO</text>
<text transform="translate(112.40,1037.20)" font-size="12.6" font-weight="normal" font-style="normal" fill="#111" text-anchor="start" textLength="20.29999999999999" lengthAdjust="spacingAndGlyphs">EIN</text>
<text transform="translate(140.20,1037.20)" font-size="12.6" font-weight="normal" font-style="normal" fill="#111" text-anchor="start" textLength="26.99999999999998" lengthAdjust="spacingAndGlyphs">ECC</text>
<text transform="translate(170.40,1037.20)" font-size="12.6" font-weight="normal" font-style="normal" fill="#111" text-anchor="start" textLength="27.000000000000007" lengthAdjust="spacingAndGlyphs">ECO</text>
<text transform="translate(200.60,1037.20)" font-size="12.6" font-weight="normal" font-style="normal" fill="#111" text-anchor="start" textLength="35.90000000000001" lengthAdjust="spacingAndGlyphs">ECOH</text>
<text transform="translate(276.90,813.40) scale(0.97,1)" font-size="21.5" font-weight="normal" font-style="normal" fill="#111" text-anchor="start">d</text>
<text transform="translate(397.50,830.20)" font-size="14.2" font-weight="bold" font-style="normal" fill="#111" text-anchor="start" textLength="39.1" lengthAdjust="spacingAndGlyphs">C20:2</text>
<path d="M317.5 842.7V1020.5H506.3" stroke="#111" stroke-width="2.4" fill="none" stroke-linecap="square"/>
<path d="M313.0 1020.5H317.5 M313.0 984.9H317.5 M313.0 949.4H317.5 M313.0 913.8H317.5 M313.0 878.3H317.5 M313.0 842.7H317.5 M335.2 1020.5V1025.0 M365.4 1020.5V1025.0 M395.6 1020.5V1025.0 M426.4 1020.5V1025.0 M456.6 1020.5V1025.0 M486.8 1020.5V1025.0" stroke="#111" stroke-width="1.6" fill="none"/>
<circle cx="326.2" cy="945.1" r="2.9" fill="#364b8d" stroke="#1e1e1e" stroke-width="1.1"/>
<circle cx="348.2" cy="946.5" r="2.9" fill="#364b8d" stroke="#1e1e1e" stroke-width="1.1"/>
<circle cx="337.2" cy="962.2" r="2.9" fill="#364b8d" stroke="#1e1e1e" stroke-width="1.1"/>
<circle cx="348.2" cy="976.8" r="2.9" fill="#364b8d" stroke="#1e1e1e" stroke-width="1.1"/>
<circle cx="335.2" cy="978.9" r="2.9" fill="#364b8d" stroke="#1e1e1e" stroke-width="1.1"/>
<circle cx="374.4" cy="934.4" r="2.9" fill="#5a987f" stroke="#1e1e1e" stroke-width="1.1"/>
<circle cx="359.4" cy="950.4" r="2.9" fill="#5a987f" stroke="#1e1e1e" stroke-width="1.1"/>
<circle cx="375.4" cy="957.6" r="2.9" fill="#5a987f" stroke="#1e1e1e" stroke-width="1.1"/>
<circle cx="365.4" cy="939.1" r="2.9" fill="#5a987f" stroke="#1e1e1e" stroke-width="1.1"/>
<circle cx="365.4" cy="961.5" r="2.9" fill="#5a987f" stroke="#1e1e1e" stroke-width="1.1"/>
<circle cx="395.6" cy="906.7" r="2.9" fill="#bc6a33" stroke="#1e1e1e" stroke-width="1.1"/>
<circle cx="395.6" cy="926.3" r="2.9" fill="#bc6a33" stroke="#1e1e1e" stroke-width="1.1"/>
<circle cx="395.6" cy="939.4" r="2.9" fill="#bc6a33" stroke="#1e1e1e" stroke-width="1.1"/>
<circle cx="405.6" cy="956.1" r="2.9" fill="#bc6a33" stroke="#1e1e1e" stroke-width="1.1"/>
<circle cx="395.6" cy="960.0" r="2.9" fill="#bc6a33" stroke="#1e1e1e" stroke-width="1.1"/>
<circle cx="395.6" cy="870.1" r="2.9" fill="#bc6a33" stroke="#1e1e1e" stroke-width="1.1"/>
<circle cx="426.4" cy="876.5" r="2.9" fill="#5d3f86" stroke="#1e1e1e" stroke-width="1.1"/>
<circle cx="426.4" cy="892.5" r="2.9" fill="#5d3f86" stroke="#1e1e1e" stroke-width="1.1"/>
<circle cx="426.4" cy="918.4" r="2.9" fill="#5d3f86" stroke="#1e1e1e" stroke-width="1.1"/>
<circle cx="436.4" cy="916.0" r="2.9" fill="#5d3f86" stroke="#1e1e1e" stroke-width="1.1"/>
<circle cx="426.4" cy="858.3" r="2.9" fill="#5d3f86" stroke="#1e1e1e" stroke-width="1.1"/>
<circle cx="426.4" cy="938.0" r="2.9" fill="#5d3f86" stroke="#1e1e1e" stroke-width="1.1"/>
<circle cx="456.6" cy="879.7" r="2.9" fill="#b46796" stroke="#1e1e1e" stroke-width="1.1"/>
<circle cx="456.6" cy="891.1" r="2.9" fill="#b46796" stroke="#1e1e1e" stroke-width="1.1"/>
<circle cx="456.6" cy="915.6" r="2.9" fill="#b46796" stroke="#1e1e1e" stroke-width="1.1"/>
<circle cx="456.6" cy="927.7" r="2.9" fill="#b46796" stroke="#1e1e1e" stroke-width="1.1"/>
<circle cx="494.8" cy="899.2" r="2.9" fill="#943b41" stroke="#1e1e1e" stroke-width="1.1"/>
<circle cx="486.8" cy="888.9" r="2.9" fill="#943b41" stroke="#1e1e1e" stroke-width="1.1"/>
<circle cx="486.8" cy="906.7" r="2.9" fill="#943b41" stroke="#1e1e1e" stroke-width="1.1"/>
<circle cx="486.8" cy="918.8" r="2.9" fill="#943b41" stroke="#1e1e1e" stroke-width="1.1"/>
<circle cx="486.8" cy="964.0" r="2.9" fill="#943b41" stroke="#1e1e1e" stroke-width="1.1"/>
<path d="M335.2 945.1V978.9" stroke="#3d55a0" stroke-width="3.6" fill="none"/>
<path d="M329.3 945.1H341.1 M329.3 978.9H341.1" stroke="#3d55a0" stroke-width="3.8" fill="none"/>
<rect x="328.0" y="946.5" width="14.4" height="27.0" fill="none" stroke="#3d55a0" stroke-width="2.0"/>
<path d="M328.0 953.3H342.4" stroke="#3d55a0" stroke-width="3.2"/>
<path d="M365.4 922.0V961.5" stroke="#66ad90" stroke-width="3.6" fill="none"/>
<path d="M359.5 922.0H371.3 M359.5 961.5H371.3" stroke="#66ad90" stroke-width="3.8" fill="none"/>
<rect x="358.2" y="936.2" width="14.4" height="20.3" fill="none" stroke="#66ad90" stroke-width="2.0"/>
<path d="M358.2 946.5H372.6" stroke="#66ad90" stroke-width="3.2"/>
<path d="M395.6 870.1V960.0" stroke="#d6783a" stroke-width="3.6" fill="none"/>
<path d="M389.7 870.1H401.5 M389.7 960.0H401.5" stroke="#d6783a" stroke-width="3.8" fill="none"/>
<rect x="388.4" y="911.0" width="14.4" height="40.9" fill="none" stroke="#d6783a" stroke-width="2.0"/>
<path d="M388.4 931.6H402.8" stroke="#d6783a" stroke-width="3.2"/>
<path d="M426.4 858.3V938.0" stroke="#6a4898" stroke-width="3.6" fill="none"/>
<path d="M420.5 858.3H432.3 M420.5 938.0H432.3" stroke="#6a4898" stroke-width="3.8" fill="none"/>
<rect x="419.2" y="881.1" width="14.4" height="37.3" fill="none" stroke="#6a4898" stroke-width="2.0"/>
<path d="M419.2 903.9H433.6" stroke="#6a4898" stroke-width="3.2"/>
<path d="M456.6 868.3V959.7" stroke="#cd75ab" stroke-width="3.6" fill="none"/>
<path d="M450.7 868.3H462.5 M450.7 959.7H462.5" stroke="#cd75ab" stroke-width="3.8" fill="none"/>
<rect x="449.4" y="882.5" width="14.4" height="42.7" fill="none" stroke="#cd75ab" stroke-width="2.0"/>
<path d="M449.4 903.9H463.8" stroke="#cd75ab" stroke-width="3.2"/>
<path d="M486.8 870.4V918.8" stroke="#a8434a" stroke-width="3.6" fill="none"/>
<path d="M480.9 870.4H492.7 M480.9 918.8H492.7" stroke="#a8434a" stroke-width="3.8" fill="none"/>
<rect x="479.6" y="891.4" width="14.4" height="22.8" fill="none" stroke="#a8434a" stroke-width="2.0"/>
<path d="M479.6 902.4H494.0" stroke="#a8434a" stroke-width="3.2"/>
<text transform="translate(308.30,1024.20)" font-size="10.3" font-weight="normal" font-style="normal" fill="#333" text-anchor="end">0</text>
<text transform="translate(308.30,988.64)" font-size="10.3" font-weight="normal" font-style="normal" fill="#333" text-anchor="end">10</text>
<text transform="translate(308.30,953.08)" font-size="10.3" font-weight="normal" font-style="normal" fill="#333" text-anchor="end">20</text>
<text transform="translate(308.30,917.52)" font-size="10.3" font-weight="normal" font-style="normal" fill="#333" text-anchor="end">30</text>
<text transform="translate(308.30,881.96)" font-size="10.3" font-weight="normal" font-style="normal" fill="#333" text-anchor="end">40</text>
<text transform="translate(308.30,846.40)" font-size="10.3" font-weight="normal" font-style="normal" fill="#333" text-anchor="end">50</text>
<text transform="translate(288.00,958.80) rotate(-90)" font-size="17.0" font-weight="normal" font-style="normal" fill="#111" text-anchor="start" textLength="61.5" lengthAdjust="spacingAndGlyphs">nmol/mL</text>
<text transform="translate(324.00,1037.20)" font-size="12.6" font-weight="normal" font-style="normal" fill="#111" text-anchor="start" textLength="18.199999999999967" lengthAdjust="spacingAndGlyphs">NC</text>
<text transform="translate(354.20,1037.20)" font-size="12.6" font-weight="normal" font-style="normal" fill="#111" text-anchor="start" textLength="18.79999999999999" lengthAdjust="spacingAndGlyphs">NO</text>
<text transform="translate(383.70,1037.20)" font-size="12.6" font-weight="normal" font-style="normal" fill="#111" text-anchor="start" textLength="19.99999999999998" lengthAdjust="spacingAndGlyphs">EIN</text>
<text transform="translate(411.40,1037.20)" font-size="12.6" font-weight="normal" font-style="normal" fill="#111" text-anchor="start" textLength="25.79999999999999" lengthAdjust="spacingAndGlyphs">ECC</text>
<text transform="translate(441.60,1037.20)" font-size="12.6" font-weight="normal" font-style="normal" fill="#111" text-anchor="start" textLength="27.1" lengthAdjust="spacingAndGlyphs">ECO</text>
<text transform="translate(470.60,1037.20)" font-size="12.6" font-weight="normal" font-style="normal" fill="#111" text-anchor="start" textLength="35.90000000000001" lengthAdjust="spacingAndGlyphs">ECOH</text>
<text transform="translate(545.00,813.20)" font-size="21.5" font-weight="normal" font-style="normal" fill="#111" text-anchor="start">e</text>
<text transform="translate(669.60,827.90)" font-size="13.8" font-weight="bold" font-style="normal" fill="#111" text-anchor="start" textLength="37.7" lengthAdjust="spacingAndGlyphs">C16:1</text>
<path d="M593.1 839.6V1017.1H775.1" stroke="#111" stroke-width="2.4" fill="none" stroke-linecap="square"/>
<path d="M588.6 1017.1H593.1 M588.6 984.7H593.1 M588.6 952.2H593.1 M588.6 919.8H593.1 M588.6 887.3H593.1 M588.6 854.9H593.1 M610.7 1017.1V1021.6 M639.7 1017.1V1021.6 M668.9 1017.1V1021.6 M698.4 1017.1V1021.6 M727.8 1017.1V1021.6 M757.0 1017.1V1021.6" stroke="#111" stroke-width="1.6" fill="none"/>
<circle cx="616.7" cy="948.3" r="2.9" fill="#364b8d" stroke="#1e1e1e" stroke-width="1.1"/>
<circle cx="610.7" cy="956.4" r="2.9" fill="#364b8d" stroke="#1e1e1e" stroke-width="1.1"/>
<circle cx="621.2" cy="971.7" r="2.9" fill="#364b8d" stroke="#1e1e1e" stroke-width="1.1"/>
<circle cx="616.7" cy="993.1" r="2.9" fill="#364b8d" stroke="#1e1e1e" stroke-width="1.1"/>
<circle cx="610.7" cy="1000.9" r="2.9" fill="#364b8d" stroke="#1e1e1e" stroke-width="1.1"/>
<circle cx="643.7" cy="936.3" r="2.9" fill="#5a987f" stroke="#1e1e1e" stroke-width="1.1"/>
<circle cx="639.7" cy="946.7" r="2.9" fill="#5a987f" stroke="#1e1e1e" stroke-width="1.1"/>
<circle cx="649.7" cy="969.1" r="2.9" fill="#5a987f" stroke="#1e1e1e" stroke-width="1.1"/>
<circle cx="639.7" cy="960.3" r="2.9" fill="#5a987f" stroke="#1e1e1e" stroke-width="1.1"/>
<circle cx="639.7" cy="988.2" r="2.9" fill="#5a987f" stroke="#1e1e1e" stroke-width="1.1"/>
<circle cx="668.9" cy="921.7" r="2.9" fill="#bc6a33" stroke="#1e1e1e" stroke-width="1.1"/>
<circle cx="660.9" cy="946.1" r="2.9" fill="#bc6a33" stroke="#1e1e1e" stroke-width="1.1"/>
<circle cx="678.9" cy="949.0" r="2.9" fill="#bc6a33" stroke="#1e1e1e" stroke-width="1.1"/>
<circle cx="668.9" cy="965.2" r="2.9" fill="#bc6a33" stroke="#1e1e1e" stroke-width="1.1"/>
<circle cx="668.9" cy="982.1" r="2.9" fill="#bc6a33" stroke="#1e1e1e" stroke-width="1.1"/>
<circle cx="698.4" cy="880.2" r="2.9" fill="#5d3f86" stroke="#1e1e1e" stroke-width="1.1"/>
<circle cx="698.4" cy="907.8" r="2.9" fill="#5d3f86" stroke="#1e1e1e" stroke-width="1.1"/>
<circle cx="696.4" cy="952.9" r="2.9" fill="#5d3f86" stroke="#1e1e1e" stroke-width="1.1"/>
<circle cx="708.4" cy="957.7" r="2.9" fill="#5d3f86" stroke="#1e1e1e" stroke-width="1.1"/>
<circle cx="698.4" cy="850.0" r="2.9" fill="#5d3f86" stroke="#1e1e1e" stroke-width="1.1"/>
<circle cx="698.4" cy="964.2" r="2.9" fill="#5d3f86" stroke="#1e1e1e" stroke-width="1.1"/>
<circle cx="727.8" cy="864.6" r="2.9" fill="#b46796" stroke="#1e1e1e" stroke-width="1.1"/>
<circle cx="729.8" cy="924.0" r="2.9" fill="#b46796" stroke="#1e1e1e" stroke-width="1.1"/>
<circle cx="727.8" cy="944.4" r="2.9" fill="#b46796" stroke="#1e1e1e" stroke-width="1.1"/>
<circle cx="727.8" cy="965.8" r="2.9" fill="#b46796" stroke="#1e1e1e" stroke-width="1.1"/>
<circle cx="727.8" cy="998.6" r="2.9" fill="#b46796" stroke="#1e1e1e" stroke-width="1.1"/>
<circle cx="766.5" cy="930.5" r="2.9" fill="#943b41" stroke="#1e1e1e" stroke-width="1.1"/>
<circle cx="757.0" cy="935.4" r="2.9" fill="#943b41" stroke="#1e1e1e" stroke-width="1.1"/>
<circle cx="757.0" cy="952.2" r="2.9" fill="#943b41" stroke="#1e1e1e" stroke-width="1.1"/>
<circle cx="757.0" cy="969.1" r="2.9" fill="#943b41" stroke="#1e1e1e" stroke-width="1.1"/>
<circle cx="757.0" cy="983.0" r="2.9" fill="#943b41" stroke="#1e1e1e" stroke-width="1.1"/>
<path d="M610.7 948.3V1000.9" stroke="#3d55a0" stroke-width="3.6" fill="none"/>
<path d="M604.8 948.3H616.6 M604.8 1000.9H616.6" stroke="#3d55a0" stroke-width="3.8" fill="none"/>
<rect x="603.5" y="960.0" width="14.4" height="27.6" fill="none" stroke="#3d55a0" stroke-width="2.0"/>
<path d="M603.5 971.7H617.9" stroke="#3d55a0" stroke-width="3.2"/>
<path d="M639.7 936.3V988.2" stroke="#66ad90" stroke-width="3.6" fill="none"/>
<path d="M633.8 936.3H645.6 M633.8 988.2H645.6" stroke="#66ad90" stroke-width="3.8" fill="none"/>
<rect x="632.5" y="949.3" width="14.4" height="23.7" fill="none" stroke="#66ad90" stroke-width="2.0"/>
<path d="M632.5 964.2H646.9" stroke="#66ad90" stroke-width="3.2"/>
<path d="M668.9 946.1V982.1" stroke="#d6783a" stroke-width="3.6" fill="none"/>
<path d="M663.0 946.1H674.8 M663.0 982.1H674.8" stroke="#d6783a" stroke-width="3.8" fill="none"/>
<rect x="661.7" y="946.1" width="14.4" height="16.5" fill="none" stroke="#d6783a" stroke-width="2.0"/>
<path d="M661.7 949.9H676.1" stroke="#d6783a" stroke-width="3.2"/>
<path d="M698.4 850.0V964.2" stroke="#6a4898" stroke-width="3.6" fill="none"/>
<path d="M692.5 850.0H704.3 M692.5 964.2H704.3" stroke="#6a4898" stroke-width="3.8" fill="none"/>
<rect x="691.2" y="886.7" width="14.4" height="70.1" fill="none" stroke="#6a4898" stroke-width="2.0"/>
<path d="M691.2 930.2H705.6" stroke="#6a4898" stroke-width="3.2"/>
<path d="M727.8 924.0V998.6" stroke="#cd75ab" stroke-width="3.6" fill="none"/>
<path d="M721.9 924.0H733.7 M721.9 998.6H733.7" stroke="#cd75ab" stroke-width="3.8" fill="none"/>
<rect x="720.6" y="924.0" width="14.4" height="36.0" fill="none" stroke="#cd75ab" stroke-width="2.0"/>
<path d="M720.6 939.2H735.0" stroke="#cd75ab" stroke-width="3.2"/>
<path d="M757.0 910.4V983.0" stroke="#a8434a" stroke-width="3.6" fill="none"/>
<path d="M751.1 910.4H762.9 M751.1 983.0H762.9" stroke="#a8434a" stroke-width="3.8" fill="none"/>
<rect x="749.8" y="932.1" width="14.4" height="33.7" fill="none" stroke="#a8434a" stroke-width="2.0"/>
<path d="M749.8 943.8H764.2" stroke="#a8434a" stroke-width="3.2"/>
<text transform="translate(583.80,1020.90)" font-size="10.3" font-weight="normal" font-style="normal" fill="#333" text-anchor="end">0</text>
<text transform="translate(583.80,988.46)" font-size="10.3" font-weight="normal" font-style="normal" fill="#333" text-anchor="end">100</text>
<text transform="translate(583.80,956.02)" font-size="10.3" font-weight="normal" font-style="normal" fill="#333" text-anchor="end">200</text>
<text transform="translate(583.80,923.58)" font-size="10.3" font-weight="normal" font-style="normal" fill="#333" text-anchor="end">300</text>
<text transform="translate(583.80,891.14)" font-size="10.3" font-weight="normal" font-style="normal" fill="#333" text-anchor="end">400</text>
<text transform="translate(583.80,858.70)" font-size="10.3" font-weight="normal" font-style="normal" fill="#333" text-anchor="end">500</text>
<text transform="translate(558.00,955.00) rotate(-90)" font-size="17.0" font-weight="normal" font-style="normal" fill="#111" text-anchor="start" textLength="61.0" lengthAdjust="spacingAndGlyphs">nmol/mL</text>
<text transform="translate(599.50,1034.00)" font-size="12.6" font-weight="normal" font-style="normal" fill="#111" text-anchor="start" textLength="17.700000000000024" lengthAdjust="spacingAndGlyphs">NC</text>
<text transform="translate(628.50,1034.00)" font-size="12.6" font-weight="normal" font-style="normal" fill="#111" text-anchor="start" textLength="18.200000000000024" lengthAdjust="spacingAndGlyphs">NO</text>
<text transform="translate(657.40,1034.00)" font-size="12.6" font-weight="normal" font-style="normal" fill="#111" text-anchor="start" textLength="19.6" lengthAdjust="spacingAndGlyphs">EIN</text>
<text transform="translate(683.90,1034.00)" font-size="12.6" font-weight="normal" font-style="normal" fill="#111" text-anchor="start" textLength="25.800000000000047" lengthAdjust="spacingAndGlyphs">ECC</text>
<text transform="translate(712.90,1034.00)" font-size="12.6" font-weight="normal" font-style="normal" fill="#111" text-anchor="start" textLength="26.300000000000047" lengthAdjust="spacingAndGlyphs">ECO</text>
<text transform="translate(741.80,1034.00)" font-size="12.6" font-weight="normal" font-style="normal" fill="#111" text-anchor="start" textLength="35.90000000000007" lengthAdjust="spacingAndGlyphs">ECOH</text>
</svg></body></html>
